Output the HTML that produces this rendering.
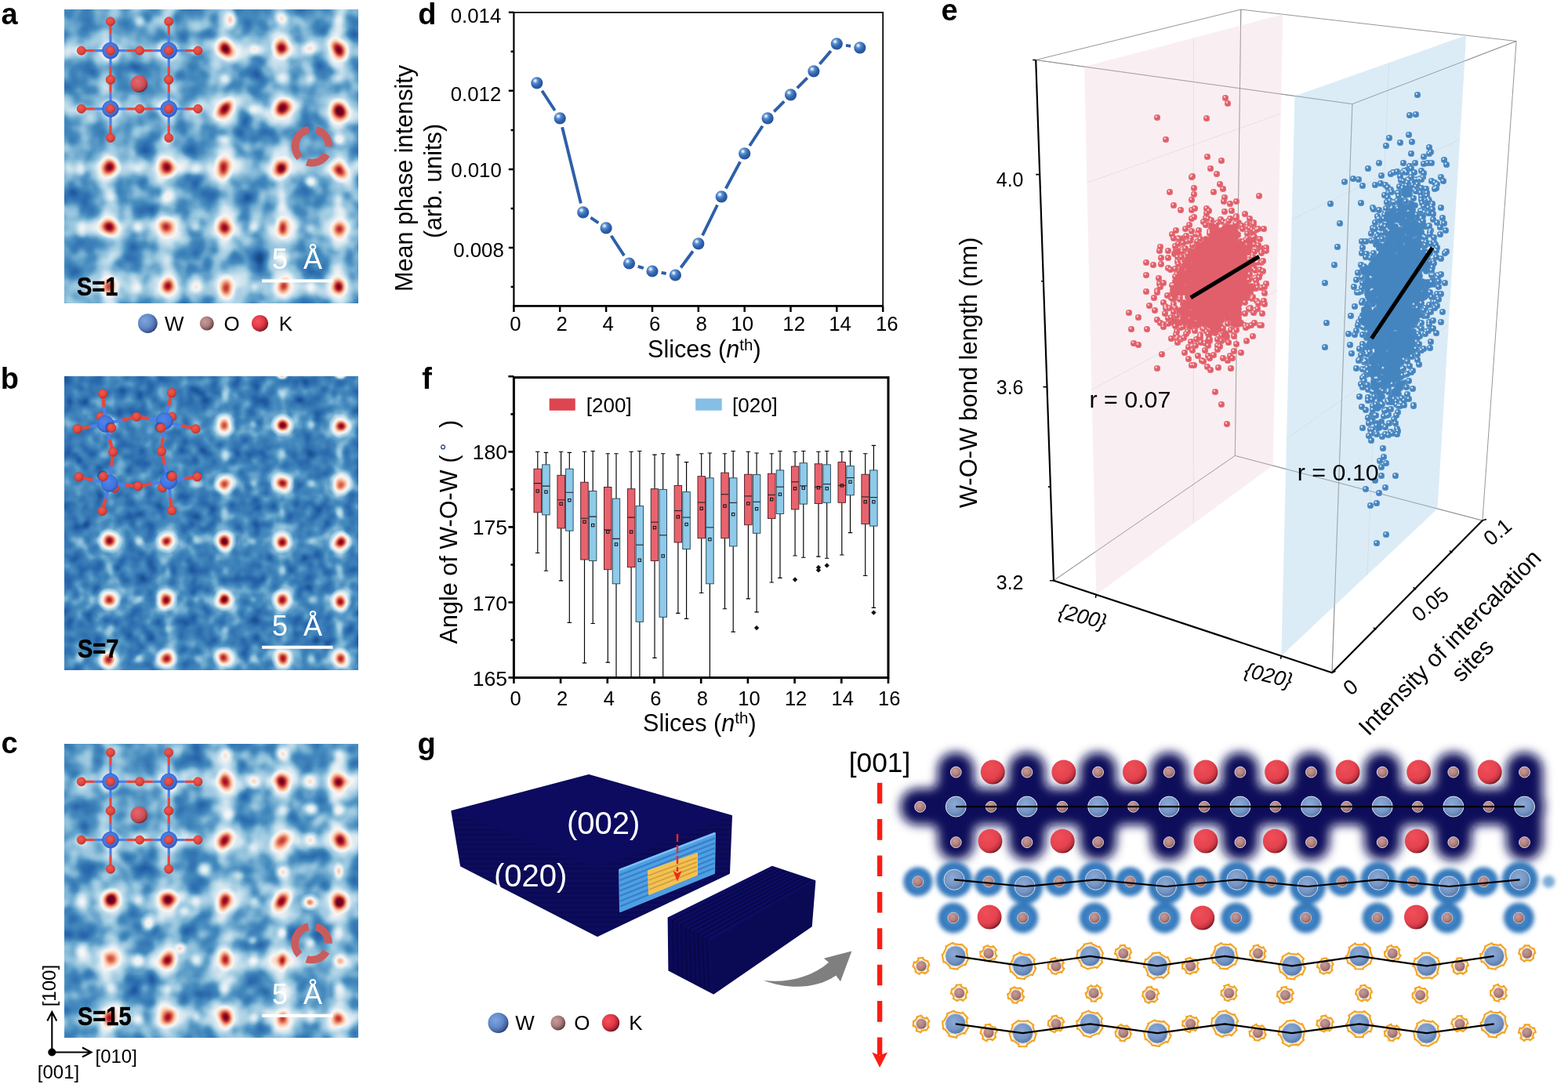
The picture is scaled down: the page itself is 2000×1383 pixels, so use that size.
<!DOCTYPE html>
<html lang="en"><head><meta charset="utf-8"><title>Figure</title>
<style>
html,body{margin:0;padding:0;background:#fff}
body{width:2000px;height:1383px;overflow:hidden}
svg{display:block;font-family:"Liberation Sans",sans-serif}
</style></head><body>
<svg width="2000" height="1383" viewBox="0 0 2000 1383">
<defs><radialGradient id="sS"><stop offset="0.00" stop-color="#fff" stop-opacity="1.000"/><stop offset="0.10" stop-color="#fff" stop-opacity="0.967"/><stop offset="0.20" stop-color="#fff" stop-opacity="0.874"/><stop offset="0.30" stop-color="#fff" stop-opacity="0.738"/><stop offset="0.40" stop-color="#fff" stop-opacity="0.582"/><stop offset="0.50" stop-color="#fff" stop-opacity="0.430"/><stop offset="0.60" stop-color="#fff" stop-opacity="0.296"/><stop offset="0.70" stop-color="#fff" stop-opacity="0.191"/><stop offset="0.80" stop-color="#fff" stop-opacity="0.115"/><stop offset="0.90" stop-color="#fff" stop-opacity="0.065"/><stop offset="1.00" stop-color="#fff" stop-opacity="0.000"/></radialGradient><radialGradient id="sM"><stop offset="0.00" stop-color="#fff" stop-opacity="0.860"/><stop offset="0.10" stop-color="#fff" stop-opacity="0.831"/><stop offset="0.20" stop-color="#fff" stop-opacity="0.751"/><stop offset="0.30" stop-color="#fff" stop-opacity="0.634"/><stop offset="0.40" stop-color="#fff" stop-opacity="0.501"/><stop offset="0.50" stop-color="#fff" stop-opacity="0.369"/><stop offset="0.60" stop-color="#fff" stop-opacity="0.255"/><stop offset="0.70" stop-color="#fff" stop-opacity="0.164"/><stop offset="0.80" stop-color="#fff" stop-opacity="0.099"/><stop offset="0.90" stop-color="#fff" stop-opacity="0.056"/><stop offset="1.00" stop-color="#fff" stop-opacity="0.000"/></radialGradient><radialGradient id="sW"><stop offset="0.00" stop-color="#fff" stop-opacity="0.700"/><stop offset="0.10" stop-color="#fff" stop-opacity="0.677"/><stop offset="0.20" stop-color="#fff" stop-opacity="0.611"/><stop offset="0.30" stop-color="#fff" stop-opacity="0.516"/><stop offset="0.40" stop-color="#fff" stop-opacity="0.408"/><stop offset="0.50" stop-color="#fff" stop-opacity="0.301"/><stop offset="0.60" stop-color="#fff" stop-opacity="0.207"/><stop offset="0.70" stop-color="#fff" stop-opacity="0.134"/><stop offset="0.80" stop-color="#fff" stop-opacity="0.080"/><stop offset="0.90" stop-color="#fff" stop-opacity="0.045"/><stop offset="1.00" stop-color="#fff" stop-opacity="0.000"/></radialGradient><radialGradient id="sH"><stop offset="0.00" stop-color="#fff" stop-opacity="0.400"/><stop offset="0.10" stop-color="#fff" stop-opacity="0.387"/><stop offset="0.20" stop-color="#fff" stop-opacity="0.349"/><stop offset="0.30" stop-color="#fff" stop-opacity="0.295"/><stop offset="0.40" stop-color="#fff" stop-opacity="0.233"/><stop offset="0.50" stop-color="#fff" stop-opacity="0.172"/><stop offset="0.60" stop-color="#fff" stop-opacity="0.118"/><stop offset="0.70" stop-color="#fff" stop-opacity="0.076"/><stop offset="0.80" stop-color="#fff" stop-opacity="0.046"/><stop offset="0.90" stop-color="#fff" stop-opacity="0.026"/><stop offset="1.00" stop-color="#fff" stop-opacity="0.000"/></radialGradient><radialGradient id="sL"><stop offset="0.00" stop-color="#fff" stop-opacity="0.220"/><stop offset="0.10" stop-color="#fff" stop-opacity="0.213"/><stop offset="0.20" stop-color="#fff" stop-opacity="0.192"/><stop offset="0.30" stop-color="#fff" stop-opacity="0.162"/><stop offset="0.40" stop-color="#fff" stop-opacity="0.128"/><stop offset="0.50" stop-color="#fff" stop-opacity="0.095"/><stop offset="0.60" stop-color="#fff" stop-opacity="0.065"/><stop offset="0.70" stop-color="#fff" stop-opacity="0.042"/><stop offset="0.80" stop-color="#fff" stop-opacity="0.025"/><stop offset="0.90" stop-color="#fff" stop-opacity="0.014"/><stop offset="1.00" stop-color="#fff" stop-opacity="0.000"/></radialGradient><radialGradient id="sl"><stop offset="0.00" stop-color="#fff" stop-opacity="0.150"/><stop offset="0.10" stop-color="#fff" stop-opacity="0.145"/><stop offset="0.20" stop-color="#fff" stop-opacity="0.131"/><stop offset="0.30" stop-color="#fff" stop-opacity="0.111"/><stop offset="0.40" stop-color="#fff" stop-opacity="0.087"/><stop offset="0.50" stop-color="#fff" stop-opacity="0.064"/><stop offset="0.60" stop-color="#fff" stop-opacity="0.044"/><stop offset="0.70" stop-color="#fff" stop-opacity="0.029"/><stop offset="0.80" stop-color="#fff" stop-opacity="0.017"/><stop offset="0.90" stop-color="#fff" stop-opacity="0.010"/><stop offset="1.00" stop-color="#fff" stop-opacity="0.000"/></radialGradient><radialGradient id="sh"><stop offset="0.00" stop-color="#fff" stop-opacity="0.330"/><stop offset="0.10" stop-color="#fff" stop-opacity="0.319"/><stop offset="0.20" stop-color="#fff" stop-opacity="0.288"/><stop offset="0.30" stop-color="#fff" stop-opacity="0.243"/><stop offset="0.40" stop-color="#fff" stop-opacity="0.192"/><stop offset="0.50" stop-color="#fff" stop-opacity="0.142"/><stop offset="0.60" stop-color="#fff" stop-opacity="0.098"/><stop offset="0.70" stop-color="#fff" stop-opacity="0.063"/><stop offset="0.80" stop-color="#fff" stop-opacity="0.038"/><stop offset="0.90" stop-color="#fff" stop-opacity="0.021"/><stop offset="1.00" stop-color="#fff" stop-opacity="0.000"/></radialGradient><radialGradient id="sD"><stop offset="0" stop-color="#000" stop-opacity=".13"/><stop offset=".5" stop-color="#000" stop-opacity=".08"/><stop offset="1" stop-color="#000" stop-opacity="0"/></radialGradient><clipPath id="cmac"><rect x="82.3" y="12.3" width="374.7" height="374.7"/></clipPath><filter id="cma" filterUnits="userSpaceOnUse" x="68.3" y="-1.7" width="402.7" height="402.7" color-interpolation-filters="sRGB"><feTurbulence type="fractalNoise" baseFrequency="0.05" numOctaves="2" seed="3" result="n"/><feColorMatrix in="n" type="matrix" values="1 0 0 0 0 1 0 0 0 0 1 0 0 0 0 0 0 0 0 1" result="g0"/><feGaussianBlur in="g0" stdDeviation="2.8" result="g"/><feComposite in="SourceGraphic" in2="g" operator="arithmetic" k1="0" k2="1" k3="0.42" k4="-0.21" result="s"/><feComponentTransfer in="s"><feFuncR type="table" tableValues="0.031 0.149 0.275 0.573 0.820 0.969 0.992 0.957 0.839 0.698 0.404"/><feFuncG type="table" tableValues="0.188 0.392 0.549 0.765 0.898 0.969 0.859 0.647 0.376 0.094 0.000"/><feFuncB type="table" tableValues="0.392 0.667 0.749 0.867 0.941 0.969 0.780 0.510 0.302 0.169 0.122"/><feFuncA type="linear" slope="0" intercept="1"/></feComponentTransfer></filter><clipPath id="cmbc"><rect x="82.3" y="480" width="374.7" height="374.5"/></clipPath><filter id="cmb" filterUnits="userSpaceOnUse" x="68.3" y="466" width="402.7" height="402.5" color-interpolation-filters="sRGB"><feTurbulence type="fractalNoise" baseFrequency="0.075" numOctaves="2" seed="8" result="n"/><feColorMatrix in="n" type="matrix" values="1 0 0 0 0 1 0 0 0 0 1 0 0 0 0 0 0 0 0 1" result="g0"/><feGaussianBlur in="g0" stdDeviation="2.0" result="g"/><feComposite in="SourceGraphic" in2="g" operator="arithmetic" k1="0" k2="1" k3="0.36" k4="-0.18" result="s"/><feComponentTransfer in="s"><feFuncR type="table" tableValues="0.031 0.149 0.275 0.573 0.820 0.969 0.992 0.957 0.839 0.698 0.404"/><feFuncG type="table" tableValues="0.188 0.392 0.549 0.765 0.898 0.969 0.859 0.647 0.376 0.094 0.000"/><feFuncB type="table" tableValues="0.392 0.667 0.749 0.867 0.941 0.969 0.780 0.510 0.302 0.169 0.122"/><feFuncA type="linear" slope="0" intercept="1"/></feComponentTransfer></filter><clipPath id="cmcc"><rect x="82.3" y="949" width="374.7" height="374.6"/></clipPath><filter id="cmc" filterUnits="userSpaceOnUse" x="68.3" y="935" width="402.7" height="402.6" color-interpolation-filters="sRGB"><feTurbulence type="fractalNoise" baseFrequency="0.05" numOctaves="2" seed="5" result="n"/><feColorMatrix in="n" type="matrix" values="1 0 0 0 0 1 0 0 0 0 1 0 0 0 0 0 0 0 0 1" result="g0"/><feGaussianBlur in="g0" stdDeviation="2.8" result="g"/><feComposite in="SourceGraphic" in2="g" operator="arithmetic" k1="0" k2="1" k3="0.42" k4="-0.21" result="s"/><feComponentTransfer in="s"><feFuncR type="table" tableValues="0.031 0.149 0.275 0.573 0.820 0.969 0.992 0.957 0.839 0.698 0.404"/><feFuncG type="table" tableValues="0.188 0.392 0.549 0.765 0.898 0.969 0.859 0.647 0.376 0.094 0.000"/><feFuncB type="table" tableValues="0.392 0.667 0.749 0.867 0.941 0.969 0.780 0.510 0.302 0.169 0.122"/><feFuncA type="linear" slope="0" intercept="1"/></feComponentTransfer></filter>
<radialGradient id="gK" cx="40%" cy="35%" r="65%">
<stop offset="0" stop-color="#e3686e"/><stop offset=".55" stop-color="#d3535b"/><stop offset=".85" stop-color="#b1424b"/><stop offset="1" stop-color="#70242e"/>
</radialGradient>
<radialGradient id="gO" cx="40%" cy="35%" r="65%">
<stop offset="0" stop-color="#ee5a50"/><stop offset=".7" stop-color="#e0443c"/><stop offset="1" stop-color="#b5302c"/>
</radialGradient>
<radialGradient id="gW" cx="42%" cy="38%" r="65%">
<stop offset="0" stop-color="#4f86ea"/><stop offset=".7" stop-color="#3f73de"/><stop offset="1" stop-color="#2c55b8"/>
</radialGradient>
<radialGradient id="lW" cx="36%" cy="36%" r="72%">
<stop offset="0" stop-color="#7fa4e0"/><stop offset=".5" stop-color="#6389c8"/><stop offset=".8" stop-color="#43639f"/><stop offset="1" stop-color="#1c2c52"/>
</radialGradient>
<radialGradient id="lO" cx="36%" cy="36%" r="72%">
<stop offset="0" stop-color="#c99a9a"/><stop offset=".5" stop-color="#ad7f7f"/><stop offset=".8" stop-color="#7f5757"/><stop offset="1" stop-color="#3a2424"/>
</radialGradient>
<radialGradient id="lK" cx="36%" cy="36%" r="72%">
<stop offset="0" stop-color="#f6525e"/><stop offset=".5" stop-color="#e23a48"/><stop offset=".8" stop-color="#a82030"/><stop offset="1" stop-color="#4c0a14"/>
</radialGradient>
<filter id="b5" x="-20%" y="-20%" width="140%" height="140%"><feGaussianBlur stdDeviation="6"/></filter>
<radialGradient id="dB" cx="36%" cy="32%" r="75%">
<stop offset="0" stop-color="#ffffff"/><stop offset=".1" stop-color="#cfe0f4"/><stop offset=".28" stop-color="#5b8fd0"/><stop offset=".6" stop-color="#2f63ae"/><stop offset="1" stop-color="#234f93"/>
</radialGradient>
<filter id="gb" x="-5%" y="-30%" width="110%" height="160%"><feGaussianBlur stdDeviation="6.3"/></filter>
<filter id="gb2" x="-5%" y="-30%" width="110%" height="160%"><feGaussianBlur stdDeviation="2.8"/></filter>
<radialGradient id="aW" cx="42%" cy="38%" r="66%"><stop offset="0" stop-color="#8caad6"/><stop offset=".6" stop-color="#7596c6"/><stop offset="1" stop-color="#56739f"/></radialGradient>
<radialGradient id="aO" cx="40%" cy="35%" r="68%"><stop offset="0" stop-color="#c99a98"/><stop offset=".6" stop-color="#ad807f"/><stop offset="1" stop-color="#7d5856"/></radialGradient>
<radialGradient id="aK" cx="36%" cy="32%" r="74%"><stop offset="0" stop-color="#f04e58"/><stop offset=".6" stop-color="#e4434f"/><stop offset=".82" stop-color="#c2333f"/><stop offset="1" stop-color="#5e0f19"/></radialGradient>
<radialGradient id="bg1"><stop offset="0" stop-color="#4f93d2"/><stop offset=".5" stop-color="#3d83c6"/><stop offset=".8" stop-color="#2b6fb3"/><stop offset="1" stop-color="#4a8fd0" stop-opacity="0"/></radialGradient>
<linearGradient id="sl1" x1="0" y1="0" x2="0" y2="1"><stop offset="0" stop-color="#0f0d66"/><stop offset="1" stop-color="#0b0a58"/></linearGradient>
<pattern id="hs" width="6" height="6.2" patternUnits="userSpaceOnUse"><rect width="6" height="6.2" fill="#0a0952"/><rect y="0" width="6" height="3" fill="#0d0c60"/></pattern>
<pattern id="vs" width="5.2" height="6" patternUnits="userSpaceOnUse"><rect width="5.2" height="6" fill="#0a0952"/><rect x="0" width="2.8" height="6" fill="#0e0d64"/></pattern>
</defs>
<rect width="2000" height="1383" fill="#fff"/>
<g clip-path="url(#cmac)"><g filter="url(#cma)"><rect x="62.3" y="-7.7" width="414.7" height="414.7" fill="rgb(55,55,55)"/><g filter="url(#b5)"><rect x="131" y="-7.7" width="20" height="414.7" fill="#fff" opacity="0.12"/><rect x="204" y="-7.7" width="20" height="414.7" fill="#fff" opacity="0.12"/><rect x="277" y="-7.7" width="20" height="414.7" fill="#fff" opacity="0.12"/><rect x="350" y="-7.7" width="20" height="414.7" fill="#fff" opacity="0.12"/><rect x="423" y="-7.7" width="20" height="414.7" fill="#fff" opacity="0.12"/><rect x="62.3" y="54" width="414.7" height="20" fill="#fff" opacity="0.12"/><rect x="62.3" y="129" width="414.7" height="20" fill="#fff" opacity="0.12"/><rect x="62.3" y="204" width="414.7" height="20" fill="#fff" opacity="0.12"/><rect x="62.3" y="280" width="414.7" height="20" fill="#fff" opacity="0.12"/><rect x="62.3" y="356" width="414.7" height="20" fill="#fff" opacity="0.12"/></g><ellipse cx="178" cy="100" rx="26" ry="22" fill="url(#sD)"/><ellipse cx="250" cy="100" rx="22" ry="22" fill="url(#sD)"/><ellipse cx="324" cy="100" rx="20" ry="20" fill="url(#sD)"/><ellipse cx="104" cy="100" rx="18" ry="22" fill="url(#sD)"/><ellipse cx="250" cy="178" rx="24" ry="20" fill="url(#sD)"/><ellipse cx="324" cy="180" rx="22" ry="18" fill="url(#sD)"/><ellipse cx="178" cy="180" rx="22" ry="16" fill="url(#sD)"/><ellipse cx="250" cy="252" rx="24" ry="22" fill="url(#sD)"/><ellipse cx="324" cy="252" rx="22" ry="24" fill="url(#sD)"/><ellipse cx="178" cy="252" rx="20" ry="22" fill="url(#sD)"/><ellipse cx="104" cy="252" rx="16" ry="20" fill="url(#sD)"/><ellipse cx="396" cy="255" rx="18" ry="22" fill="url(#sD)"/><ellipse cx="250" cy="328" rx="24" ry="22" fill="url(#sD)"/><ellipse cx="324" cy="328" rx="22" ry="22" fill="url(#sD)"/><ellipse cx="178" cy="328" rx="22" ry="22" fill="url(#sD)"/><ellipse cx="396" cy="328" rx="18" ry="22" fill="url(#sD)"/><ellipse cx="104" cy="328" rx="18" ry="22" fill="url(#sD)"/><ellipse cx="396" cy="140" rx="16" ry="16" fill="url(#sD)"/><ellipse cx="445" cy="200" rx="12" ry="30" fill="url(#sD)"/><ellipse cx="90" cy="180" rx="12" ry="30" fill="url(#sD)"/><ellipse cx="324" cy="64" rx="14" ry="11" fill="url(#sH)"/><ellipse cx="396" cy="62" rx="14" ry="12" fill="url(#sH)"/><ellipse cx="294" cy="26" rx="11" ry="15" fill="url(#sH)"/><ellipse cx="360" cy="24" rx="12" ry="14" fill="url(#sH)"/><ellipse cx="432" cy="26" rx="11" ry="14" fill="url(#sL)"/><ellipse cx="432" cy="178" rx="12" ry="12" fill="url(#sH)"/><ellipse cx="396" cy="232" rx="12" ry="12" fill="url(#sH)"/><ellipse cx="323" cy="140" rx="14" ry="10" fill="url(#sL)"/><ellipse cx="250" cy="215" rx="12" ry="12" fill="url(#sL)"/><ellipse cx="176" cy="215" rx="12" ry="11" fill="url(#sL)"/><ellipse cx="103" cy="215" rx="12" ry="18" fill="url(#sL)"/><ellipse cx="360" cy="255" rx="10" ry="24" fill="url(#sL)"/><ellipse cx="432" cy="255" rx="10" ry="20" fill="url(#sL)"/><ellipse cx="360" cy="328" rx="11" ry="15" fill="url(#sL)"/><ellipse cx="323" cy="290" rx="12" ry="11" fill="url(#sL)"/><ellipse cx="250" cy="290" rx="12" ry="11" fill="url(#sL)"/><ellipse cx="176" cy="290" rx="12" ry="11" fill="url(#sL)"/><ellipse cx="104" cy="290" rx="11" ry="15" fill="url(#sL)"/><ellipse cx="396" cy="292" rx="12" ry="11" fill="url(#sL)"/><ellipse cx="396" cy="366" rx="11" ry="12" fill="url(#sL)"/><ellipse cx="324" cy="366" rx="12" ry="11" fill="url(#sL)"/><ellipse cx="250" cy="366" rx="12" ry="11" fill="url(#sL)"/><ellipse cx="176" cy="366" rx="12" ry="11" fill="url(#sL)"/><ellipse cx="214" cy="250" rx="12" ry="15" fill="url(#sL)"/><ellipse cx="141" cy="250" rx="12" ry="15" fill="url(#sL)"/><ellipse cx="287" cy="178" rx="15" ry="12" fill="url(#sL)"/><ellipse cx="212" cy="178" rx="12" ry="12" fill="url(#sL)"/><ellipse cx="287" cy="100" rx="12" ry="12" fill="url(#sL)"/><ellipse cx="360" cy="100" rx="12" ry="12" fill="url(#sL)"/><ellipse cx="432" cy="100" rx="12" ry="12" fill="url(#sL)"/><ellipse cx="396" cy="100" rx="11" ry="11" fill="url(#sL)"/><ellipse cx="103" cy="64" rx="12" ry="11" fill="url(#sL)"/><ellipse cx="103" cy="139" rx="12" ry="11" fill="url(#sL)"/><ellipse cx="178" cy="139" rx="12" ry="10" fill="url(#sL)"/><ellipse cx="178" cy="28" rx="12" ry="12" fill="url(#sL)"/><ellipse cx="250" cy="64" rx="12" ry="10" fill="url(#sL)"/><ellipse cx="250" cy="139" rx="12" ry="10" fill="url(#sL)"/><circle cx="287.5" cy="62.5" r="31" fill="url(#sh)"/><circle cx="359.3" cy="62" r="31" fill="url(#sh)"/><circle cx="432" cy="63" r="31" fill="url(#sh)"/><circle cx="286.5" cy="138.5" r="31" fill="url(#sh)"/><circle cx="360" cy="138.5" r="31" fill="url(#sh)"/><circle cx="433.7" cy="141" r="31" fill="url(#sh)"/><circle cx="140.5" cy="213.5" r="31" fill="url(#sh)"/><circle cx="212.5" cy="213.5" r="31" fill="url(#sh)"/><circle cx="285" cy="214" r="31" fill="url(#sh)"/><circle cx="359.5" cy="215" r="31" fill="url(#sh)"/><circle cx="432.8" cy="217" r="31" fill="url(#sh)"/><circle cx="139.5" cy="289.5" r="31" fill="url(#sh)"/><circle cx="212.5" cy="290" r="31" fill="url(#sh)"/><circle cx="286" cy="290.5" r="31" fill="url(#sh)"/><circle cx="360.5" cy="291" r="31" fill="url(#sh)"/><circle cx="433.5" cy="292" r="31" fill="url(#sh)"/><circle cx="139" cy="366" r="31" fill="url(#sh)"/><circle cx="214" cy="365.5" r="31" fill="url(#sh)"/><circle cx="289" cy="366" r="31" fill="url(#sh)"/><circle cx="361.5" cy="365" r="31" fill="url(#sh)"/><circle cx="432.5" cy="366" r="31" fill="url(#sh)"/><ellipse cx="141" cy="64.5" rx="16.3" ry="16.3" fill="url(#sH)"/><ellipse cx="215" cy="64.5" rx="16.3" ry="16.3" fill="url(#sH)"/><ellipse cx="141" cy="139.5" rx="16.3" ry="16.3" fill="url(#sH)"/><ellipse cx="215" cy="139.5" rx="16.3" ry="16.3" fill="url(#sH)"/><ellipse cx="287.5" cy="62.5" rx="14.1" ry="17" fill="url(#sS)" transform="rotate(-25 287.5 62.5)"/><ellipse cx="359.3" cy="62" rx="14.8" ry="16.3" fill="url(#sS)" transform="rotate(-20 359.3 62)"/><ellipse cx="432" cy="63" rx="13.3" ry="17.8" fill="url(#sS)" transform="rotate(-30 432 63)"/><ellipse cx="286.5" cy="138.5" rx="12.6" ry="19.2" fill="url(#sM)" transform="rotate(40 286.5 138.5)"/><ellipse cx="360" cy="138.5" rx="14.8" ry="17" fill="url(#sS)" transform="rotate(60 360 138.5)"/><ellipse cx="433.7" cy="141" rx="14.1" ry="17.8" fill="url(#sS)" transform="rotate(-30 433.7 141)"/><ellipse cx="140.5" cy="213.5" rx="15.5" ry="15.5" fill="url(#sS)"/><ellipse cx="212.5" cy="213.5" rx="14.8" ry="16.3" fill="url(#sS)" transform="rotate(-20 212.5 213.5)"/><ellipse cx="285" cy="214" rx="13.3" ry="17.8" fill="url(#sS)" transform="rotate(-10 285 214)"/><ellipse cx="359.5" cy="215" rx="13.3" ry="17.8" fill="url(#sS)" transform="rotate(20 359.5 215)"/><ellipse cx="432.8" cy="217" rx="14.1" ry="17.8" fill="url(#sS)" transform="rotate(-20 432.8 217)"/><ellipse cx="139.5" cy="289.5" rx="15.5" ry="14.8" fill="url(#sM)"/><ellipse cx="212.5" cy="290" rx="14.8" ry="16.3" fill="url(#sM)" transform="rotate(-20 212.5 290)"/><ellipse cx="286" cy="290.5" rx="13.3" ry="17" fill="url(#sM)" transform="rotate(-25 286 290.5)"/><ellipse cx="360.5" cy="291" rx="11.1" ry="17" fill="url(#sM)"/><ellipse cx="433.5" cy="292" rx="14.8" ry="12.6" fill="url(#sW)"/><ellipse cx="139" cy="366" rx="14.8" ry="15.5" fill="url(#sM)"/><ellipse cx="214" cy="365.5" rx="13.3" ry="16.3" fill="url(#sM)" transform="rotate(15 214 365.5)"/><ellipse cx="289" cy="366" rx="12.6" ry="17.8" fill="url(#sM)"/><ellipse cx="361.5" cy="365" rx="12.6" ry="13.3" fill="url(#sW)"/><ellipse cx="432.5" cy="366" rx="12.6" ry="14.1" fill="url(#sM)"/></g></g><g><line x1="141" y1="64.6" x2="161.4" y2="64.6" stroke="#4a80e8" stroke-width="3.2"/><line x1="161.4" y1="64.6" x2="178.2" y2="64.6" stroke="#e8463c" stroke-width="3.2"/><line x1="141" y1="64.6" x2="120.6" y2="64.6" stroke="#4a80e8" stroke-width="3.2"/><line x1="120.6" y1="64.6" x2="103.8" y2="64.6" stroke="#e8463c" stroke-width="3.2"/><line x1="141" y1="64.6" x2="141" y2="85" stroke="#4a80e8" stroke-width="3.2"/><line x1="141" y1="85" x2="141" y2="101.8" stroke="#e8463c" stroke-width="3.2"/><line x1="141" y1="64.6" x2="141" y2="44.2" stroke="#4a80e8" stroke-width="3.2"/><line x1="141" y1="44.2" x2="141" y2="27.4" stroke="#e8463c" stroke-width="3.2"/><line x1="215.3" y1="64.6" x2="235.7" y2="64.6" stroke="#4a80e8" stroke-width="3.2"/><line x1="235.7" y1="64.6" x2="252.5" y2="64.6" stroke="#e8463c" stroke-width="3.2"/><line x1="215.3" y1="64.6" x2="194.9" y2="64.6" stroke="#4a80e8" stroke-width="3.2"/><line x1="194.9" y1="64.6" x2="178.2" y2="64.6" stroke="#e8463c" stroke-width="3.2"/><line x1="215.3" y1="64.6" x2="215.3" y2="85" stroke="#4a80e8" stroke-width="3.2"/><line x1="215.3" y1="85" x2="215.3" y2="101.8" stroke="#e8463c" stroke-width="3.2"/><line x1="215.3" y1="64.6" x2="215.3" y2="44.2" stroke="#4a80e8" stroke-width="3.2"/><line x1="215.3" y1="44.2" x2="215.3" y2="27.4" stroke="#e8463c" stroke-width="3.2"/><line x1="141" y1="138.9" x2="161.4" y2="138.9" stroke="#4a80e8" stroke-width="3.2"/><line x1="161.4" y1="138.9" x2="178.2" y2="138.9" stroke="#e8463c" stroke-width="3.2"/><line x1="141" y1="138.9" x2="120.6" y2="138.9" stroke="#4a80e8" stroke-width="3.2"/><line x1="120.6" y1="138.9" x2="103.8" y2="138.9" stroke="#e8463c" stroke-width="3.2"/><line x1="141" y1="138.9" x2="141" y2="159.3" stroke="#4a80e8" stroke-width="3.2"/><line x1="141" y1="159.3" x2="141" y2="176" stroke="#e8463c" stroke-width="3.2"/><line x1="141" y1="138.9" x2="141" y2="118.5" stroke="#4a80e8" stroke-width="3.2"/><line x1="141" y1="118.5" x2="141" y2="101.7" stroke="#e8463c" stroke-width="3.2"/><line x1="215.3" y1="138.9" x2="235.7" y2="138.9" stroke="#4a80e8" stroke-width="3.2"/><line x1="235.7" y1="138.9" x2="252.5" y2="138.9" stroke="#e8463c" stroke-width="3.2"/><line x1="215.3" y1="138.9" x2="194.9" y2="138.9" stroke="#4a80e8" stroke-width="3.2"/><line x1="194.9" y1="138.9" x2="178.2" y2="138.9" stroke="#e8463c" stroke-width="3.2"/><line x1="215.3" y1="138.9" x2="215.3" y2="159.3" stroke="#4a80e8" stroke-width="3.2"/><line x1="215.3" y1="159.3" x2="215.3" y2="176" stroke="#e8463c" stroke-width="3.2"/><line x1="215.3" y1="138.9" x2="215.3" y2="118.5" stroke="#4a80e8" stroke-width="3.2"/><line x1="215.3" y1="118.5" x2="215.3" y2="101.7" stroke="#e8463c" stroke-width="3.2"/><circle cx="103.8" cy="64.6" r="5.6" fill="url(#gO)" stroke="#c8382f" stroke-width=".6"/><circle cx="103.8" cy="138.9" r="5.6" fill="url(#gO)" stroke="#c8382f" stroke-width=".6"/><circle cx="141" cy="27.4" r="5.6" fill="url(#gO)" stroke="#c8382f" stroke-width=".6"/><circle cx="141" cy="101.7" r="5.6" fill="url(#gO)" stroke="#c8382f" stroke-width=".6"/><circle cx="141" cy="101.8" r="5.6" fill="url(#gO)" stroke="#c8382f" stroke-width=".6"/><circle cx="141" cy="176" r="5.6" fill="url(#gO)" stroke="#c8382f" stroke-width=".6"/><circle cx="178.2" cy="64.6" r="5.6" fill="url(#gO)" stroke="#c8382f" stroke-width=".6"/><circle cx="178.2" cy="138.9" r="5.6" fill="url(#gO)" stroke="#c8382f" stroke-width=".6"/><circle cx="215.3" cy="27.4" r="5.6" fill="url(#gO)" stroke="#c8382f" stroke-width=".6"/><circle cx="215.3" cy="101.7" r="5.6" fill="url(#gO)" stroke="#c8382f" stroke-width=".6"/><circle cx="215.3" cy="101.8" r="5.6" fill="url(#gO)" stroke="#c8382f" stroke-width=".6"/><circle cx="215.3" cy="176" r="5.6" fill="url(#gO)" stroke="#c8382f" stroke-width=".6"/><circle cx="252.5" cy="64.6" r="5.6" fill="url(#gO)" stroke="#c8382f" stroke-width=".6"/><circle cx="252.5" cy="138.9" r="5.6" fill="url(#gO)" stroke="#c8382f" stroke-width=".6"/><circle cx="141" cy="64.6" r="10.4" fill="url(#gW)" stroke="#2c55b8" stroke-width=".7"/><circle cx="141" cy="64.6" r="5.6" fill="url(#gO)" stroke="#c8382f" stroke-width=".6"/><circle cx="215.3" cy="64.6" r="10.4" fill="url(#gW)" stroke="#2c55b8" stroke-width=".7"/><circle cx="215.3" cy="64.6" r="5.6" fill="url(#gO)" stroke="#c8382f" stroke-width=".6"/><circle cx="141" cy="138.9" r="10.4" fill="url(#gW)" stroke="#2c55b8" stroke-width=".7"/><circle cx="141" cy="138.9" r="5.6" fill="url(#gO)" stroke="#c8382f" stroke-width=".6"/><circle cx="215.3" cy="138.9" r="10.4" fill="url(#gW)" stroke="#2c55b8" stroke-width=".7"/><circle cx="215.3" cy="138.9" r="5.6" fill="url(#gO)" stroke="#c8382f" stroke-width=".6"/><circle cx="177.3" cy="107" r="10.8" fill="url(#gK)"/></g><path d="M393.9 165.4A21.4 21.4 0 0 0 382.3 201" fill="none" stroke="#e2564f" stroke-width="9.6"/><path d="M393.5 165.5A21.4 21.4 0 0 0 382 200.7" fill="none" stroke="#c85c5f" stroke-width="8.2"/><path d="M419.4 186.8A21.4 21.4 0 0 0 403.2 165.6" fill="none" stroke="#e2564f" stroke-width="9.6"/><path d="M419.4 186.3A21.4 21.4 0 0 0 403.6 165.7" fill="none" stroke="#c85c5f" stroke-width="8.2"/><path d="M391.4 206.8A21.4 21.4 0 0 0 416.5 197.1" fill="none" stroke="#e2564f" stroke-width="9.6"/><path d="M391.8 206.9A21.4 21.4 0 0 0 416.3 197.5" fill="none" stroke="#c85c5f" stroke-width="8.2"/><rect x="334.2" y="356.4" width="90.3" height="4" fill="#fff"/><text x="347" y="343.2" font-size="36" fill="#fff">5</text><text x="387" y="343.2" font-size="36" fill="#fff">Å</text><text transform="translate(98 376.5) scale(1 1.14)" font-size="29" font-weight="bold" fill="#000" stroke="#000" stroke-width=".5" stroke-linejoin="round">S=1</text><g clip-path="url(#cmbc)"><g filter="url(#cmb)"><rect x="62.3" y="460" width="414.7" height="414.5" fill="rgb(42,42,42)"/><g filter="url(#b5)"><rect x="131" y="460" width="20" height="414.5" fill="#fff" opacity="0.04"/><rect x="204" y="460" width="20" height="414.5" fill="#fff" opacity="0.04"/><rect x="277" y="460" width="20" height="414.5" fill="#fff" opacity="0.04"/><rect x="350" y="460" width="20" height="414.5" fill="#fff" opacity="0.04"/><rect x="423" y="460" width="20" height="414.5" fill="#fff" opacity="0.04"/><rect x="62.3" y="532" width="414.7" height="20" fill="#fff" opacity="0.04"/><rect x="62.3" y="607" width="414.7" height="20" fill="#fff" opacity="0.04"/><rect x="62.3" y="681" width="414.7" height="20" fill="#fff" opacity="0.04"/><rect x="62.3" y="755" width="414.7" height="20" fill="#fff" opacity="0.04"/><rect x="62.3" y="830" width="414.7" height="20" fill="#fff" opacity="0.04"/></g><ellipse cx="104" cy="505" rx="22" ry="22" fill="url(#sD)"/><ellipse cx="104" cy="580" rx="22" ry="22" fill="url(#sD)"/><ellipse cx="104" cy="654" rx="22" ry="22" fill="url(#sD)"/><ellipse cx="104" cy="728" rx="22" ry="22" fill="url(#sD)"/><ellipse cx="104" cy="803" rx="22" ry="22" fill="url(#sD)"/><ellipse cx="178" cy="505" rx="22" ry="22" fill="url(#sD)"/><ellipse cx="178" cy="580" rx="22" ry="22" fill="url(#sD)"/><ellipse cx="178" cy="654" rx="22" ry="22" fill="url(#sD)"/><ellipse cx="178" cy="728" rx="22" ry="22" fill="url(#sD)"/><ellipse cx="178" cy="803" rx="22" ry="22" fill="url(#sD)"/><ellipse cx="250" cy="505" rx="22" ry="22" fill="url(#sD)"/><ellipse cx="250" cy="580" rx="22" ry="22" fill="url(#sD)"/><ellipse cx="250" cy="654" rx="22" ry="22" fill="url(#sD)"/><ellipse cx="250" cy="728" rx="22" ry="22" fill="url(#sD)"/><ellipse cx="250" cy="803" rx="22" ry="22" fill="url(#sD)"/><ellipse cx="324" cy="505" rx="22" ry="22" fill="url(#sD)"/><ellipse cx="324" cy="580" rx="22" ry="22" fill="url(#sD)"/><ellipse cx="324" cy="654" rx="22" ry="22" fill="url(#sD)"/><ellipse cx="324" cy="728" rx="22" ry="22" fill="url(#sD)"/><ellipse cx="324" cy="803" rx="22" ry="22" fill="url(#sD)"/><ellipse cx="397" cy="505" rx="22" ry="22" fill="url(#sD)"/><ellipse cx="397" cy="580" rx="22" ry="22" fill="url(#sD)"/><ellipse cx="397" cy="654" rx="22" ry="22" fill="url(#sD)"/><ellipse cx="397" cy="728" rx="22" ry="22" fill="url(#sD)"/><ellipse cx="397" cy="803" rx="22" ry="22" fill="url(#sD)"/><ellipse cx="141" cy="728" rx="9" ry="14" fill="url(#sl)"/><ellipse cx="141" cy="803" rx="9" ry="14" fill="url(#sl)"/><ellipse cx="214" cy="728" rx="9" ry="14" fill="url(#sl)"/><ellipse cx="214" cy="803" rx="9" ry="14" fill="url(#sl)"/><ellipse cx="287" cy="505" rx="9" ry="14" fill="url(#sl)"/><ellipse cx="287" cy="580" rx="9" ry="14" fill="url(#sl)"/><ellipse cx="287" cy="654" rx="9" ry="14" fill="url(#sl)"/><ellipse cx="287" cy="728" rx="9" ry="14" fill="url(#sl)"/><ellipse cx="287" cy="803" rx="9" ry="14" fill="url(#sl)"/><ellipse cx="360" cy="505" rx="9" ry="14" fill="url(#sl)"/><ellipse cx="360" cy="580" rx="9" ry="14" fill="url(#sl)"/><ellipse cx="360" cy="654" rx="9" ry="14" fill="url(#sl)"/><ellipse cx="360" cy="728" rx="9" ry="14" fill="url(#sl)"/><ellipse cx="360" cy="803" rx="9" ry="14" fill="url(#sl)"/><ellipse cx="433" cy="505" rx="9" ry="14" fill="url(#sl)"/><ellipse cx="433" cy="580" rx="9" ry="14" fill="url(#sl)"/><ellipse cx="433" cy="654" rx="9" ry="14" fill="url(#sl)"/><ellipse cx="433" cy="728" rx="9" ry="14" fill="url(#sl)"/><ellipse cx="433" cy="803" rx="9" ry="14" fill="url(#sl)"/><ellipse cx="103" cy="691" rx="10" ry="10" fill="url(#sl)"/><ellipse cx="103" cy="765" rx="10" ry="10" fill="url(#sl)"/><ellipse cx="103" cy="840" rx="10" ry="10" fill="url(#sl)"/><ellipse cx="177" cy="691" rx="10" ry="10" fill="url(#sl)"/><ellipse cx="177" cy="765" rx="10" ry="10" fill="url(#sl)"/><ellipse cx="177" cy="840" rx="10" ry="10" fill="url(#sl)"/><ellipse cx="250" cy="542" rx="10" ry="10" fill="url(#sl)"/><ellipse cx="250" cy="617" rx="10" ry="10" fill="url(#sl)"/><ellipse cx="250" cy="691" rx="10" ry="10" fill="url(#sl)"/><ellipse cx="250" cy="765" rx="10" ry="10" fill="url(#sl)"/><ellipse cx="250" cy="840" rx="10" ry="10" fill="url(#sl)"/><ellipse cx="323" cy="542" rx="10" ry="10" fill="url(#sl)"/><ellipse cx="323" cy="617" rx="10" ry="10" fill="url(#sl)"/><ellipse cx="323" cy="691" rx="10" ry="10" fill="url(#sl)"/><ellipse cx="323" cy="765" rx="10" ry="10" fill="url(#sl)"/><ellipse cx="323" cy="840" rx="10" ry="10" fill="url(#sl)"/><ellipse cx="397" cy="542" rx="10" ry="10" fill="url(#sl)"/><ellipse cx="397" cy="617" rx="10" ry="10" fill="url(#sl)"/><ellipse cx="397" cy="691" rx="10" ry="10" fill="url(#sl)"/><ellipse cx="397" cy="765" rx="10" ry="10" fill="url(#sl)"/><ellipse cx="397" cy="840" rx="10" ry="10" fill="url(#sl)"/><ellipse cx="360" cy="478" rx="10" ry="8" fill="url(#sM)"/><ellipse cx="434" cy="478" rx="10" ry="8" fill="url(#sW)"/><circle cx="286" cy="542" r="27" fill="url(#sL)"/><circle cx="360.3" cy="542.5" r="27" fill="url(#sL)"/><circle cx="434.5" cy="543.5" r="27" fill="url(#sL)"/><circle cx="287" cy="617" r="27" fill="url(#sL)"/><circle cx="360.3" cy="616.5" r="27" fill="url(#sL)"/><circle cx="435" cy="618" r="27" fill="url(#sL)"/><circle cx="139.5" cy="690.5" r="27" fill="url(#sL)"/><circle cx="213" cy="691" r="27" fill="url(#sL)"/><circle cx="286.3" cy="690.5" r="27" fill="url(#sL)"/><circle cx="360.3" cy="691" r="27" fill="url(#sL)"/><circle cx="434.3" cy="692" r="27" fill="url(#sL)"/><circle cx="139.5" cy="765" r="27" fill="url(#sL)"/><circle cx="212.5" cy="765.5" r="27" fill="url(#sL)"/><circle cx="286" cy="765.5" r="27" fill="url(#sL)"/><circle cx="360.3" cy="765.5" r="27" fill="url(#sL)"/><circle cx="434.5" cy="767" r="27" fill="url(#sL)"/><circle cx="138.5" cy="841" r="27" fill="url(#sL)"/><circle cx="212" cy="840.5" r="27" fill="url(#sL)"/><circle cx="285.5" cy="840" r="27" fill="url(#sL)"/><circle cx="360.5" cy="840.5" r="27" fill="url(#sL)"/><circle cx="434.5" cy="841" r="27" fill="url(#sL)"/><ellipse cx="137" cy="541" rx="15.6" ry="15.6" fill="url(#sH)"/><ellipse cx="211" cy="540" rx="13.9" ry="13.9" fill="url(#sL)"/><ellipse cx="140" cy="616" rx="13.9" ry="13.9" fill="url(#sL)"/><ellipse cx="214" cy="614" rx="13.9" ry="13.9" fill="url(#sL)"/><ellipse cx="286" cy="542" rx="15.6" ry="16.4" fill="url(#sW)" transform="rotate(-30 286 542)"/><ellipse cx="360.3" cy="542.5" rx="15.6" ry="15.6" fill="url(#sS)"/><ellipse cx="434.5" cy="543.5" rx="14.8" ry="16.4" fill="url(#sS)" transform="rotate(-20 434.5 543.5)"/><ellipse cx="287" cy="617" rx="15.6" ry="15.6" fill="url(#sW)"/><ellipse cx="360.3" cy="616.5" rx="16.4" ry="14.8" fill="url(#sM)" transform="rotate(20 360.3 616.5)"/><ellipse cx="435" cy="618" rx="16.4" ry="16.4" fill="url(#sW)"/><ellipse cx="139.5" cy="690.5" rx="16.4" ry="17.2" fill="url(#sM)" transform="rotate(-35 139.5 690.5)"/><ellipse cx="213" cy="691" rx="15.6" ry="15.6" fill="url(#sM)"/><ellipse cx="286.3" cy="690.5" rx="15.6" ry="15.6" fill="url(#sS)"/><ellipse cx="360.3" cy="691" rx="14.8" ry="15.6" fill="url(#sS)"/><ellipse cx="434.3" cy="692" rx="15.6" ry="15.6" fill="url(#sS)"/><ellipse cx="139.5" cy="765" rx="15.6" ry="15.6" fill="url(#sM)"/><ellipse cx="212.5" cy="765.5" rx="14.8" ry="15.6" fill="url(#sS)"/><ellipse cx="286" cy="765.5" rx="14.8" ry="14.8" fill="url(#sS)"/><ellipse cx="360.3" cy="765.5" rx="14.8" ry="15.6" fill="url(#sS)"/><ellipse cx="434.5" cy="767" rx="14.8" ry="15.6" fill="url(#sM)"/><ellipse cx="138.5" cy="841" rx="14.8" ry="15.6" fill="url(#sM)"/><ellipse cx="212" cy="840.5" rx="14.8" ry="14.8" fill="url(#sM)"/><ellipse cx="285.5" cy="840" rx="14.8" ry="15.6" fill="url(#sM)"/><ellipse cx="360.5" cy="840.5" rx="14.8" ry="15.6" fill="url(#sM)"/><ellipse cx="434.5" cy="841" rx="13.9" ry="15.6" fill="url(#sM)"/></g></g><g clip-path="url(#cmcc)"><g filter="url(#cmc)"><rect x="62.3" y="929" width="414.7" height="414.6" fill="rgb(55,55,55)"/><g filter="url(#b5)"><rect x="131" y="929" width="20" height="414.6" fill="#fff" opacity="0.12"/><rect x="204" y="929" width="20" height="414.6" fill="#fff" opacity="0.12"/><rect x="277" y="929" width="20" height="414.6" fill="#fff" opacity="0.12"/><rect x="350" y="929" width="20" height="414.6" fill="#fff" opacity="0.12"/><rect x="423" y="929" width="20" height="414.6" fill="#fff" opacity="0.12"/><rect x="62.3" y="987" width="414.7" height="20" fill="#fff" opacity="0.12"/><rect x="62.3" y="1063" width="414.7" height="20" fill="#fff" opacity="0.12"/><rect x="62.3" y="1139" width="414.7" height="20" fill="#fff" opacity="0.12"/><rect x="62.3" y="1215" width="414.7" height="20" fill="#fff" opacity="0.12"/><rect x="62.3" y="1288" width="414.7" height="20" fill="#fff" opacity="0.12"/></g><ellipse cx="178" cy="1037" rx="22" ry="22" fill="url(#sD)"/><ellipse cx="250" cy="1037" rx="22" ry="22" fill="url(#sD)"/><ellipse cx="324" cy="1037" rx="22" ry="22" fill="url(#sD)"/><ellipse cx="104" cy="1037" rx="22" ry="22" fill="url(#sD)"/><ellipse cx="250" cy="1115" rx="22" ry="22" fill="url(#sD)"/><ellipse cx="178" cy="1117" rx="22" ry="22" fill="url(#sD)"/><ellipse cx="250" cy="1189" rx="22" ry="22" fill="url(#sD)"/><ellipse cx="324" cy="1189" rx="22" ry="22" fill="url(#sD)"/><ellipse cx="178" cy="1189" rx="22" ry="22" fill="url(#sD)"/><ellipse cx="104" cy="1189" rx="22" ry="22" fill="url(#sD)"/><ellipse cx="250" cy="1265" rx="22" ry="22" fill="url(#sD)"/><ellipse cx="324" cy="1265" rx="22" ry="22" fill="url(#sD)"/><ellipse cx="178" cy="1265" rx="22" ry="22" fill="url(#sD)"/><ellipse cx="104" cy="1265" rx="22" ry="22" fill="url(#sD)"/><ellipse cx="324" cy="997" rx="14" ry="12" fill="url(#sH)"/><ellipse cx="396" cy="996" rx="14" ry="13" fill="url(#sH)"/><ellipse cx="287" cy="962" rx="12" ry="16" fill="url(#sH)"/><ellipse cx="360" cy="962" rx="13" ry="13" fill="url(#sH)"/><ellipse cx="432" cy="962" rx="10" ry="12" fill="url(#sL)"/><ellipse cx="396" cy="1032" rx="13" ry="12" fill="url(#sH)"/><ellipse cx="360" cy="1034" rx="12" ry="12" fill="url(#sL)"/><ellipse cx="432" cy="1034" rx="11" ry="12" fill="url(#sH)"/><ellipse cx="396" cy="1072" rx="12" ry="12" fill="url(#sH)"/><ellipse cx="324" cy="1080" rx="13" ry="13" fill="url(#sL)"/><ellipse cx="305" cy="1117" rx="17" ry="11" fill="url(#sL)"/><ellipse cx="360" cy="1112" rx="12" ry="13" fill="url(#sH)"/><ellipse cx="432" cy="1112" rx="8" ry="14" fill="url(#sH)"/><ellipse cx="395" cy="1151" rx="13" ry="12" fill="url(#sW)"/><ellipse cx="324" cy="1150" rx="12" ry="11" fill="url(#sL)"/><ellipse cx="250" cy="1150" rx="12" ry="11" fill="url(#sL)"/><ellipse cx="176" cy="1150" rx="12" ry="11" fill="url(#sL)"/><ellipse cx="104" cy="1150" rx="12" ry="15" fill="url(#sL)"/><ellipse cx="190" cy="1178" rx="12" ry="15" fill="url(#sH)"/><ellipse cx="235" cy="1162" rx="11" ry="11" fill="url(#sL)"/><ellipse cx="360" cy="1190" rx="10" ry="11" fill="url(#sH)"/><ellipse cx="396" cy="1203" rx="10" ry="10" fill="url(#sL)"/><ellipse cx="432" cy="1190" rx="11" ry="13" fill="url(#sL)"/><ellipse cx="323" cy="1200" rx="11" ry="11" fill="url(#sL)"/><ellipse cx="230" cy="1210" rx="10" ry="10" fill="url(#sH)"/><ellipse cx="250" cy="1226" rx="12" ry="11" fill="url(#sL)"/><ellipse cx="176" cy="1226" rx="12" ry="12" fill="url(#sL)"/><ellipse cx="104" cy="1215" rx="12" ry="18" fill="url(#sL)"/><ellipse cx="396" cy="1226" rx="12" ry="11" fill="url(#sL)"/><ellipse cx="323" cy="1226" rx="11" ry="10" fill="url(#sL)"/><ellipse cx="360" cy="1262" rx="12" ry="18" fill="url(#sL)"/><ellipse cx="432" cy="1262" rx="11" ry="15" fill="url(#sL)"/><ellipse cx="287" cy="1262" rx="11" ry="14" fill="url(#sL)"/><ellipse cx="214" cy="1262" rx="11" ry="14" fill="url(#sL)"/><ellipse cx="141" cy="1262" rx="11" ry="14" fill="url(#sL)"/><ellipse cx="396" cy="1298" rx="11" ry="15" fill="url(#sL)"/><ellipse cx="324" cy="1298" rx="12" ry="11" fill="url(#sL)"/><ellipse cx="250" cy="1298" rx="12" ry="11" fill="url(#sL)"/><ellipse cx="176" cy="1300" rx="12" ry="11" fill="url(#sL)"/><ellipse cx="290" cy="1040" rx="13" ry="12" fill="url(#sL)"/><ellipse cx="260" cy="1110" rx="12" ry="12" fill="url(#sL)"/><ellipse cx="103" cy="997" rx="12" ry="11" fill="url(#sL)"/><ellipse cx="103" cy="1072" rx="12" ry="11" fill="url(#sL)"/><ellipse cx="178" cy="1072" rx="12" ry="10" fill="url(#sL)"/><ellipse cx="250" cy="997" rx="12" ry="10" fill="url(#sL)"/><ellipse cx="250" cy="1072" rx="12" ry="10" fill="url(#sL)"/><circle cx="287.5" cy="996.5" r="31" fill="url(#sh)"/><circle cx="359.3" cy="997" r="31" fill="url(#sh)"/><circle cx="431.8" cy="998" r="31" fill="url(#sh)"/><circle cx="287" cy="1072.5" r="31" fill="url(#sh)"/><circle cx="359.5" cy="1072.5" r="31" fill="url(#sh)"/><circle cx="434.5" cy="1073" r="31" fill="url(#sh)"/><circle cx="141.5" cy="1148" r="31" fill="url(#sh)"/><circle cx="214.5" cy="1148.5" r="31" fill="url(#sh)"/><circle cx="286.5" cy="1149.5" r="31" fill="url(#sh)"/><circle cx="359.5" cy="1149.5" r="31" fill="url(#sh)"/><circle cx="433.5" cy="1151" r="31" fill="url(#sh)"/><circle cx="141.5" cy="1224" r="31" fill="url(#sh)"/><circle cx="214.5" cy="1224.5" r="31" fill="url(#sh)"/><circle cx="287.5" cy="1225" r="31" fill="url(#sh)"/><circle cx="360.3" cy="1226" r="31" fill="url(#sh)"/><circle cx="139.5" cy="1298" r="31" fill="url(#sh)"/><circle cx="214.5" cy="1298.5" r="31" fill="url(#sh)"/><circle cx="287.5" cy="1298" r="31" fill="url(#sh)"/><circle cx="360.5" cy="1298" r="31" fill="url(#sh)"/><circle cx="432" cy="1298.5" r="31" fill="url(#sh)"/><ellipse cx="141" cy="997.5" rx="16.3" ry="16.3" fill="url(#sH)"/><ellipse cx="215" cy="997.5" rx="16.3" ry="16.3" fill="url(#sH)"/><ellipse cx="141" cy="1072.5" rx="16.3" ry="16.3" fill="url(#sH)"/><ellipse cx="215" cy="1072.5" rx="16.3" ry="16.3" fill="url(#sH)"/><ellipse cx="287.5" cy="996.5" rx="13.3" ry="17.8" fill="url(#sM)" transform="rotate(-10 287.5 996.5)"/><ellipse cx="359.3" cy="997" rx="14.1" ry="16.3" fill="url(#sS)" transform="rotate(-10 359.3 997)"/><ellipse cx="431.8" cy="998" rx="14.8" ry="14.8" fill="url(#sS)"/><ellipse cx="287" cy="1072.5" rx="12.6" ry="19.2" fill="url(#sM)" transform="rotate(35 287 1072.5)"/><ellipse cx="359.5" cy="1072.5" rx="13.3" ry="19.2" fill="url(#sM)" transform="rotate(55 359.5 1072.5)"/><ellipse cx="434.5" cy="1073" rx="14.8" ry="16.3" fill="url(#sS)" transform="rotate(-20 434.5 1073)"/><ellipse cx="141.5" cy="1148" rx="14.8" ry="17" fill="url(#sS)" transform="rotate(10 141.5 1148)"/><ellipse cx="214.5" cy="1148.5" rx="15.5" ry="15.5" fill="url(#sS)"/><ellipse cx="286.5" cy="1149.5" rx="12.6" ry="18.5" fill="url(#sS)" transform="rotate(30 286.5 1149.5)"/><ellipse cx="359.5" cy="1149.5" rx="13.3" ry="18.5" fill="url(#sS)" transform="rotate(35 359.5 1149.5)"/><ellipse cx="433.5" cy="1151" rx="15.5" ry="15.5" fill="url(#sS)"/><ellipse cx="141.5" cy="1224" rx="15.5" ry="15.5" fill="url(#sW)"/><ellipse cx="214.5" cy="1224.5" rx="13.3" ry="16.3" fill="url(#sM)" transform="rotate(25 214.5 1224.5)"/><ellipse cx="287.5" cy="1225" rx="11.8" ry="16.3" fill="url(#sM)"/><ellipse cx="360.3" cy="1226" rx="8.9" ry="17" fill="url(#sW)"/><ellipse cx="433.5" cy="1226" rx="12.6" ry="11.1" fill="url(#sH)"/><ellipse cx="139.5" cy="1298" rx="13.3" ry="15.5" fill="url(#sM)"/><ellipse cx="214.5" cy="1298.5" rx="13.3" ry="16.3" fill="url(#sW)" transform="rotate(30 214.5 1298.5)"/><ellipse cx="287.5" cy="1298" rx="12.6" ry="17.8" fill="url(#sM)" transform="rotate(-10 287.5 1298)"/><ellipse cx="360.5" cy="1298" rx="11.8" ry="14.1" fill="url(#sW)"/><ellipse cx="432" cy="1298.5" rx="11.8" ry="14.1" fill="url(#sW)"/></g></g><g><line x1="141" y1="997.3" x2="161.4" y2="997.3" stroke="#4a80e8" stroke-width="3.2"/><line x1="161.4" y1="997.3" x2="178.2" y2="997.3" stroke="#e8463c" stroke-width="3.2"/><line x1="141" y1="997.3" x2="120.6" y2="997.3" stroke="#4a80e8" stroke-width="3.2"/><line x1="120.6" y1="997.3" x2="103.8" y2="997.3" stroke="#e8463c" stroke-width="3.2"/><line x1="141" y1="997.3" x2="141" y2="1017.7" stroke="#4a80e8" stroke-width="3.2"/><line x1="141" y1="1017.7" x2="141" y2="1034.5" stroke="#e8463c" stroke-width="3.2"/><line x1="141" y1="997.3" x2="141" y2="976.9" stroke="#4a80e8" stroke-width="3.2"/><line x1="141" y1="976.9" x2="141" y2="960.1" stroke="#e8463c" stroke-width="3.2"/><line x1="215.3" y1="997.3" x2="235.7" y2="997.3" stroke="#4a80e8" stroke-width="3.2"/><line x1="235.7" y1="997.3" x2="252.5" y2="997.3" stroke="#e8463c" stroke-width="3.2"/><line x1="215.3" y1="997.3" x2="194.9" y2="997.3" stroke="#4a80e8" stroke-width="3.2"/><line x1="194.9" y1="997.3" x2="178.2" y2="997.3" stroke="#e8463c" stroke-width="3.2"/><line x1="215.3" y1="997.3" x2="215.3" y2="1017.7" stroke="#4a80e8" stroke-width="3.2"/><line x1="215.3" y1="1017.7" x2="215.3" y2="1034.5" stroke="#e8463c" stroke-width="3.2"/><line x1="215.3" y1="997.3" x2="215.3" y2="976.9" stroke="#4a80e8" stroke-width="3.2"/><line x1="215.3" y1="976.9" x2="215.3" y2="960.1" stroke="#e8463c" stroke-width="3.2"/><line x1="141" y1="1071.6" x2="161.4" y2="1071.6" stroke="#4a80e8" stroke-width="3.2"/><line x1="161.4" y1="1071.6" x2="178.2" y2="1071.6" stroke="#e8463c" stroke-width="3.2"/><line x1="141" y1="1071.6" x2="120.6" y2="1071.6" stroke="#4a80e8" stroke-width="3.2"/><line x1="120.6" y1="1071.6" x2="103.8" y2="1071.6" stroke="#e8463c" stroke-width="3.2"/><line x1="141" y1="1071.6" x2="141" y2="1092" stroke="#4a80e8" stroke-width="3.2"/><line x1="141" y1="1092" x2="141" y2="1108.8" stroke="#e8463c" stroke-width="3.2"/><line x1="141" y1="1071.6" x2="141" y2="1051.2" stroke="#4a80e8" stroke-width="3.2"/><line x1="141" y1="1051.2" x2="141" y2="1034.4" stroke="#e8463c" stroke-width="3.2"/><line x1="215.3" y1="1071.6" x2="235.7" y2="1071.6" stroke="#4a80e8" stroke-width="3.2"/><line x1="235.7" y1="1071.6" x2="252.5" y2="1071.6" stroke="#e8463c" stroke-width="3.2"/><line x1="215.3" y1="1071.6" x2="194.9" y2="1071.6" stroke="#4a80e8" stroke-width="3.2"/><line x1="194.9" y1="1071.6" x2="178.2" y2="1071.6" stroke="#e8463c" stroke-width="3.2"/><line x1="215.3" y1="1071.6" x2="215.3" y2="1092" stroke="#4a80e8" stroke-width="3.2"/><line x1="215.3" y1="1092" x2="215.3" y2="1108.8" stroke="#e8463c" stroke-width="3.2"/><line x1="215.3" y1="1071.6" x2="215.3" y2="1051.2" stroke="#4a80e8" stroke-width="3.2"/><line x1="215.3" y1="1051.2" x2="215.3" y2="1034.4" stroke="#e8463c" stroke-width="3.2"/><circle cx="103.8" cy="997.3" r="5.6" fill="url(#gO)" stroke="#c8382f" stroke-width=".6"/><circle cx="103.8" cy="1071.6" r="5.6" fill="url(#gO)" stroke="#c8382f" stroke-width=".6"/><circle cx="141" cy="960.1" r="5.6" fill="url(#gO)" stroke="#c8382f" stroke-width=".6"/><circle cx="141" cy="1034.4" r="5.6" fill="url(#gO)" stroke="#c8382f" stroke-width=".6"/><circle cx="141" cy="1034.5" r="5.6" fill="url(#gO)" stroke="#c8382f" stroke-width=".6"/><circle cx="141" cy="1108.8" r="5.6" fill="url(#gO)" stroke="#c8382f" stroke-width=".6"/><circle cx="178.2" cy="997.3" r="5.6" fill="url(#gO)" stroke="#c8382f" stroke-width=".6"/><circle cx="178.2" cy="1071.6" r="5.6" fill="url(#gO)" stroke="#c8382f" stroke-width=".6"/><circle cx="215.3" cy="960.1" r="5.6" fill="url(#gO)" stroke="#c8382f" stroke-width=".6"/><circle cx="215.3" cy="1034.4" r="5.6" fill="url(#gO)" stroke="#c8382f" stroke-width=".6"/><circle cx="215.3" cy="1034.5" r="5.6" fill="url(#gO)" stroke="#c8382f" stroke-width=".6"/><circle cx="215.3" cy="1108.8" r="5.6" fill="url(#gO)" stroke="#c8382f" stroke-width=".6"/><circle cx="252.5" cy="997.3" r="5.6" fill="url(#gO)" stroke="#c8382f" stroke-width=".6"/><circle cx="252.5" cy="1071.6" r="5.6" fill="url(#gO)" stroke="#c8382f" stroke-width=".6"/><circle cx="141" cy="997.3" r="10.4" fill="url(#gW)" stroke="#2c55b8" stroke-width=".7"/><circle cx="141" cy="997.3" r="5.6" fill="url(#gO)" stroke="#c8382f" stroke-width=".6"/><circle cx="215.3" cy="997.3" r="10.4" fill="url(#gW)" stroke="#2c55b8" stroke-width=".7"/><circle cx="215.3" cy="997.3" r="5.6" fill="url(#gO)" stroke="#c8382f" stroke-width=".6"/><circle cx="141" cy="1071.6" r="10.4" fill="url(#gW)" stroke="#2c55b8" stroke-width=".7"/><circle cx="141" cy="1071.6" r="5.6" fill="url(#gO)" stroke="#c8382f" stroke-width=".6"/><circle cx="215.3" cy="1071.6" r="10.4" fill="url(#gW)" stroke="#2c55b8" stroke-width=".7"/><circle cx="215.3" cy="1071.6" r="5.6" fill="url(#gO)" stroke="#c8382f" stroke-width=".6"/><circle cx="177.3" cy="1039.7" r="10.8" fill="url(#gK)"/></g><path d="M393.5 1182.3A21.4 21.4 0 0 0 381.9 1217.9" fill="none" stroke="#e2564f" stroke-width="9.6"/><path d="M393.1 1182.4A21.4 21.4 0 0 0 381.6 1217.6" fill="none" stroke="#c85c5f" stroke-width="8.2"/><path d="M419 1203.7A21.4 21.4 0 0 0 402.8 1182.5" fill="none" stroke="#e2564f" stroke-width="9.6"/><path d="M419 1203.2A21.4 21.4 0 0 0 403.2 1182.6" fill="none" stroke="#c85c5f" stroke-width="8.2"/><path d="M391 1223.7A21.4 21.4 0 0 0 416.1 1214" fill="none" stroke="#e2564f" stroke-width="9.6"/><path d="M391.4 1223.8A21.4 21.4 0 0 0 415.9 1214.4" fill="none" stroke="#c85c5f" stroke-width="8.2"/><rect x="334.2" y="1293.8" width="90.3" height="4" fill="#fff"/><text x="347" y="1280.7" font-size="36" fill="#fff">5</text><text x="387" y="1280.7" font-size="36" fill="#fff">Å</text><text transform="translate(99 1307.8) scale(1 1.14)" font-size="29" font-weight="bold" fill="#000" stroke="#000" stroke-width=".5" stroke-linejoin="round">S=15</text>
<g><circle cx="128.6" cy="531.7" r="5.8" fill="url(#gO)" stroke="#c8382f" stroke-width=".6"/><circle cx="219.1" cy="531.7" r="5.8" fill="url(#gO)" stroke="#c8382f" stroke-width=".6"/><circle cx="146.2" cy="622.8" r="5.8" fill="url(#gO)" stroke="#c8382f" stroke-width=".6"/><circle cx="207.3" cy="622.1" r="5.8" fill="url(#gO)" stroke="#c8382f" stroke-width=".6"/><line x1="134.5" y1="540.8" x2="132.7" y2="519.7" stroke="#4a80e8" stroke-width="4.1"/><line x1="132.7" y1="519.7" x2="131.2" y2="502.4" stroke="#e8463c" stroke-width="4.1"/><line x1="210" y1="537.5" x2="215" y2="517.5" stroke="#4a80e8" stroke-width="4.1"/><line x1="215" y1="517.5" x2="219.1" y2="501.1" stroke="#e8463c" stroke-width="4.1"/><line x1="134.5" y1="540.8" x2="114.8" y2="544.4" stroke="#4a80e8" stroke-width="4.1"/><line x1="114.8" y1="544.4" x2="98.7" y2="547.3" stroke="#e8463c" stroke-width="4.1"/><line x1="134.5" y1="540.8" x2="156.3" y2="535.8" stroke="#4a80e8" stroke-width="4.1"/><line x1="156.3" y1="535.8" x2="174.2" y2="531.7" stroke="#e8463c" stroke-width="4.1"/><line x1="210" y1="537.5" x2="190.3" y2="534.3" stroke="#4a80e8" stroke-width="4.1"/><line x1="190.3" y1="534.3" x2="174.2" y2="531.7" stroke="#e8463c" stroke-width="4.1"/><line x1="210" y1="537.5" x2="231.8" y2="542.9" stroke="#4a80e8" stroke-width="4.1"/><line x1="231.8" y1="542.9" x2="249.6" y2="547.3" stroke="#e8463c" stroke-width="4.1"/><line x1="134.5" y1="540.8" x2="139.8" y2="560.5" stroke="#4a80e8" stroke-width="4.1"/><line x1="139.8" y1="560.5" x2="144.2" y2="576.6" stroke="#e8463c" stroke-width="4.1"/><line x1="139.7" y1="616.9" x2="142.2" y2="594.7" stroke="#4a80e8" stroke-width="4.1"/><line x1="142.2" y1="594.7" x2="144.2" y2="576.6" stroke="#e8463c" stroke-width="4.1"/><line x1="210" y1="537.5" x2="207.8" y2="558.6" stroke="#4a80e8" stroke-width="4.1"/><line x1="207.8" y1="558.6" x2="206" y2="575.9" stroke="#e8463c" stroke-width="4.1"/><line x1="215.2" y1="613.6" x2="210.1" y2="592.9" stroke="#4a80e8" stroke-width="4.1"/><line x1="210.1" y1="592.9" x2="206" y2="575.9" stroke="#e8463c" stroke-width="4.1"/><line x1="139.7" y1="616.9" x2="118.2" y2="612.2" stroke="#4a80e8" stroke-width="4.1"/><line x1="118.2" y1="612.2" x2="100.6" y2="608.4" stroke="#e8463c" stroke-width="4.1"/><line x1="215.2" y1="613.6" x2="235.2" y2="610.7" stroke="#4a80e8" stroke-width="4.1"/><line x1="235.2" y1="610.7" x2="251.6" y2="608.4" stroke="#e8463c" stroke-width="4.1"/><line x1="139.7" y1="616.9" x2="159.7" y2="618.7" stroke="#4a80e8" stroke-width="4.1"/><line x1="159.7" y1="618.7" x2="176.1" y2="620.2" stroke="#e8463c" stroke-width="4.1"/><line x1="215.2" y1="613.6" x2="193.7" y2="617.2" stroke="#4a80e8" stroke-width="4.1"/><line x1="193.7" y1="617.2" x2="176.1" y2="620.2" stroke="#e8463c" stroke-width="4.1"/><line x1="139.7" y1="616.9" x2="134.7" y2="636.2" stroke="#4a80e8" stroke-width="4.1"/><line x1="134.7" y1="636.2" x2="130.6" y2="652" stroke="#e8463c" stroke-width="4.1"/><line x1="215.2" y1="613.6" x2="217.3" y2="634.4" stroke="#4a80e8" stroke-width="4.1"/><line x1="217.3" y1="634.4" x2="219.1" y2="651.4" stroke="#e8463c" stroke-width="4.1"/><circle cx="131.2" cy="502.4" r="5.7" fill="url(#gO)" stroke="#c8382f" stroke-width=".6"/><circle cx="219.1" cy="501.1" r="5.7" fill="url(#gO)" stroke="#c8382f" stroke-width=".6"/><circle cx="98.7" cy="547.3" r="5.7" fill="url(#gO)" stroke="#c8382f" stroke-width=".6"/><circle cx="174.2" cy="531.7" r="5.7" fill="url(#gO)" stroke="#c8382f" stroke-width=".6"/><circle cx="249.6" cy="547.3" r="5.7" fill="url(#gO)" stroke="#c8382f" stroke-width=".6"/><circle cx="144.2" cy="576.6" r="5.7" fill="url(#gO)" stroke="#c8382f" stroke-width=".6"/><circle cx="206" cy="575.9" r="5.7" fill="url(#gO)" stroke="#c8382f" stroke-width=".6"/><circle cx="100.6" cy="608.4" r="5.7" fill="url(#gO)" stroke="#c8382f" stroke-width=".6"/><circle cx="251.6" cy="608.4" r="5.7" fill="url(#gO)" stroke="#c8382f" stroke-width=".6"/><circle cx="176.1" cy="620.2" r="5.7" fill="url(#gO)" stroke="#c8382f" stroke-width=".6"/><circle cx="130.6" cy="652" r="5.7" fill="url(#gO)" stroke="#c8382f" stroke-width=".6"/><circle cx="219.1" cy="651.4" r="5.7" fill="url(#gO)" stroke="#c8382f" stroke-width=".6"/><circle cx="134.5" cy="540.8" r="10.6" fill="url(#gW)" stroke="#2c55b8" stroke-width=".5"/><circle cx="210" cy="537.5" r="10.6" fill="url(#gW)" stroke="#2c55b8" stroke-width=".5"/><circle cx="139.7" cy="616.9" r="10.6" fill="url(#gW)" stroke="#2c55b8" stroke-width=".5"/><circle cx="215.2" cy="613.6" r="10.6" fill="url(#gW)" stroke="#2c55b8" stroke-width=".5"/><circle cx="140.8" cy="545" r="6.6" fill="#1f3f93" opacity=".55"/><circle cx="142.3" cy="546" r="5.8" fill="url(#gO)" stroke="#c8382f" stroke-width=".6"/><circle cx="203.9" cy="545" r="6.6" fill="#1f3f93" opacity=".55"/><circle cx="205.4" cy="546" r="5.8" fill="url(#gO)" stroke="#c8382f" stroke-width=".6"/><circle cx="130.4" cy="606.8" r="6.6" fill="#1f3f93" opacity=".55"/><circle cx="131.9" cy="607.8" r="5.8" fill="url(#gO)" stroke="#c8382f" stroke-width=".6"/><circle cx="218.2" cy="606.8" r="6.6" fill="#1f3f93" opacity=".55"/><circle cx="219.7" cy="607.8" r="5.8" fill="url(#gO)" stroke="#c8382f" stroke-width=".6"/></g>
<text x="1.5" y="31" font-size="38" font-weight="bold" fill="#000">a</text><text x="0.8" y="496.3" font-size="38" font-weight="bold" fill="#000">b</text><text x="1.5" y="961" font-size="38" font-weight="bold" fill="#000">c</text><text x="533.3" y="30.8" font-size="38" font-weight="bold" fill="#000">d</text><text x="1200.5" y="26" font-size="38" font-weight="bold" fill="#000">e</text><text x="538.3" y="495.8" font-size="38" font-weight="bold" fill="#000">f</text><text x="532.5" y="962" font-size="38" font-weight="bold" fill="#000">g</text><rect x="334.2" y="823.8" width="90.3" height="4" fill="#fff"/><text x="347" y="811" font-size="36" fill="#fff">5</text><text x="387" y="811" font-size="36" fill="#fff">Å</text><text transform="translate(99 839) scale(1 1.14)" font-size="29" font-weight="bold" fill="#000" stroke="#000" stroke-width=".5" stroke-linejoin="round">S=7</text><circle cx="188.4" cy="412.6" r="12.4" fill="url(#lW)"/><text x="210" y="421.8" font-size="26" fill="#000">W</text><circle cx="263.8" cy="412.6" r="9" fill="url(#lO)"/><text x="285.5" y="421.8" font-size="26" fill="#000">O</text><circle cx="331.6" cy="412.6" r="10.6" fill="url(#lK)"/><text x="355.8" y="421.8" font-size="26" fill="#000">K</text><g stroke="#000" stroke-width="2.1" fill="none"><path d="M66.3 1342.5V1291.5M60.3 1302.5L66.3 1291L72.3 1302.5"/><path d="M66.3 1342.5H116M105 1336.5L116.5 1342.5L105 1348.5"/></g><circle cx="66.3" cy="1342.5" r="5" fill="#000"/><text transform="translate(71.3 1284.3) rotate(-90)" font-size="24" fill="#000">[100]</text><text x="121.5" y="1355.5" font-size="24" fill="#000">[010]</text><text x="47.8" y="1375.8" font-size="24" fill="#000">[001]</text>
<g fill="none" stroke="#000"><path d="M655.4 15.8H1126.2V390.4" stroke-width="1.7"/><path d="M655.4 15V391.7" stroke-width="2.2"/><path d="M654.3 390.4H1127" stroke-width="2.8"/><path d="M655.4 390.4v7.6M714.2 390.4v7.6M773.1 390.4v7.6M832 390.4v7.6M890.8 390.4v7.6M949.7 390.4v7.6M1008.5 390.4v7.6M1067.3 390.4v7.6M1126.2 390.4v7.6M655.4 15.8h-6.6M655.4 115.8h-6.6M655.4 215.9h-6.6M655.4 315.9h-6.6M655.4 65.8h-3.8M655.4 165.9h-3.8M655.4 265.9h-3.8M655.4 366h-3.8" stroke-width="2.5"/></g><g font-size="25.8" fill="#000"><text x="657.5" y="421.8" text-anchor="middle">0</text><text x="716.8" y="421.8" text-anchor="middle">2</text><text x="775.6" y="421.8" text-anchor="middle">4</text><text x="835.2" y="421.8" text-anchor="middle">6</text><text x="894.6" y="421.8" text-anchor="middle">8</text><text x="946.7" y="421.8" text-anchor="middle">10</text><text x="1012.7" y="421.8" text-anchor="middle">12</text><text x="1071.5" y="421.8" text-anchor="middle">14</text><text x="1131.3" y="421.8" text-anchor="middle">16</text><text x="639.3" y="29.1" text-anchor="end">0.014</text><text x="639.3" y="128.8" text-anchor="end">0.012</text><text x="639.8" y="225.9" text-anchor="end">0.010</text><text x="642.8" y="328.1" text-anchor="end">0.008</text></g><text transform="translate(526.3 227.5) rotate(-90)" font-size="30.6" text-anchor="middle" fill="#000">Mean phase intensity</text><text transform="translate(563.4 231) rotate(-90)" font-size="30.6" text-anchor="middle" fill="#000">(arb. units)</text><text x="826" y="456.2" font-size="30.6" fill="#000">Slices (<tspan font-style="italic">n</tspan><tspan font-size="20.5" dy="-9.5">th</tspan><tspan dy="9.5">)</tspan></text><path d="M691.3 115.7L707.8 141M717.1 162.3L740.9 259.5M753.4 277.6L763.3 284.3M779.6 300.8L796.1 326.1M813.7 339.8L820.8 342.2M843.6 347.9L849.7 349M868.4 341.5L883.8 320.5M896 300.4L915 261.5M925.8 240.5L944.1 206.3M956.1 186L972.6 160.7M987.3 142.4L1000.2 129.3M1016.8 112.4L1029.7 99.3M1045.5 81.8L1059.8 64.9M1079 57.8L1085.1 58.8" stroke="#2e5fa8" stroke-width="3.9" fill="none"/><circle cx="684.8" cy="105.8" r="7.6" fill="url(#dB)"/><circle cx="714.2" cy="150.9" r="7.6" fill="url(#dB)"/><circle cx="743.7" cy="270.9" r="7.6" fill="url(#dB)"/><circle cx="773.1" cy="290.9" r="7.6" fill="url(#dB)"/><circle cx="802.5" cy="336" r="7.6" fill="url(#dB)"/><circle cx="832" cy="346" r="7.6" fill="url(#dB)"/><circle cx="861.4" cy="351" r="7.6" fill="url(#dB)"/><circle cx="890.8" cy="310.9" r="7.6" fill="url(#dB)"/><circle cx="920.2" cy="250.9" r="7.6" fill="url(#dB)"/><circle cx="949.7" cy="195.9" r="7.6" fill="url(#dB)"/><circle cx="979.1" cy="150.9" r="7.6" fill="url(#dB)"/><circle cx="1008.5" cy="120.9" r="7.6" fill="url(#dB)"/><circle cx="1037.9" cy="90.8" r="7.6" fill="url(#dB)"/><circle cx="1067.3" cy="55.8" r="7.6" fill="url(#dB)"/><circle cx="1096.8" cy="60.8" r="7.6" fill="url(#dB)"/>
<clipPath id="fcl"><rect x="655.4" y="481.6" width="477.6" height="383"/></clipPath><g clip-path="url(#fcl)"><path d="M685.8 576.2V598.2M685.8 653.8V705.5M683 576.2h5.4M683 705.5h5.4" stroke="#000" stroke-width="1.15" fill="none"/><rect x="681" y="598.2" width="9.5" height="55.6" fill="#e9636e" stroke="#4a1c20" stroke-width=".9"/><path d="M681 616.6h9.5" stroke="#222" stroke-width="1.1" fill="none"/><rect x="684" y="624.8" width="3.4" height="3.4" fill="none" stroke="#111" stroke-width="1"/><path d="M696.5 577.3V592.8M696.5 657V728.2M693.8 577.3h5.4M693.8 728.2h5.4" stroke="#000" stroke-width="1.15" fill="none"/><rect x="691.7" y="592.8" width="9.5" height="64.1" fill="#8ecaea" stroke="#24404f" stroke-width=".9"/><path d="M691.7 620.1h9.5" stroke="#222" stroke-width="1.1" fill="none"/><rect x="694.8" y="625.9" width="3.4" height="3.4" fill="none" stroke="#111" stroke-width="1"/><path d="M715.6 576.2V606.3M715.6 674V740.9M712.9 576.2h5.4M712.9 740.9h5.4" stroke="#000" stroke-width="1.15" fill="none"/><rect x="710.9" y="606.3" width="9.5" height="67.7" fill="#e9636e" stroke="#4a1c20" stroke-width=".9"/><path d="M710.9 637.8h9.5" stroke="#222" stroke-width="1.1" fill="none"/><rect x="713.9" y="641.1" width="3.4" height="3.4" fill="none" stroke="#111" stroke-width="1"/><path d="M726.3 577.3V598.2M726.3 677.1V794.4M723.6 577.3h5.4M723.6 794.4h5.4" stroke="#000" stroke-width="1.15" fill="none"/><rect x="721.6" y="598.2" width="9.5" height="79" fill="#8ecaea" stroke="#24404f" stroke-width=".9"/><path d="M721.6 628.3h9.5" stroke="#222" stroke-width="1.1" fill="none"/><rect x="724.6" y="636.5" width="3.4" height="3.4" fill="none" stroke="#111" stroke-width="1"/><path d="M745.5 576.2V615.2M745.5 714V845.8M742.8 576.2h5.4M742.8 845.8h5.4" stroke="#000" stroke-width="1.15" fill="none"/><rect x="740.7" y="615.2" width="9.5" height="98.8" fill="#e9636e" stroke="#4a1c20" stroke-width=".9"/><path d="M740.7 661.2h9.5" stroke="#222" stroke-width="1.1" fill="none"/><rect x="743.8" y="664.1" width="3.4" height="3.4" fill="none" stroke="#111" stroke-width="1"/><path d="M756.2 575.5V626.5M756.2 715.4V795.5M753.5 575.5h5.4M753.5 795.5h5.4" stroke="#000" stroke-width="1.15" fill="none"/><rect x="751.4" y="626.5" width="9.5" height="88.9" fill="#8ecaea" stroke="#24404f" stroke-width=".9"/><path d="M751.4 659.1h9.5" stroke="#222" stroke-width="1.1" fill="none"/><rect x="754.5" y="668.4" width="3.4" height="3.4" fill="none" stroke="#111" stroke-width="1"/><path d="M775.3 578.7V621.5M775.3 726.7V845.1M772.6 578.7h5.4M772.6 845.1h5.4" stroke="#000" stroke-width="1.15" fill="none"/><rect x="770.5" y="621.5" width="9.5" height="105.2" fill="#e9636e" stroke="#4a1c20" stroke-width=".9"/><path d="M770.5 676.1h9.5" stroke="#222" stroke-width="1.1" fill="none"/><rect x="773.6" y="676.9" width="3.4" height="3.4" fill="none" stroke="#111" stroke-width="1"/><path d="M786 578.7V636.1M786 744.8V864.6M783.3 578.7h5.4M783.3 869.6h5.4" stroke="#000" stroke-width="1.15" fill="none"/><rect x="781.2" y="636.1" width="9.5" height="108.7" fill="#8ecaea" stroke="#24404f" stroke-width=".9"/><path d="M781.2 687.4h9.5" stroke="#222" stroke-width="1.1" fill="none"/><rect x="784.3" y="692.8" width="3.4" height="3.4" fill="none" stroke="#111" stroke-width="1"/><path d="M805.1 576.2V623.7M805.1 723.5V864.6M802.4 576.2h5.4M802.4 869.6h5.4" stroke="#000" stroke-width="1.15" fill="none"/><rect x="800.4" y="623.7" width="9.5" height="99.9" fill="#e9636e" stroke="#4a1c20" stroke-width=".9"/><path d="M800.4 660.1h9.5" stroke="#222" stroke-width="1.1" fill="none"/><rect x="803.4" y="676.9" width="3.4" height="3.4" fill="none" stroke="#111" stroke-width="1"/><path d="M815.9 575.5V645.6M815.9 793.3V864.6M813.1 575.5h5.4M813.1 869.6h5.4" stroke="#000" stroke-width="1.15" fill="none"/><rect x="811.1" y="645.6" width="9.5" height="147.7" fill="#8ecaea" stroke="#24404f" stroke-width=".9"/><path d="M811.1 695.2h9.5" stroke="#222" stroke-width="1.1" fill="none"/><rect x="814.1" y="713" width="3.4" height="3.4" fill="none" stroke="#111" stroke-width="1"/><path d="M835 580.1V623.7M835 715.4V839.4M832.3 580.1h5.4M832.3 839.4h5.4" stroke="#000" stroke-width="1.15" fill="none"/><rect x="830.2" y="623.7" width="9.5" height="91.7" fill="#e9636e" stroke="#4a1c20" stroke-width=".9"/><path d="M830.2 666.2h9.5" stroke="#222" stroke-width="1.1" fill="none"/><rect x="833.3" y="671.5" width="3.4" height="3.4" fill="none" stroke="#111" stroke-width="1"/><path d="M845.7 578.7V624.4M845.7 787.3V864.6M843 578.7h5.4M843 869.6h5.4" stroke="#000" stroke-width="1.15" fill="none"/><rect x="841" y="624.4" width="9.5" height="162.9" fill="#8ecaea" stroke="#24404f" stroke-width=".9"/><path d="M841 682.8h9.5" stroke="#222" stroke-width="1.1" fill="none"/><rect x="844" y="707.7" width="3.4" height="3.4" fill="none" stroke="#111" stroke-width="1"/><path d="M864.9 580.1V619.4M864.9 692V782.4M862.1 580.1h5.4M862.1 782.4h5.4" stroke="#000" stroke-width="1.15" fill="none"/><rect x="860.1" y="619.4" width="9.5" height="72.6" fill="#e9636e" stroke="#4a1c20" stroke-width=".9"/><path d="M860.1 651.6h9.5" stroke="#222" stroke-width="1.1" fill="none"/><rect x="863.1" y="657.7" width="3.4" height="3.4" fill="none" stroke="#111" stroke-width="1"/><path d="M875.6 589.6V627.6M875.6 700.5V789.4M872.9 589.6h5.4M872.9 789.4h5.4" stroke="#000" stroke-width="1.15" fill="none"/><rect x="870.8" y="627.6" width="9.5" height="73" fill="#8ecaea" stroke="#24404f" stroke-width=".9"/><path d="M870.8 660.1h9.5" stroke="#222" stroke-width="1.1" fill="none"/><rect x="873.9" y="667.3" width="3.4" height="3.4" fill="none" stroke="#111" stroke-width="1"/><path d="M894.7 578.7V607.7M894.7 686.7V756.5M892 578.7h5.4M892 756.5h5.4" stroke="#000" stroke-width="1.15" fill="none"/><rect x="890" y="607.7" width="9.5" height="79" fill="#e9636e" stroke="#4a1c20" stroke-width=".9"/><path d="M890 641h9.5" stroke="#222" stroke-width="1.1" fill="none"/><rect x="893" y="647.1" width="3.4" height="3.4" fill="none" stroke="#111" stroke-width="1"/><path d="M905.4 578V609.8M905.4 744.8V864.6M902.7 578h5.4M902.7 869.6h5.4" stroke="#000" stroke-width="1.15" fill="none"/><rect x="900.7" y="609.8" width="9.5" height="135" fill="#8ecaea" stroke="#24404f" stroke-width=".9"/><path d="M900.7 672.9h9.5" stroke="#222" stroke-width="1.1" fill="none"/><rect x="903.7" y="686.4" width="3.4" height="3.4" fill="none" stroke="#111" stroke-width="1"/><path d="M924.5 578.7V603.1M924.5 686.7V776.7M921.8 578.7h5.4M921.8 776.7h5.4" stroke="#000" stroke-width="1.15" fill="none"/><rect x="919.8" y="603.1" width="9.5" height="83.6" fill="#e9636e" stroke="#4a1c20" stroke-width=".9"/><path d="M919.8 630.7h9.5" stroke="#222" stroke-width="1.1" fill="none"/><rect x="922.8" y="643.9" width="3.4" height="3.4" fill="none" stroke="#111" stroke-width="1"/><path d="M935.2 575.5V609.8M935.2 697V806.1M932.5 575.5h5.4M932.5 806.1h5.4" stroke="#000" stroke-width="1.15" fill="none"/><rect x="930.5" y="609.8" width="9.5" height="87.1" fill="#8ecaea" stroke="#24404f" stroke-width=".9"/><path d="M930.5 641.4h9.5" stroke="#222" stroke-width="1.1" fill="none"/><rect x="933.5" y="654.5" width="3.4" height="3.4" fill="none" stroke="#111" stroke-width="1"/><path d="M954.4 576.2V605.2M954.4 669.7V763.9M951.7 576.2h5.4M951.7 763.9h5.4" stroke="#000" stroke-width="1.15" fill="none"/><rect x="949.6" y="605.2" width="9.5" height="64.5" fill="#e9636e" stroke="#4a1c20" stroke-width=".9"/><path d="M949.6 632.9h9.5" stroke="#222" stroke-width="1.1" fill="none"/><rect x="952.7" y="640.7" width="3.4" height="3.4" fill="none" stroke="#111" stroke-width="1"/><path d="M965.1 578V605.6M965.1 680.3V780.9M962.4 578h5.4M962.4 780.9h5.4" stroke="#000" stroke-width="1.15" fill="none"/><rect x="960.4" y="605.6" width="9.5" height="74.7" fill="#8ecaea" stroke="#24404f" stroke-width=".9"/><path d="M960.4 640.3h9.5" stroke="#222" stroke-width="1.1" fill="none"/><rect x="963.4" y="647.5" width="3.4" height="3.4" fill="none" stroke="#111" stroke-width="1"/><path d="M984.2 578.7V604.2M984.2 661.6V743M981.5 578.7h5.4M981.5 743h5.4" stroke="#000" stroke-width="1.15" fill="none"/><rect x="979.5" y="604.2" width="9.5" height="57.4" fill="#e9636e" stroke="#4a1c20" stroke-width=".9"/><path d="M979.5 631.4h9.5" stroke="#222" stroke-width="1.1" fill="none"/><rect x="982.5" y="635.4" width="3.4" height="3.4" fill="none" stroke="#111" stroke-width="1"/><path d="M995 575.5V599.9M995 655.5V737.4M992.2 575.5h5.4M992.2 737.4h5.4" stroke="#000" stroke-width="1.15" fill="none"/><rect x="990.2" y="599.9" width="9.5" height="55.6" fill="#8ecaea" stroke="#24404f" stroke-width=".9"/><path d="M990.2 621.2h9.5" stroke="#222" stroke-width="1.1" fill="none"/><rect x="993.2" y="629" width="3.4" height="3.4" fill="none" stroke="#111" stroke-width="1"/><path d="M1014.1 576.2V595M1014.1 649.9V709M1011.4 576.2h5.4M1011.4 709h5.4" stroke="#000" stroke-width="1.15" fill="none"/><rect x="1009.4" y="595" width="9.5" height="54.9" fill="#e9636e" stroke="#4a1c20" stroke-width=".9"/><path d="M1009.4 614.8h9.5" stroke="#222" stroke-width="1.1" fill="none"/><rect x="1012.4" y="621.6" width="3.4" height="3.4" fill="none" stroke="#111" stroke-width="1"/><path d="M1024.8 575.5V590.7M1024.8 643.1V711.2M1022.1 575.5h5.4M1022.1 711.2h5.4" stroke="#000" stroke-width="1.15" fill="none"/><rect x="1020" y="590.7" width="9.5" height="52.4" fill="#8ecaea" stroke="#24404f" stroke-width=".9"/><path d="M1020 619.8h9.5" stroke="#222" stroke-width="1.1" fill="none"/><rect x="1023.1" y="620.9" width="3.4" height="3.4" fill="none" stroke="#111" stroke-width="1"/><path d="M1044 576.2V591.8M1044 642.4V710.1M1041.2 576.2h5.4M1041.2 710.1h5.4" stroke="#000" stroke-width="1.15" fill="none"/><rect x="1039.2" y="591.8" width="9.5" height="50.7" fill="#e9636e" stroke="#4a1c20" stroke-width=".9"/><path d="M1039.2 621.2h9.5" stroke="#222" stroke-width="1.1" fill="none"/><rect x="1042.2" y="620.5" width="3.4" height="3.4" fill="none" stroke="#111" stroke-width="1"/><path d="M1054.7 575.5V592.8M1054.7 641.4V712.2M1052 575.5h5.4M1052 712.2h5.4" stroke="#000" stroke-width="1.15" fill="none"/><rect x="1049.9" y="592.8" width="9.5" height="48.5" fill="#8ecaea" stroke="#24404f" stroke-width=".9"/><path d="M1049.9 617.6h9.5" stroke="#222" stroke-width="1.1" fill="none"/><rect x="1053" y="621.6" width="3.4" height="3.4" fill="none" stroke="#111" stroke-width="1"/><path d="M1073.8 576.2V589.6M1073.8 641.4V708M1071.1 576.2h5.4M1071.1 708h5.4" stroke="#000" stroke-width="1.15" fill="none"/><rect x="1069" y="589.6" width="9.5" height="51.7" fill="#e9636e" stroke="#4a1c20" stroke-width=".9"/><path d="M1069 619.4h9.5" stroke="#222" stroke-width="1.1" fill="none"/><rect x="1072.1" y="617.7" width="3.4" height="3.4" fill="none" stroke="#111" stroke-width="1"/><path d="M1084.5 575.5V594.6M1084.5 631.8V679.6M1081.8 575.5h5.4M1081.8 679.6h5.4" stroke="#000" stroke-width="1.15" fill="none"/><rect x="1079.8" y="594.6" width="9.5" height="37.2" fill="#8ecaea" stroke="#24404f" stroke-width=".9"/><path d="M1079.8 609.5h9.5" stroke="#222" stroke-width="1.1" fill="none"/><rect x="1082.8" y="613.1" width="3.4" height="3.4" fill="none" stroke="#111" stroke-width="1"/><path d="M1103.7 578.7V605.2M1103.7 668.6V734.5M1101 578.7h5.4M1101 734.5h5.4" stroke="#000" stroke-width="1.15" fill="none"/><rect x="1098.9" y="605.2" width="9.5" height="63.4" fill="#e9636e" stroke="#4a1c20" stroke-width=".9"/><path d="M1098.9 633.9h9.5" stroke="#222" stroke-width="1.1" fill="none"/><rect x="1102" y="638.6" width="3.4" height="3.4" fill="none" stroke="#111" stroke-width="1"/><path d="M1114.4 568.4V599.9M1114.4 671.1V775.3M1111.7 568.4h5.4M1111.7 775.3h5.4" stroke="#000" stroke-width="1.15" fill="none"/><rect x="1109.6" y="599.9" width="9.5" height="71.2" fill="#8ecaea" stroke="#24404f" stroke-width=".9"/><path d="M1109.6 634.6h9.5" stroke="#222" stroke-width="1.1" fill="none"/><rect x="1112.7" y="638.6" width="3.4" height="3.4" fill="none" stroke="#111" stroke-width="1"/><path d="M965.1 797.9l3.2 3.2l-3.2 3.2l-3.2 -3.2z" fill="#111"/><path d="M1014.1 736.3l3.2 3.2l-3.2 3.2l-3.2 -3.2z" fill="#111"/><path d="M1044 720.7l3.2 3.2l-3.2 3.2l-3.2 -3.2z" fill="#111"/><path d="M1044 724.2l3.2 3.2l-3.2 3.2l-3.2 -3.2z" fill="#111"/><path d="M1054.7 718.2l3.2 3.2l-3.2 3.2l-3.2 -3.2z" fill="#111"/><path d="M1114.4 778.4l3.2 3.2l-3.2 3.2l-3.2 -3.2z" fill="#111"/></g><g fill="none" stroke="#000" stroke-width="3"><rect x="655.4" y="481.6" width="477.6" height="383"/><path d="M655.4 864.6v7.5M715.1 864.6v7.5M774.8 864.6v7.5M834.5 864.6v7.5M894.2 864.6v7.5M953.9 864.6v7.5M1013.6 864.6v7.5M1073.3 864.6v7.5M1133 864.6v7.5M655.4 480.3h-7M655.4 576.4h-7M655.4 672.4h-7M655.4 768.5h-7M655.4 864.5h-7M655.4 528.4h-3.9M655.4 624.4h-3.9M655.4 720.5h-3.9M655.4 816.5h-3.9" stroke-width="2.6"/></g><g font-size="25.5" fill="#000"><text x="657.6" y="899.8" text-anchor="middle">0</text><text x="717.2" y="899.8" text-anchor="middle">2</text><text x="776.8" y="899.8" text-anchor="middle">4</text><text x="836.3" y="899.8" text-anchor="middle">6</text><text x="895.9" y="899.8" text-anchor="middle">8</text><text x="955.5" y="899.8" text-anchor="middle">10</text><text x="1015.1" y="899.8" text-anchor="middle">12</text><text x="1074.7" y="899.8" text-anchor="middle">14</text><text x="1134.2" y="899.8" text-anchor="middle">16</text><text x="647" y="586.4" text-anchor="end" font-size="26.6">180</text><text x="647" y="682.4" text-anchor="end" font-size="26.6">175</text><text x="647" y="778.5" text-anchor="end" font-size="26.6">170</text><text x="647" y="874.5" text-anchor="end" font-size="26.6">165</text></g><text transform="translate(583 821.5) rotate(-90)" font-size="30.6" fill="#000">Angle of W-O-W (</text><text transform="translate(583 546) rotate(-90)" font-size="30.6" fill="#000">)</text><text transform="translate(576.8 574.5) rotate(-90)" font-size="21" fill="#1f3a78" stroke="#1f3a78" stroke-width=".2">°</text><text x="820" y="932.5" font-size="30.6" fill="#000">Slices (<tspan font-style="italic">n</tspan><tspan font-size="20.5" dy="-9.5">th</tspan><tspan dy="9.5">)</tspan></text><rect x="701" y="508.8" width="32.4" height="14.6" fill="#dc4650" stroke="#e0404c" stroke-width=".6"/><rect x="887.4" y="508.8" width="33" height="14.6" fill="#86bfe3" stroke="#8cc4e6" stroke-width=".6"/><text x="747.8" y="525.6" font-size="26" fill="#000">[200]</text><text x="934" y="525.6" font-size="26" fill="#000">[020]</text>
<path d="M1321.2 76.5L1582.8 12.1M1582.8 12.1L1934.1 52.5M1934.1 52.5L1724.9 132.7M1724.9 132.7L1321.2 76.5M1582.8 12.1L1575.3 581.4M1575.3 581.4L1890.9 664.1M1575.3 581.4L1344 740.7M1934.1 52.5L1890.9 664.1M1724.9 132.7L1699 858.2" stroke="#8a8a8a" stroke-width=".9" fill="none"/><path d="M1398.3 758.7L1383 85.1L1636.5 18.3L1623.6 594.1Z" fill="#f6e6eb" opacity="0.66"/><path d="M1634.4 836.8L1651.4 122.5L1870.2 45.1L1833.5 649Z" fill="#cfe6f4" opacity="0.74"/><path d="M1386.3 233.3L1633.7 145M1392.4 497.3L1628.6 370.7M1522.2 668.1L1522.4 48.3M1647.7 279.6L1862.1 178M1641 559.6L1847.7 414.7M1743.9 733.5L1771.7 79.9" stroke="#d2d2d2" stroke-width=".7" fill="none" opacity=".75"/><path d="M1724.9 132.7L1321.2 76.5M1724.9 132.7L1699 858.2M1934.1 52.5L1724.9 132.7M1582.8 12.1L1575.3 581.4M1575.3 581.4L1890.9 664.1M1575.3 581.4L1344 740.7" stroke="#8a8a8a" stroke-width=".8" fill="none" opacity=".8"/><path d="M1529 294h0M1549 320h0M1612 384h0M1549 422h0M1496 370h0M1576 332h0M1554 343h0M1555 407h0M1480 315h0M1583 356h0M1531 369h0M1555 367h0M1556 333h0M1503 304h0M1569 314h0M1557 353h0M1499 322h0M1537 391h0M1560 359h0M1543 343h0M1591 298h0M1521 391h0M1557 359h0M1523 331h0M1600 342h0M1554 352h0M1517 346h0M1523 248h0M1501 350h0M1520 255h0M1548 336h0M1595 393h0M1573 356h0M1538 377h0M1523 360h0M1556 338h0M1472 380h0M1587 349h0M1538 278h0M1543 382h0M1560 429h0M1547 366h0M1534 389h0M1530 385h0M1537 447h0M1591 380h0M1568 297h0M1567 384h0M1538 364h0M1586 383h0M1581 320h0M1530 341h0M1566 359h0M1544 343h0M1576 363h0M1563 303h0M1525 299h0M1523 322h0M1571 337h0M1583 331h0M1553 316h0M1544 350h0M1574 366h0M1569 345h0M1528 299h0M1539 355h0M1569 299h0M1527 360h0M1538 358h0M1546 362h0M1557 403h0M1580 341h0M1549 344h0M1559 357h0M1559 385h0M1542 387h0M1560 363h0M1581 388h0M1612 292h0M1555 335h0M1548 336h0M1536 331h0M1537 344h0M1570 345h0M1566 318h0M1582 349h0M1555 373h0M1569 326h0M1524 331h0M1515 347h0M1580 284h0M1548 387h0M1557 372h0M1478 355h0M1515 324h0M1543 358h0M1594 321h0M1548 404h0M1547 358h0M1549 377h0M1580 382h0M1542 330h0M1549 313h0M1549 387h0M1497 388h0M1550 365h0M1577 336h0M1531 359h0M1537 349h0M1540 340h0M1531 341h0M1521 321h0M1583 366h0M1500 397h0M1600 295h0M1562 387h0M1575 396h0M1548 453h0M1555 413h0M1500 427h0M1531 350h0M1528 369h0M1545 359h0M1502 437h0M1561 257h0M1547 320h0M1594 334h0M1527 415h0M1540 394h0M1550 358h0M1524 422h0M1534 318h0M1555 367h0M1536 395h0M1521 354h0M1549 339h0M1530 369h0M1490 406h0M1552 306h0M1605 334h0M1529 386h0M1569 260h0M1529 327h0M1555 401h0M1512 397h0M1571 348h0M1534 346h0M1525 441h0M1521 413h0M1567 361h0M1552 329h0M1525 371h0M1564 302h0M1558 403h0M1446 438h0M1549 337h0M1501 321h0M1482 452h0M1556 351h0M1526 396h0M1567 350h0M1593 394h0M1557 347h0M1542 397h0M1529 364h0M1536 354h0M1573 351h0M1529 317h0M1546 344h0M1550 368h0M1575 396h0M1552 339h0M1598 325h0M1549 360h0M1598 328h0M1561 324h0M1570 317h0M1557 337h0M1558 396h0M1577 325h0M1515 336h0M1602 368h0M1533 377h0M1529 300h0M1561 350h0M1543 364h0M1613 366h0M1588 382h0M1525 394h0M1560 320h0M1554 310h0M1568 350h0M1590 346h0M1529 362h0M1586 331h0M1573 315h0M1530 394h0M1582 383h0M1561 364h0M1563 320h0M1592 343h0M1562 322h0M1557 347h0M1548 404h0M1537 340h0M1561 384h0M1544 383h0M1523 351h0M1547 314h0M1537 352h0M1609 415h0M1549 309h0M1490 342h0M1526 351h0M1530 345h0M1552 394h0M1538 305h0M1592 416h0M1524 376h0M1553 300h0M1532 352h0M1484 417h0M1544 380h0M1575 343h0M1572 302h0M1548 392h0M1519 400h0M1596 365h0M1516 385h0M1562 298h0M1559 371h0M1523 378h0M1587 326h0M1501 432h0M1560 347h0M1549 385h0M1509 402h0M1496 412h0M1584 330h0M1563 402h0M1549 352h0M1522 341h0M1537 382h0M1599 343h0M1473 396h0M1560 241h0M1532 338h0M1577 278h0M1552 397h0M1583 374h0M1542 332h0M1597 381h0M1557 333h0M1603 384h0M1510 431h0M1564 391h0M1532 394h0M1576 321h0M1508 340h0M1502 379h0M1519 436h0M1539 390h0M1528 315h0M1534 331h0M1563 375h0M1540 307h0M1561 316h0M1567 346h0M1569 310h0M1534 337h0M1521 348h0M1520 402h0M1462 372h0M1524 346h0M1557 357h0M1583 371h0M1560 374h0M1528 390h0M1584 348h0M1551 362h0M1553 441h0M1509 360h0M1539 318h0M1573 333h0M1592 344h0M1576 416h0M1539 374h0M1554 394h0M1569 367h0M1552 355h0M1527 337h0M1572 354h0M1585 364h0M1524 359h0M1571 295h0M1590 358h0M1563 340h0M1549 416h0M1537 438h0M1515 349h0M1583 353h0M1525 396h0M1567 340h0M1539 372h0M1540 369h0M1466 390h0M1590 355h0M1579 338h0M1551 370h0M1533 405h0M1519 351h0M1515 372h0M1508 352h0M1517 391h0M1526 399h0M1558 516h0M1538 360h0M1600 312h0M1578 372h0M1570 385h0M1550 500h0M1581 375h0M1571 406h0M1541 388h0M1542 339h0M1552 374h0M1543 297h0M1524 339h0M1558 297h0M1555 337h0M1607 415h0M1541 389h0M1510 351h0M1580 369h0M1538 387h0M1569 403h0M1545 409h0M1550 338h0M1577 337h0M1604 367h0M1558 359h0M1534 332h0M1556 384h0M1566 351h0M1572 362h0M1476 470h0M1538 393h0M1570 368h0M1562 291h0M1540 353h0M1531 427h0M1534 332h0M1529 346h0M1596 288h0M1545 342h0M1546 350h0M1525 348h0M1550 318h0M1543 435h0M1516 374h0M1530 408h0M1580 352h0M1574 429h0M1551 286h0M1553 412h0M1519 352h0M1559 358h0M1533 339h0M1566 132h0M1544 332h0M1594 279h0M1558 408h0M1566 354h0M1543 330h0M1565 430h0M1563 383h0M1542 389h0M1543 337h0M1560 362h0M1452 440h0M1497 364h0M1555 385h0M1588 344h0M1551 356h0M1564 335h0M1522 368h0M1546 336h0M1601 396h0M1551 380h0M1541 365h0M1486 400h0M1615 320h0M1577 276h0M1607 344h0M1574 448h0M1499 393h0M1506 415h0M1562 364h0M1530 364h0M1571 365h0M1560 378h0M1556 307h0M1573 397h0M1551 369h0M1539 385h0M1513 352h0M1588 273h0M1535 326h0M1515 379h0M1556 295h0M1561 355h0M1542 333h0M1576 412h0M1533 356h0M1526 372h0M1533 386h0M1563 125h0M1554 411h0M1570 348h0M1595 395h0M1543 352h0M1556 368h0M1538 364h0M1562 367h0M1508 366h0M1556 329h0M1523 361h0M1561 392h0M1512 405h0M1580 399h0M1558 435h0M1564 365h0M1500 318h0M1534 358h0M1521 447h0M1537 324h0M1526 380h0M1586 333h0M1592 343h0M1577 330h0M1558 307h0M1546 364h0M1532 437h0M1544 315h0M1515 393h0M1567 437h0M1505 357h0M1516 411h0M1536 420h0M1583 308h0M1520 353h0M1562 357h0M1566 352h0M1576 297h0M1580 349h0M1572 393h0M1527 350h0M1572 352h0M1490 329h0M1553 368h0M1602 354h0M1565 342h0M1572 367h0M1527 328h0M1555 338h0M1547 379h0M1510 373h0M1564 355h0M1556 374h0M1567 369h0M1574 424h0M1550 386h0M1578 289h0M1535 331h0M1569 374h0M1563 310h0M1531 406h0M1571 325h0M1569 372h0M1571 402h0M1576 336h0M1598 429h0M1541 321h0M1546 357h0M1596 343h0M1559 399h0M1564 295h0M1559 358h0M1553 395h0M1539 151h0M1539 370h0M1528 390h0M1537 373h0M1562 352h0M1489 377h0M1546 400h0M1576 325h0M1547 367h0M1561 368h0M1540 350h0M1536 359h0M1480 366h0M1557 280h0M1599 284h0M1501 403h0M1537 415h0M1546 344h0M1572 321h0M1568 359h0M1566 368h0M1563 396h0M1537 408h0M1596 415h0M1570 368h0M1581 339h0M1581 335h0M1573 319h0M1578 338h0M1561 306h0M1513 368h0M1494 432h0M1530 400h0M1555 365h0M1582 373h0M1543 326h0M1609 323h0M1555 339h0M1554 359h0M1593 370h0M1572 343h0M1581 400h0M1553 360h0M1517 372h0M1563 347h0M1589 373h0M1519 376h0M1533 374h0M1555 408h0M1565 318h0M1497 304h0M1568 402h0M1499 359h0M1568 368h0M1547 374h0M1606 387h0M1540 322h0M1481 337h0M1518 417h0M1576 324h0M1536 330h0M1538 287h0M1570 365h0M1531 430h0M1585 360h0M1564 366h0M1568 338h0M1542 342h0M1552 332h0M1580 406h0M1563 329h0M1559 342h0M1499 375h0M1552 379h0M1561 325h0M1571 370h0M1583 315h0M1503 349h0M1526 366h0M1564 383h0M1548 360h0M1543 295h0M1532 361h0M1553 420h0M1505 362h0M1495 299h0M1555 321h0M1525 368h0M1556 361h0M1526 385h0M1490 413h0M1558 404h0M1550 292h0M1516 458h0M1566 386h0M1542 317h0M1575 371h0M1583 337h0M1591 304h0M1571 382h0M1560 346h0M1553 348h0M1575 336h0M1495 381h0M1552 374h0M1570 336h0M1525 417h0M1526 433h0M1549 371h0M1578 350h0M1561 374h0M1565 319h0M1544 393h0M1544 349h0M1530 353h0M1582 354h0M1554 306h0M1564 343h0M1545 339h0M1599 399h0M1577 358h0M1524 374h0M1508 321h0M1592 322h0M1576 352h0M1568 383h0M1585 366h0M1541 379h0M1571 372h0M1499 416h0M1569 378h0M1551 370h0M1545 326h0M1526 318h0M1553 356h0M1566 413h0M1523 413h0M1596 365h0M1539 400h0M1552 342h0M1563 333h0M1615 362h0M1556 358h0M1611 346h0M1593 317h0M1553 433h0M1529 330h0M1551 370h0M1557 321h0M1593 331h0M1499 343h0M1502 334h0M1570 374h0M1551 387h0M1600 321h0M1476 150h0M1556 340h0M1528 454h0M1547 393h0M1569 359h0M1556 341h0M1556 392h0M1531 305h0M1548 361h0M1556 377h0M1566 289h0M1505 379h0M1520 343h0M1531 390h0M1565 345h0M1476 371h0M1547 356h0M1566 348h0M1566 342h0M1553 412h0M1522 373h0M1593 357h0M1520 384h0M1539 272h0M1571 366h0M1557 416h0M1555 359h0M1528 432h0M1534 328h0M1548 344h0M1594 316h0M1588 370h0M1531 351h0M1484 414h0M1586 323h0M1542 391h0M1557 294h0M1600 368h0M1607 305h0M1543 350h0M1538 357h0M1543 377h0M1551 396h0M1582 411h0M1476 373h0M1543 391h0M1531 388h0M1601 345h0M1559 352h0M1569 360h0M1547 347h0M1504 366h0M1524 337h0M1549 366h0M1546 322h0M1609 335h0M1557 340h0M1536 370h0M1552 396h0M1516 399h0M1530 348h0M1484 361h0M1505 352h0M1553 384h0M1552 376h0M1541 362h0M1561 293h0M1515 330h0M1557 349h0M1571 322h0M1520 410h0M1574 323h0M1550 310h0M1566 372h0M1548 363h0M1564 284h0M1554 395h0M1516 330h0M1540 336h0M1566 460h0M1546 318h0M1594 350h0M1528 384h0M1589 369h0M1561 372h0M1561 370h0M1556 332h0M1562 433h0M1558 379h0M1572 364h0M1575 347h0M1552 366h0M1527 324h0M1547 320h0M1519 304h0M1559 307h0M1536 346h0M1553 446h0M1551 293h0M1568 342h0M1568 331h0M1512 351h0M1509 388h0M1550 369h0M1494 376h0M1538 326h0M1572 349h0M1462 351h0M1572 341h0M1558 340h0M1554 328h0M1520 353h0M1552 381h0M1513 400h0M1509 306h0M1562 328h0M1538 351h0M1542 327h0M1530 391h0M1532 326h0M1529 411h0M1542 375h0M1576 410h0M1597 337h0M1571 337h0M1528 378h0M1547 330h0M1550 343h0M1564 380h0M1544 363h0M1503 358h0M1569 365h0M1536 375h0M1549 407h0M1562 341h0M1568 302h0M1569 305h0M1579 356h0M1551 355h0M1471 338h0M1556 360h0M1579 380h0M1549 296h0M1558 368h0M1571 319h0M1548 362h0M1479 320h0M1515 410h0M1504 398h0M1559 332h0M1544 400h0M1571 333h0M1509 310h0M1558 409h0M1497 382h0M1588 415h0M1534 402h0M1540 200h0M1590 377h0M1535 383h0M1551 362h0M1546 336h0M1543 390h0M1536 371h0M1576 413h0M1572 357h0M1559 334h0M1577 401h0M1492 245h0M1560 339h0M1536 406h0M1523 312h0M1574 423h0M1524 345h0M1563 361h0M1564 361h0M1529 353h0M1550 376h0M1554 416h0M1520 403h0M1565 407h0M1545 370h0M1538 384h0M1521 349h0M1551 358h0M1567 352h0M1560 395h0M1590 366h0M1553 357h0M1531 432h0M1503 321h0M1582 413h0M1521 353h0M1560 428h0M1542 348h0M1527 308h0M1531 382h0M1540 347h0M1550 365h0M1529 402h0M1588 357h0M1520 329h0M1543 346h0M1550 324h0M1520 268h0M1553 351h0M1567 345h0M1561 347h0M1610 400h0M1551 290h0M1523 355h0M1549 369h0M1554 355h0M1567 342h0M1569 279h0M1546 398h0M1520 367h0M1562 327h0M1587 342h0M1560 357h0M1562 379h0M1560 318h0M1564 370h0M1576 397h0M1515 376h0M1576 326h0M1508 348h0M1573 347h0M1549 321h0M1594 339h0M1507 328h0M1560 344h0M1571 323h0M1569 381h0M1548 332h0M1531 371h0M1571 290h0M1615 316h0M1542 327h0M1544 390h0M1569 376h0M1534 328h0M1534 345h0M1512 335h0M1538 388h0M1545 348h0M1556 336h0M1509 373h0M1530 338h0M1523 362h0M1499 353h0M1573 390h0M1547 314h0M1565 388h0M1510 389h0M1570 329h0M1570 351h0M1502 412h0M1558 327h0M1506 433h0M1545 370h0M1595 310h0M1463 420h0M1566 346h0M1517 287h0M1525 313h0M1556 409h0M1535 352h0M1517 399h0M1552 306h0M1563 381h0M1564 391h0M1561 332h0M1571 269h0M1554 354h0M1540 391h0M1576 304h0M1570 378h0M1599 286h0M1527 325h0M1589 322h0M1544 400h0M1548 392h0M1512 292h0M1527 345h0M1542 403h0M1612 317h0M1487 178h0M1574 342h0M1522 366h0M1541 337h0M1552 331h0M1550 366h0M1583 450h0M1537 324h0M1544 416h0M1534 340h0M1579 353h0M1576 397h0M1554 420h0M1566 340h0M1545 349h0M1513 408h0M1523 371h0M1544 372h0M1532 377h0M1525 354h0M1573 367h0M1546 399h0M1552 329h0M1571 361h0M1509 304h0M1590 346h0M1583 380h0M1510 390h0M1523 240h0M1569 300h0M1550 354h0M1548 326h0M1531 407h0M1572 373h0M1534 352h0M1583 334h0M1516 367h0M1548 384h0M1599 309h0M1541 315h0M1550 406h0M1525 330h0M1565 391h0M1540 412h0M1571 351h0M1574 333h0M1553 354h0M1568 390h0M1548 402h0M1570 298h0M1531 329h0M1553 312h0M1494 380h0M1563 354h0M1499 372h0M1583 351h0M1573 316h0M1587 323h0M1545 355h0M1552 372h0M1548 364h0M1556 365h0M1538 369h0M1558 345h0M1555 357h0M1578 371h0M1575 350h0M1520 466h0M1512 350h0M1580 327h0M1530 363h0M1502 430h0M1516 345h0M1570 376h0M1563 360h0M1524 367h0M1542 306h0M1583 343h0M1540 334h0M1582 360h0M1532 323h0M1546 423h0M1527 399h0M1521 382h0M1564 357h0M1545 346h0M1551 360h0M1480 412h0M1506 325h0M1540 405h0M1508 414h0M1523 392h0M1598 303h0M1581 317h0M1557 384h0M1556 340h0M1526 344h0M1531 391h0M1562 335h0M1484 386h0M1589 338h0M1572 385h0M1533 394h0M1517 392h0M1537 329h0M1561 331h0M1553 372h0M1571 339h0M1578 311h0M1534 341h0M1537 340h0M1580 343h0M1549 408h0M1578 388h0M1565 329h0M1572 413h0M1552 360h0M1503 321h0M1520 350h0M1565 336h0M1576 278h0M1565 338h0M1526 332h0M1551 360h0M1552 325h0M1524 326h0M1582 353h0M1519 361h0M1559 307h0M1573 343h0M1564 382h0M1587 315h0M1557 341h0M1594 291h0M1540 389h0M1517 416h0M1567 318h0M1599 366h0M1565 317h0M1599 305h0M1570 358h0M1548 366h0M1589 306h0M1541 279h0M1575 349h0M1565 348h0M1550 347h0M1577 380h0M1591 351h0M1606 250h0M1571 344h0M1571 336h0M1546 341h0M1542 348h0M1487 391h0M1576 309h0M1515 423h0M1521 385h0M1560 457h0M1506 418h0M1542 335h0M1575 300h0M1529 327h0M1536 360h0M1560 312h0M1537 392h0M1535 330h0M1544 331h0M1594 338h0M1555 334h0M1569 330h0M1523 367h0M1565 429h0M1556 442h0M1540 306h0M1541 441h0M1520 279h0M1557 401h0M1549 359h0M1580 319h0M1511 354h0M1583 337h0M1526 379h0M1578 359h0M1586 347h0M1570 421h0M1544 348h0M1562 341h0M1577 421h0M1544 349h0M1523 389h0M1555 369h0M1576 327h0M1575 380h0M1507 396h0M1541 411h0M1573 340h0M1551 388h0M1561 370h0M1573 376h0M1550 324h0M1537 367h0M1576 390h0M1520 370h0M1549 319h0M1526 366h0M1585 379h0M1570 470h0M1512 367h0M1589 331h0M1560 347h0M1440 399h0M1563 329h0M1590 435h0M1537 380h0M1562 325h0M1564 373h0M1555 304h0M1553 284h0M1572 384h0M1536 398h0M1574 322h0M1604 394h0M1562 361h0M1540 370h0M1571 350h0M1561 337h0M1533 387h0M1562 347h0M1553 339h0M1523 364h0M1541 454h0M1554 304h0M1552 373h0M1552 331h0M1533 349h0M1551 313h0M1501 423h0M1556 364h0M1573 338h0M1509 417h0M1551 378h0M1577 374h0M1548 380h0M1546 355h0M1529 319h0M1543 298h0M1538 334h0M1570 336h0M1539 346h0M1554 387h0M1611 333h0M1528 372h0M1515 353h0M1577 363h0M1587 318h0M1526 397h0M1584 333h0M1556 307h0M1576 388h0M1564 325h0M1498 324h0M1546 306h0M1564 399h0M1527 367h0M1550 345h0M1557 420h0M1565 379h0M1556 360h0M1556 235h0M1520 363h0M1516 443h0M1538 358h0M1529 331h0M1572 308h0M1564 319h0M1562 270h0M1541 340h0M1522 324h0M1546 339h0M1572 391h0M1511 404h0M1542 335h0M1557 358h0M1580 325h0M1526 360h0M1584 328h0M1556 382h0M1528 329h0M1587 316h0M1548 355h0M1508 396h0M1552 377h0M1609 321h0M1576 302h0M1565 541h0M1542 369h0M1576 316h0M1586 354h0M1513 426h0M1548 349h0M1530 344h0M1577 329h0M1570 404h0M1547 422h0M1545 290h0M1570 329h0M1584 371h0M1562 376h0M1550 363h0M1546 372h0M1550 364h0M1557 372h0M1563 304h0M1514 339h0M1550 327h0M1522 392h0M1585 370h0M1568 359h0M1573 313h0M1557 357h0M1584 330h0M1542 351h0M1545 360h0M1575 304h0M1552 351h0M1576 296h0M1576 390h0M1576 301h0M1535 319h0M1529 368h0M1556 333h0M1542 368h0M1552 354h0M1493 379h0M1535 413h0M1545 397h0M1546 369h0M1552 336h0M1532 349h0M1544 364h0M1567 379h0M1574 354h0M1551 361h0M1595 371h0M1533 460h0M1531 429h0M1564 374h0M1543 457h0M1525 400h0M1562 338h0M1545 338h0M1559 308h0M1589 418h0M1541 426h0M1593 365h0M1577 331h0M1526 347h0M1517 337h0M1535 461h0M1549 346h0M1535 283h0M1575 305h0M1555 365h0M1574 292h0M1548 364h0M1543 369h0M1569 350h0M1539 423h0M1547 392h0M1607 350h0M1547 388h0M1578 372h0M1541 346h0M1544 386h0M1576 285h0M1570 358h0M1577 396h0M1556 396h0M1524 266h0M1527 360h0M1508 349h0M1541 328h0M1573 355h0M1545 347h0M1462 335h0M1543 415h0M1575 354h0M1562 348h0M1550 300h0M1551 388h0M1524 340h0M1566 356h0M1586 308h0M1551 386h0M1524 363h0M1573 362h0M1539 266h0M1522 366h0M1507 353h0M1579 300h0M1573 341h0M1555 350h0M1516 386h0M1569 454h0M1556 408h0M1543 395h0M1539 375h0M1555 344h0M1565 314h0M1521 323h0M1488 394h0M1541 374h0M1548 381h0M1574 406h0M1537 397h0M1566 325h0M1548 374h0M1597 297h0M1507 344h0M1550 343h0M1564 340h0M1498 369h0M1550 354h0M1545 415h0M1541 367h0M1536 339h0M1589 336h0M1563 370h0M1517 364h0M1523 396h0M1530 392h0M1565 363h0M1541 361h0M1582 332h0M1564 394h0M1600 355h0M1518 339h0M1513 356h0M1543 331h0M1443 420h0M1578 338h0M1540 414h0M1540 311h0M1529 400h0M1520 295h0M1554 327h0M1578 399h0M1561 368h0M1568 332h0M1533 363h0M1609 367h0M1527 357h0M1535 356h0M1523 466h0M1575 351h0M1557 359h0M1540 367h0M1542 313h0M1551 325h0M1575 372h0M1559 352h0M1552 364h0M1542 334h0M1558 351h0M1552 222h0M1509 406h0M1563 341h0M1563 285h0M1531 391h0M1566 350h0M1565 356h0M1560 393h0M1553 369h0M1529 348h0M1495 364h0M1554 350h0M1575 382h0M1597 293h0M1544 311h0M1572 331h0M1542 374h0M1525 391h0M1532 344h0M1544 284h0M1558 300h0M1545 303h0M1568 377h0M1526 385h0M1527 341h0M1586 357h0M1527 391h0M1547 404h0M1550 401h0M1567 342h0M1520 442h0M1588 362h0M1526 352h0M1511 450h0M1564 426h0M1562 387h0M1589 332h0M1584 339h0M1492 393h0M1570 373h0M1498 376h0M1513 301h0M1556 348h0M1481 329h0M1550 364h0M1531 407h0M1539 359h0M1550 357h0M1499 314h0M1555 407h0M1550 389h0M1573 325h0M1534 336h0M1602 358h0M1508 345h0M1505 396h0M1575 354h0M1573 305h0M1558 355h0M1565 303h0M1522 366h0M1568 395h0M1598 379h0M1572 378h0M1579 299h0M1573 363h0M1554 359h0M1554 315h0M1476 408h0M1553 381h0M1573 337h0M1564 343h0M1548 333h0M1569 360h0M1548 341h0M1544 472h0M1573 357h0M1540 330h0M1539 372h0M1577 381h0M1548 344h0M1554 353h0M1537 333h0M1546 385h0M1536 327h0M1529 359h0M1558 311h0M1545 387h0M1531 398h0M1549 357h0M1497 398h0M1535 315h0M1577 285h0M1560 387h0M1560 283h0M1588 337h0M1591 289h0M1572 457h0M1606 354h0M1516 356h0M1547 402h0M1567 320h0M1565 348h0M1557 379h0M1528 404h0M1581 330h0M1577 413h0M1546 363h0M1604 335h0M1538 411h0M1521 225h0M1571 332h0M1551 327h0M1553 333h0M1577 257h0M1547 379h0M1519 376h0M1578 373h0M1543 348h0M1539 376h0M1577 330h0M1543 330h0M1605 292h0M1539 381h0M1504 305h0M1552 310h0M1605 387h0M1534 387h0M1506 370h0M1529 357h0M1566 393h0M1535 311h0M1510 386h0M1518 380h0M1602 354h0M1570 340h0M1536 340h0M1517 401h0M1592 317h0M1578 352h0M1559 334h0M1564 356h0M1532 389h0M1534 330h0M1577 439h0M1557 405h0M1553 384h0M1548 346h0M1527 387h0M1504 371h0M1546 393h0M1551 366h0M1568 292h0M1572 343h0M1505 382h0M1544 401h0M1540 407h0M1500 294h0M1541 352h0M1563 368h0M1576 375h0M1560 419h0M1530 334h0M1567 282h0M1556 321h0M1543 385h0M1568 326h0M1555 325h0M1555 322h0M1553 365h0M1501 376h0M1542 427h0M1542 373h0M1576 299h0M1580 394h0M1558 373h0M1541 307h0M1578 332h0M1545 326h0M1586 326h0M1559 317h0M1564 348h0M1538 408h0M1547 329h0M1584 313h0M1560 306h0M1603 363h0M1549 370h0M1600 412h0M1571 375h0M1573 369h0M1535 369h0M1555 341h0M1572 336h0M1592 343h0M1520 331h0M1537 368h0M1535 366h0M1505 362h0M1570 317h0M1535 381h0M1554 314h0M1606 318h0M1591 286h0M1575 384h0M1562 363h0M1589 341h0M1547 334h0M1550 425h0M1550 381h0M1558 205h0M1529 404h0M1577 359h0M1558 403h0M1548 348h0M1497 391h0M1592 372h0M1515 360h0M1599 336h0M1540 390h0M1555 295h0M1569 348h0M1529 349h0M1533 351h0M1563 355h0M1530 414h0M1585 292h0M1523 414h0M1584 356h0M1559 380h0M1561 351h0M1537 351h0M1555 342h0M1544 354h0M1530 313h0M1516 380h0M1562 347h0M1591 318h0M1522 365h0M1545 372h0M1550 390h0M1557 353h0M1563 307h0M1565 345h0M1560 359h0M1549 360h0M1535 380h0M1524 335h0M1570 353h0M1582 328h0M1521 441h0M1515 378h0M1510 407h0M1548 339h0M1524 365h0M1514 308h0M1492 408h0M1518 320h0M1545 363h0M1613 374h0M1575 312h0M1570 358h0M1545 374h0M1493 344h0M1542 396h0M1568 337h0M1554 403h0M1554 378h0M1583 336h0M1548 245h0M1551 423h0M1535 319h0M1563 338h0M1543 388h0M1525 405h0M1563 320h0M1574 369h0M1531 380h0M1549 366h0M1532 370h0M1537 335h0M1527 332h0M1560 308h0M1563 336h0M1528 353h0M1541 353h0M1534 419h0M1540 436h0M1515 379h0M1577 349h0M1566 336h0M1531 342h0M1543 342h0M1538 330h0M1542 431h0M1536 362h0M1564 344h0M1572 393h0M1588 386h0M1519 366h0M1565 300h0M1532 330h0M1513 393h0M1576 373h0M1528 399h0M1531 391h0M1514 388h0M1527 395h0M1515 358h0M1564 352h0M1558 338h0M1551 304h0M1570 412h0M1524 384h0M1583 326h0M1532 372h0M1515 386h0M1571 310h0M1548 349h0M1596 312h0M1613 388h0M1524 364h0M1538 366h0M1537 337h0M1523 405h0M1533 365h0M1499 364h0M1528 328h0M1554 307h0M1515 358h0M1580 313h0M1512 371h0M1570 338h0M1526 334h0M1559 297h0M1561 296h0M1522 375h0M1546 363h0M1538 372h0M1555 357h0M1536 385h0M1575 334h0M1549 285h0M1599 305h0M1536 380h0M1521 401h0M1577 288h0M1567 325h0M1545 358h0M1550 330h0M1590 364h0M1582 372h0M1520 380h0M1504 411h0M1543 433h0M1559 340h0M1536 370h0M1571 360h0M1582 316h0M1521 378h0M1564 389h0M1539 354h0M1538 369h0M1520 369h0M1580 365h0M1551 359h0M1562 317h0M1553 341h0M1551 379h0M1546 404h0M1568 372h0M1576 360h0M1555 298h0M1547 306h0M1572 302h0M1595 377h0M1533 385h0M1611 317h0M1548 406h0M1546 383h0M1505 373h0M1561 352h0M1487 393h0M1530 357h0M1501 410h0M1521 406h0M1509 340h0M1593 308h0M1530 375h0M1540 468h0M1499 372h0M1546 357h0M1509 402h0M1542 367h0M1550 300h0M1555 354h0M1577 324h0M1569 358h0M1536 365h0M1563 346h0M1592 367h0M1523 277h0M1555 406h0M1529 372h0M1551 372h0M1578 363h0M1560 324h0M1543 321h0M1510 413h0M1541 329h0M1524 354h0M1603 335h0M1563 398h0M1600 302h0M1521 313h0M1580 337h0M1553 348h0M1547 359h0M1552 404h0M1530 346h0M1536 361h0M1554 365h0M1575 290h0M1452 405h0M1543 327h0M1564 362h0M1554 409h0M1515 340h0M1544 215h0M1511 353h0M1511 332h0M1603 293h0M1558 428h0M1502 328h0M1514 370h0M1507 413h0M1564 351h0M1579 376h0M1518 307h0M1531 374h0M1490 320h0M1582 373h0M1506 433h0M1532 390h0M1536 383h0M1552 367h0M1542 269h0M1549 341h0M1574 306h0M1571 365h0M1494 405h0M1549 404h0M1551 384h0M1497 262h0M1531 403h0M1544 410h0M1588 400h0M1564 370h0M1583 412h0M1551 363h0M1554 376h0M1540 359h0M1532 316h0M1526 323h0M1561 380h0M1530 351h0M1570 379h0M1533 403h0M1595 374h0M1557 393h0M1491 409h0M1516 363h0M1548 345h0M1539 382h0M1603 384h0M1543 426h0M1552 379h0M1562 327h0M1554 469h0M1506 268h0M1533 332h0M1542 366h0M1562 359h0M1521 384h0M1556 368h0M1560 387h0M1558 333h0M1507 395h0M1512 317h0M1508 318h0M1503 337h0M1550 384h0M1537 398h0M1549 413h0M1525 349h0M1515 388h0M1551 342h0M1562 252h0M1513 336h0M1594 313h0M1557 316h0M1497 409h0M1555 330h0M1573 304h0M1585 365h0M1520 226h0M1570 350h0M1584 288h0M1559 385h0M1559 361h0M1577 360h0M1545 281h0M1564 378h0M1532 348h0M1503 311h0M1546 382h0M1579 414h0M1541 437h0M1584 360h0M1547 372h0M1538 371h0M1525 334h0M1529 317h0M1545 411h0M1524 371h0M1536 341h0M1605 313h0M1584 312h0M1532 330h0M1572 371h0M1537 365h0M1509 354h0M1552 349h0M1479 362h0M1548 395h0M1551 398h0M1524 363h0M1552 347h0M1498 412h0M1553 324h0M1539 326h0M1532 361h0M1563 425h0M1543 411h0" stroke="#ec8790" stroke-width="8.2" stroke-linecap="round" fill="none"/><path d="M1529 294h0M1549 320h0M1612 384h0M1549 422h0M1496 370h0M1576 332h0M1554 343h0M1555 407h0M1480 315h0M1583 356h0M1531 369h0M1555 367h0M1556 333h0M1503 304h0M1569 314h0M1557 353h0M1499 322h0M1537 391h0M1560 359h0M1543 343h0M1591 298h0M1521 391h0M1557 359h0M1523 331h0M1600 342h0M1554 352h0M1517 346h0M1523 248h0M1501 350h0M1520 255h0M1548 336h0M1595 393h0M1573 356h0M1538 377h0M1523 360h0M1556 338h0M1472 380h0M1587 349h0M1538 278h0M1543 382h0M1560 429h0M1547 366h0M1534 389h0M1530 385h0M1537 447h0M1591 380h0M1568 297h0M1567 384h0M1538 364h0M1586 383h0M1581 320h0M1530 341h0M1566 359h0M1544 343h0M1576 363h0M1563 303h0M1525 299h0M1523 322h0M1571 337h0M1583 331h0M1553 316h0M1544 350h0M1574 366h0M1569 345h0M1528 299h0M1539 355h0M1569 299h0M1527 360h0M1538 358h0M1546 362h0M1557 403h0M1580 341h0M1549 344h0M1559 357h0M1559 385h0M1542 387h0M1560 363h0M1581 388h0M1612 292h0M1555 335h0M1548 336h0M1536 331h0M1537 344h0M1570 345h0M1566 318h0M1582 349h0M1555 373h0M1569 326h0M1524 331h0M1515 347h0M1580 284h0M1548 387h0M1557 372h0M1478 355h0M1515 324h0M1543 358h0M1594 321h0M1548 404h0M1547 358h0M1549 377h0M1580 382h0M1542 330h0M1549 313h0M1549 387h0M1497 388h0M1550 365h0M1577 336h0M1531 359h0M1537 349h0M1540 340h0M1531 341h0M1521 321h0M1583 366h0M1500 397h0M1600 295h0M1562 387h0M1575 396h0M1548 453h0M1555 413h0M1500 427h0M1531 350h0M1528 369h0M1545 359h0M1502 437h0M1561 257h0M1547 320h0M1594 334h0M1527 415h0M1540 394h0M1550 358h0M1524 422h0M1534 318h0M1555 367h0M1536 395h0M1521 354h0M1549 339h0M1530 369h0M1490 406h0M1552 306h0M1605 334h0M1529 386h0M1569 260h0M1529 327h0M1555 401h0M1512 397h0M1571 348h0M1534 346h0M1525 441h0M1521 413h0M1567 361h0M1552 329h0M1525 371h0M1564 302h0M1558 403h0M1446 438h0M1549 337h0M1501 321h0M1482 452h0M1556 351h0M1526 396h0M1567 350h0M1593 394h0M1557 347h0M1542 397h0M1529 364h0M1536 354h0M1573 351h0M1529 317h0M1546 344h0M1550 368h0M1575 396h0M1552 339h0M1598 325h0M1549 360h0M1598 328h0M1561 324h0M1570 317h0M1557 337h0M1558 396h0M1577 325h0M1515 336h0M1602 368h0M1533 377h0M1529 300h0M1561 350h0M1543 364h0M1613 366h0M1588 382h0M1525 394h0M1560 320h0M1554 310h0M1568 350h0M1590 346h0M1529 362h0M1586 331h0M1573 315h0M1530 394h0M1582 383h0M1561 364h0M1563 320h0M1592 343h0M1562 322h0M1557 347h0M1548 404h0M1537 340h0M1561 384h0M1544 383h0M1523 351h0M1547 314h0M1537 352h0M1609 415h0M1549 309h0M1490 342h0M1526 351h0M1530 345h0M1552 394h0M1538 305h0M1592 416h0M1524 376h0M1553 300h0M1532 352h0M1484 417h0M1544 380h0M1575 343h0M1572 302h0M1548 392h0M1519 400h0M1596 365h0M1516 385h0M1562 298h0M1559 371h0M1523 378h0M1587 326h0M1501 432h0M1560 347h0M1549 385h0M1509 402h0M1496 412h0M1584 330h0M1563 402h0M1549 352h0M1522 341h0M1537 382h0M1599 343h0M1473 396h0M1560 241h0M1532 338h0M1577 278h0M1552 397h0M1583 374h0M1542 332h0M1597 381h0M1557 333h0M1603 384h0M1510 431h0M1564 391h0M1532 394h0M1576 321h0M1508 340h0M1502 379h0M1519 436h0M1539 390h0M1528 315h0M1534 331h0M1563 375h0M1540 307h0M1561 316h0M1567 346h0M1569 310h0M1534 337h0M1521 348h0M1520 402h0M1462 372h0M1524 346h0M1557 357h0M1583 371h0M1560 374h0M1528 390h0M1584 348h0M1551 362h0M1553 441h0M1509 360h0M1539 318h0M1573 333h0M1592 344h0M1576 416h0M1539 374h0M1554 394h0M1569 367h0M1552 355h0M1527 337h0M1572 354h0M1585 364h0M1524 359h0M1571 295h0M1590 358h0M1563 340h0M1549 416h0M1537 438h0M1515 349h0M1583 353h0M1525 396h0M1567 340h0M1539 372h0M1540 369h0M1466 390h0M1590 355h0M1579 338h0M1551 370h0M1533 405h0M1519 351h0M1515 372h0M1508 352h0M1517 391h0M1526 399h0M1558 516h0M1538 360h0M1600 312h0M1578 372h0M1570 385h0M1550 500h0M1581 375h0M1571 406h0M1541 388h0M1542 339h0M1552 374h0M1543 297h0M1524 339h0M1558 297h0M1555 337h0M1607 415h0M1541 389h0M1510 351h0M1580 369h0M1538 387h0M1569 403h0M1545 409h0M1550 338h0M1577 337h0M1604 367h0M1558 359h0M1534 332h0M1556 384h0M1566 351h0M1572 362h0M1476 470h0M1538 393h0M1570 368h0M1562 291h0M1540 353h0M1531 427h0M1534 332h0M1529 346h0M1596 288h0M1545 342h0M1546 350h0M1525 348h0M1550 318h0M1543 435h0M1516 374h0M1530 408h0M1580 352h0M1574 429h0M1551 286h0M1553 412h0M1519 352h0M1559 358h0M1533 339h0M1566 132h0M1544 332h0M1594 279h0M1558 408h0M1566 354h0M1543 330h0M1565 430h0M1563 383h0M1542 389h0M1543 337h0M1560 362h0M1452 440h0M1497 364h0M1555 385h0M1588 344h0M1551 356h0M1564 335h0M1522 368h0M1546 336h0M1601 396h0M1551 380h0M1541 365h0M1486 400h0M1615 320h0M1577 276h0M1607 344h0M1574 448h0M1499 393h0M1506 415h0M1562 364h0M1530 364h0M1571 365h0M1560 378h0M1556 307h0M1573 397h0M1551 369h0M1539 385h0M1513 352h0M1588 273h0M1535 326h0M1515 379h0M1556 295h0M1561 355h0M1542 333h0M1576 412h0M1533 356h0M1526 372h0M1533 386h0M1563 125h0M1554 411h0M1570 348h0M1595 395h0M1543 352h0M1556 368h0M1538 364h0M1562 367h0M1508 366h0M1556 329h0M1523 361h0M1561 392h0M1512 405h0M1580 399h0M1558 435h0M1564 365h0M1500 318h0M1534 358h0M1521 447h0M1537 324h0M1526 380h0M1586 333h0M1592 343h0M1577 330h0M1558 307h0M1546 364h0M1532 437h0M1544 315h0M1515 393h0M1567 437h0M1505 357h0M1516 411h0M1536 420h0M1583 308h0M1520 353h0M1562 357h0M1566 352h0M1576 297h0M1580 349h0M1572 393h0M1527 350h0M1572 352h0M1490 329h0M1553 368h0M1602 354h0M1565 342h0M1572 367h0M1527 328h0M1555 338h0M1547 379h0M1510 373h0M1564 355h0M1556 374h0M1567 369h0M1574 424h0M1550 386h0M1578 289h0M1535 331h0M1569 374h0M1563 310h0M1531 406h0M1571 325h0M1569 372h0M1571 402h0M1576 336h0M1598 429h0M1541 321h0M1546 357h0M1596 343h0M1559 399h0M1564 295h0M1559 358h0M1553 395h0M1539 151h0M1539 370h0M1528 390h0M1537 373h0M1562 352h0M1489 377h0M1546 400h0M1576 325h0M1547 367h0M1561 368h0M1540 350h0M1536 359h0M1480 366h0M1557 280h0M1599 284h0M1501 403h0M1537 415h0M1546 344h0M1572 321h0M1568 359h0M1566 368h0M1563 396h0M1537 408h0M1596 415h0M1570 368h0M1581 339h0M1581 335h0M1573 319h0M1578 338h0M1561 306h0M1513 368h0M1494 432h0M1530 400h0M1555 365h0M1582 373h0M1543 326h0M1609 323h0M1555 339h0M1554 359h0M1593 370h0M1572 343h0M1581 400h0M1553 360h0M1517 372h0M1563 347h0M1589 373h0M1519 376h0M1533 374h0M1555 408h0M1565 318h0M1497 304h0M1568 402h0M1499 359h0M1568 368h0M1547 374h0M1606 387h0M1540 322h0M1481 337h0M1518 417h0M1576 324h0M1536 330h0M1538 287h0M1570 365h0M1531 430h0M1585 360h0M1564 366h0M1568 338h0M1542 342h0M1552 332h0M1580 406h0M1563 329h0M1559 342h0M1499 375h0M1552 379h0M1561 325h0M1571 370h0M1583 315h0M1503 349h0M1526 366h0M1564 383h0M1548 360h0M1543 295h0M1532 361h0M1553 420h0M1505 362h0M1495 299h0M1555 321h0M1525 368h0M1556 361h0M1526 385h0M1490 413h0M1558 404h0M1550 292h0M1516 458h0M1566 386h0M1542 317h0M1575 371h0M1583 337h0M1591 304h0M1571 382h0M1560 346h0M1553 348h0M1575 336h0M1495 381h0M1552 374h0M1570 336h0M1525 417h0M1526 433h0M1549 371h0M1578 350h0M1561 374h0M1565 319h0M1544 393h0M1544 349h0M1530 353h0M1582 354h0M1554 306h0M1564 343h0M1545 339h0M1599 399h0M1577 358h0M1524 374h0M1508 321h0M1592 322h0M1576 352h0M1568 383h0M1585 366h0M1541 379h0M1571 372h0M1499 416h0M1569 378h0M1551 370h0M1545 326h0M1526 318h0M1553 356h0M1566 413h0M1523 413h0M1596 365h0M1539 400h0M1552 342h0M1563 333h0M1615 362h0M1556 358h0M1611 346h0M1593 317h0M1553 433h0M1529 330h0M1551 370h0M1557 321h0M1593 331h0M1499 343h0M1502 334h0M1570 374h0M1551 387h0M1600 321h0M1476 150h0M1556 340h0M1528 454h0M1547 393h0M1569 359h0M1556 341h0M1556 392h0M1531 305h0M1548 361h0M1556 377h0M1566 289h0M1505 379h0M1520 343h0M1531 390h0M1565 345h0M1476 371h0M1547 356h0M1566 348h0M1566 342h0M1553 412h0M1522 373h0M1593 357h0M1520 384h0M1539 272h0M1571 366h0M1557 416h0M1555 359h0M1528 432h0M1534 328h0M1548 344h0M1594 316h0M1588 370h0M1531 351h0M1484 414h0M1586 323h0M1542 391h0M1557 294h0M1600 368h0M1607 305h0M1543 350h0M1538 357h0M1543 377h0M1551 396h0M1582 411h0M1476 373h0M1543 391h0M1531 388h0M1601 345h0M1559 352h0M1569 360h0M1547 347h0M1504 366h0M1524 337h0M1549 366h0M1546 322h0M1609 335h0M1557 340h0M1536 370h0M1552 396h0M1516 399h0M1530 348h0M1484 361h0M1505 352h0M1553 384h0M1552 376h0M1541 362h0M1561 293h0M1515 330h0M1557 349h0M1571 322h0M1520 410h0M1574 323h0M1550 310h0M1566 372h0M1548 363h0M1564 284h0M1554 395h0M1516 330h0M1540 336h0M1566 460h0M1546 318h0M1594 350h0M1528 384h0M1589 369h0M1561 372h0M1561 370h0M1556 332h0M1562 433h0M1558 379h0M1572 364h0M1575 347h0M1552 366h0M1527 324h0M1547 320h0M1519 304h0M1559 307h0M1536 346h0M1553 446h0M1551 293h0M1568 342h0M1568 331h0M1512 351h0M1509 388h0M1550 369h0M1494 376h0M1538 326h0M1572 349h0M1462 351h0M1572 341h0M1558 340h0M1554 328h0M1520 353h0M1552 381h0M1513 400h0M1509 306h0M1562 328h0M1538 351h0M1542 327h0M1530 391h0M1532 326h0M1529 411h0M1542 375h0M1576 410h0M1597 337h0M1571 337h0M1528 378h0M1547 330h0M1550 343h0M1564 380h0M1544 363h0M1503 358h0M1569 365h0M1536 375h0M1549 407h0M1562 341h0M1568 302h0M1569 305h0M1579 356h0M1551 355h0M1471 338h0M1556 360h0M1579 380h0M1549 296h0M1558 368h0M1571 319h0M1548 362h0M1479 320h0M1515 410h0M1504 398h0M1559 332h0M1544 400h0M1571 333h0M1509 310h0M1558 409h0M1497 382h0M1588 415h0M1534 402h0M1540 200h0M1590 377h0M1535 383h0M1551 362h0M1546 336h0M1543 390h0M1536 371h0M1576 413h0M1572 357h0M1559 334h0M1577 401h0M1492 245h0M1560 339h0M1536 406h0M1523 312h0M1574 423h0M1524 345h0M1563 361h0M1564 361h0M1529 353h0M1550 376h0M1554 416h0M1520 403h0M1565 407h0M1545 370h0M1538 384h0M1521 349h0M1551 358h0M1567 352h0M1560 395h0M1590 366h0M1553 357h0M1531 432h0M1503 321h0M1582 413h0M1521 353h0M1560 428h0M1542 348h0M1527 308h0M1531 382h0M1540 347h0M1550 365h0M1529 402h0M1588 357h0M1520 329h0M1543 346h0M1550 324h0M1520 268h0M1553 351h0M1567 345h0M1561 347h0M1610 400h0M1551 290h0M1523 355h0M1549 369h0M1554 355h0M1567 342h0M1569 279h0M1546 398h0M1520 367h0M1562 327h0M1587 342h0M1560 357h0M1562 379h0M1560 318h0M1564 370h0M1576 397h0M1515 376h0M1576 326h0M1508 348h0M1573 347h0M1549 321h0M1594 339h0M1507 328h0M1560 344h0M1571 323h0M1569 381h0M1548 332h0M1531 371h0M1571 290h0M1615 316h0M1542 327h0M1544 390h0M1569 376h0M1534 328h0M1534 345h0M1512 335h0M1538 388h0M1545 348h0M1556 336h0M1509 373h0M1530 338h0M1523 362h0M1499 353h0M1573 390h0M1547 314h0M1565 388h0M1510 389h0M1570 329h0M1570 351h0M1502 412h0M1558 327h0M1506 433h0M1545 370h0M1595 310h0M1463 420h0M1566 346h0M1517 287h0M1525 313h0M1556 409h0M1535 352h0M1517 399h0M1552 306h0M1563 381h0M1564 391h0M1561 332h0M1571 269h0M1554 354h0M1540 391h0M1576 304h0M1570 378h0M1599 286h0M1527 325h0M1589 322h0M1544 400h0M1548 392h0M1512 292h0M1527 345h0M1542 403h0M1612 317h0M1487 178h0M1574 342h0M1522 366h0M1541 337h0M1552 331h0M1550 366h0M1583 450h0M1537 324h0M1544 416h0M1534 340h0M1579 353h0M1576 397h0M1554 420h0M1566 340h0M1545 349h0M1513 408h0M1523 371h0M1544 372h0M1532 377h0M1525 354h0M1573 367h0M1546 399h0M1552 329h0M1571 361h0M1509 304h0M1590 346h0M1583 380h0M1510 390h0M1523 240h0M1569 300h0M1550 354h0M1548 326h0M1531 407h0M1572 373h0M1534 352h0M1583 334h0M1516 367h0M1548 384h0M1599 309h0M1541 315h0M1550 406h0M1525 330h0M1565 391h0M1540 412h0M1571 351h0M1574 333h0M1553 354h0M1568 390h0M1548 402h0M1570 298h0M1531 329h0M1553 312h0M1494 380h0M1563 354h0M1499 372h0M1583 351h0M1573 316h0M1587 323h0M1545 355h0M1552 372h0M1548 364h0M1556 365h0M1538 369h0M1558 345h0M1555 357h0M1578 371h0M1575 350h0M1520 466h0M1512 350h0M1580 327h0M1530 363h0M1502 430h0M1516 345h0M1570 376h0M1563 360h0M1524 367h0M1542 306h0M1583 343h0M1540 334h0M1582 360h0M1532 323h0M1546 423h0M1527 399h0M1521 382h0M1564 357h0M1545 346h0M1551 360h0M1480 412h0M1506 325h0M1540 405h0M1508 414h0M1523 392h0M1598 303h0M1581 317h0M1557 384h0M1556 340h0M1526 344h0M1531 391h0M1562 335h0M1484 386h0M1589 338h0M1572 385h0M1533 394h0M1517 392h0M1537 329h0M1561 331h0M1553 372h0M1571 339h0M1578 311h0M1534 341h0M1537 340h0M1580 343h0M1549 408h0M1578 388h0M1565 329h0M1572 413h0M1552 360h0M1503 321h0M1520 350h0M1565 336h0M1576 278h0M1565 338h0M1526 332h0M1551 360h0M1552 325h0M1524 326h0M1582 353h0M1519 361h0M1559 307h0M1573 343h0M1564 382h0M1587 315h0M1557 341h0M1594 291h0M1540 389h0M1517 416h0M1567 318h0M1599 366h0M1565 317h0M1599 305h0M1570 358h0M1548 366h0M1589 306h0M1541 279h0M1575 349h0M1565 348h0M1550 347h0M1577 380h0M1591 351h0M1606 250h0M1571 344h0M1571 336h0M1546 341h0M1542 348h0M1487 391h0M1576 309h0M1515 423h0M1521 385h0M1560 457h0M1506 418h0M1542 335h0M1575 300h0M1529 327h0M1536 360h0M1560 312h0M1537 392h0M1535 330h0M1544 331h0M1594 338h0M1555 334h0M1569 330h0M1523 367h0M1565 429h0M1556 442h0M1540 306h0M1541 441h0M1520 279h0M1557 401h0M1549 359h0M1580 319h0M1511 354h0M1583 337h0M1526 379h0M1578 359h0M1586 347h0M1570 421h0M1544 348h0M1562 341h0M1577 421h0M1544 349h0M1523 389h0M1555 369h0M1576 327h0M1575 380h0M1507 396h0M1541 411h0M1573 340h0M1551 388h0M1561 370h0M1573 376h0M1550 324h0M1537 367h0M1576 390h0M1520 370h0M1549 319h0M1526 366h0M1585 379h0M1570 470h0M1512 367h0M1589 331h0M1560 347h0M1440 399h0M1563 329h0M1590 435h0M1537 380h0M1562 325h0M1564 373h0M1555 304h0M1553 284h0M1572 384h0M1536 398h0M1574 322h0M1604 394h0M1562 361h0M1540 370h0M1571 350h0M1561 337h0M1533 387h0M1562 347h0M1553 339h0M1523 364h0M1541 454h0M1554 304h0M1552 373h0M1552 331h0M1533 349h0M1551 313h0M1501 423h0M1556 364h0M1573 338h0M1509 417h0M1551 378h0M1577 374h0M1548 380h0M1546 355h0M1529 319h0M1543 298h0M1538 334h0M1570 336h0M1539 346h0M1554 387h0M1611 333h0M1528 372h0M1515 353h0M1577 363h0M1587 318h0M1526 397h0M1584 333h0M1556 307h0M1576 388h0M1564 325h0M1498 324h0M1546 306h0M1564 399h0M1527 367h0M1550 345h0M1557 420h0M1565 379h0M1556 360h0M1556 235h0M1520 363h0M1516 443h0M1538 358h0M1529 331h0M1572 308h0M1564 319h0M1562 270h0M1541 340h0M1522 324h0M1546 339h0M1572 391h0M1511 404h0M1542 335h0M1557 358h0M1580 325h0M1526 360h0M1584 328h0M1556 382h0M1528 329h0M1587 316h0M1548 355h0M1508 396h0M1552 377h0M1609 321h0M1576 302h0M1565 541h0M1542 369h0M1576 316h0M1586 354h0M1513 426h0M1548 349h0M1530 344h0M1577 329h0M1570 404h0M1547 422h0M1545 290h0M1570 329h0M1584 371h0M1562 376h0M1550 363h0M1546 372h0M1550 364h0M1557 372h0M1563 304h0M1514 339h0M1550 327h0M1522 392h0M1585 370h0M1568 359h0M1573 313h0M1557 357h0M1584 330h0M1542 351h0M1545 360h0M1575 304h0M1552 351h0M1576 296h0M1576 390h0M1576 301h0M1535 319h0M1529 368h0M1556 333h0M1542 368h0M1552 354h0M1493 379h0M1535 413h0M1545 397h0M1546 369h0M1552 336h0M1532 349h0M1544 364h0M1567 379h0M1574 354h0M1551 361h0M1595 371h0M1533 460h0M1531 429h0M1564 374h0M1543 457h0M1525 400h0M1562 338h0M1545 338h0M1559 308h0M1589 418h0M1541 426h0M1593 365h0M1577 331h0M1526 347h0M1517 337h0M1535 461h0M1549 346h0M1535 283h0M1575 305h0M1555 365h0M1574 292h0M1548 364h0M1543 369h0M1569 350h0M1539 423h0M1547 392h0M1607 350h0M1547 388h0M1578 372h0M1541 346h0M1544 386h0M1576 285h0M1570 358h0M1577 396h0M1556 396h0M1524 266h0M1527 360h0M1508 349h0M1541 328h0M1573 355h0M1545 347h0M1462 335h0M1543 415h0M1575 354h0M1562 348h0M1550 300h0M1551 388h0M1524 340h0M1566 356h0M1586 308h0M1551 386h0M1524 363h0M1573 362h0M1539 266h0M1522 366h0M1507 353h0M1579 300h0M1573 341h0M1555 350h0M1516 386h0M1569 454h0M1556 408h0M1543 395h0M1539 375h0M1555 344h0M1565 314h0M1521 323h0M1488 394h0M1541 374h0M1548 381h0M1574 406h0M1537 397h0M1566 325h0M1548 374h0M1597 297h0M1507 344h0M1550 343h0M1564 340h0M1498 369h0M1550 354h0M1545 415h0M1541 367h0M1536 339h0M1589 336h0M1563 370h0M1517 364h0M1523 396h0M1530 392h0M1565 363h0M1541 361h0M1582 332h0M1564 394h0M1600 355h0M1518 339h0M1513 356h0M1543 331h0M1443 420h0M1578 338h0M1540 414h0M1540 311h0M1529 400h0M1520 295h0M1554 327h0M1578 399h0M1561 368h0M1568 332h0M1533 363h0M1609 367h0M1527 357h0M1535 356h0M1523 466h0M1575 351h0M1557 359h0M1540 367h0M1542 313h0M1551 325h0M1575 372h0M1559 352h0M1552 364h0M1542 334h0M1558 351h0M1552 222h0M1509 406h0M1563 341h0M1563 285h0M1531 391h0M1566 350h0M1565 356h0M1560 393h0M1553 369h0M1529 348h0M1495 364h0M1554 350h0M1575 382h0M1597 293h0M1544 311h0M1572 331h0M1542 374h0M1525 391h0M1532 344h0M1544 284h0M1558 300h0M1545 303h0M1568 377h0M1526 385h0M1527 341h0M1586 357h0M1527 391h0M1547 404h0M1550 401h0M1567 342h0M1520 442h0M1588 362h0M1526 352h0M1511 450h0M1564 426h0M1562 387h0M1589 332h0M1584 339h0M1492 393h0M1570 373h0M1498 376h0M1513 301h0M1556 348h0M1481 329h0M1550 364h0M1531 407h0M1539 359h0M1550 357h0M1499 314h0M1555 407h0M1550 389h0M1573 325h0M1534 336h0M1602 358h0M1508 345h0M1505 396h0M1575 354h0M1573 305h0M1558 355h0M1565 303h0M1522 366h0M1568 395h0M1598 379h0M1572 378h0M1579 299h0M1573 363h0M1554 359h0M1554 315h0M1476 408h0M1553 381h0M1573 337h0M1564 343h0M1548 333h0M1569 360h0M1548 341h0M1544 472h0M1573 357h0M1540 330h0M1539 372h0M1577 381h0M1548 344h0M1554 353h0M1537 333h0M1546 385h0M1536 327h0M1529 359h0M1558 311h0M1545 387h0M1531 398h0M1549 357h0M1497 398h0M1535 315h0M1577 285h0M1560 387h0M1560 283h0M1588 337h0M1591 289h0M1572 457h0M1606 354h0M1516 356h0M1547 402h0M1567 320h0M1565 348h0M1557 379h0M1528 404h0M1581 330h0M1577 413h0M1546 363h0M1604 335h0M1538 411h0M1521 225h0M1571 332h0M1551 327h0M1553 333h0M1577 257h0M1547 379h0M1519 376h0M1578 373h0M1543 348h0M1539 376h0M1577 330h0M1543 330h0M1605 292h0M1539 381h0M1504 305h0M1552 310h0M1605 387h0M1534 387h0M1506 370h0M1529 357h0M1566 393h0M1535 311h0M1510 386h0M1518 380h0M1602 354h0M1570 340h0M1536 340h0M1517 401h0M1592 317h0M1578 352h0M1559 334h0M1564 356h0M1532 389h0M1534 330h0M1577 439h0M1557 405h0M1553 384h0M1548 346h0M1527 387h0M1504 371h0M1546 393h0M1551 366h0M1568 292h0M1572 343h0M1505 382h0M1544 401h0M1540 407h0M1500 294h0M1541 352h0M1563 368h0M1576 375h0M1560 419h0M1530 334h0M1567 282h0M1556 321h0M1543 385h0M1568 326h0M1555 325h0M1555 322h0M1553 365h0M1501 376h0M1542 427h0M1542 373h0M1576 299h0M1580 394h0M1558 373h0M1541 307h0M1578 332h0M1545 326h0M1586 326h0M1559 317h0M1564 348h0M1538 408h0M1547 329h0M1584 313h0M1560 306h0M1603 363h0M1549 370h0M1600 412h0M1571 375h0M1573 369h0M1535 369h0M1555 341h0M1572 336h0M1592 343h0M1520 331h0M1537 368h0M1535 366h0M1505 362h0M1570 317h0M1535 381h0M1554 314h0M1606 318h0M1591 286h0M1575 384h0M1562 363h0M1589 341h0M1547 334h0M1550 425h0M1550 381h0M1558 205h0M1529 404h0M1577 359h0M1558 403h0M1548 348h0M1497 391h0M1592 372h0M1515 360h0M1599 336h0M1540 390h0M1555 295h0M1569 348h0M1529 349h0M1533 351h0M1563 355h0M1530 414h0M1585 292h0M1523 414h0M1584 356h0M1559 380h0M1561 351h0M1537 351h0M1555 342h0M1544 354h0M1530 313h0M1516 380h0M1562 347h0M1591 318h0M1522 365h0M1545 372h0M1550 390h0M1557 353h0M1563 307h0M1565 345h0M1560 359h0M1549 360h0M1535 380h0M1524 335h0M1570 353h0M1582 328h0M1521 441h0M1515 378h0M1510 407h0M1548 339h0M1524 365h0M1514 308h0M1492 408h0M1518 320h0M1545 363h0M1613 374h0M1575 312h0M1570 358h0M1545 374h0M1493 344h0M1542 396h0M1568 337h0M1554 403h0M1554 378h0M1583 336h0M1548 245h0M1551 423h0M1535 319h0M1563 338h0M1543 388h0M1525 405h0M1563 320h0M1574 369h0M1531 380h0M1549 366h0M1532 370h0M1537 335h0M1527 332h0M1560 308h0M1563 336h0M1528 353h0M1541 353h0M1534 419h0M1540 436h0M1515 379h0M1577 349h0M1566 336h0M1531 342h0M1543 342h0M1538 330h0M1542 431h0M1536 362h0M1564 344h0M1572 393h0M1588 386h0M1519 366h0M1565 300h0M1532 330h0M1513 393h0M1576 373h0M1528 399h0M1531 391h0M1514 388h0M1527 395h0M1515 358h0M1564 352h0M1558 338h0M1551 304h0M1570 412h0M1524 384h0M1583 326h0M1532 372h0M1515 386h0M1571 310h0M1548 349h0M1596 312h0M1613 388h0M1524 364h0M1538 366h0M1537 337h0M1523 405h0M1533 365h0M1499 364h0M1528 328h0M1554 307h0M1515 358h0M1580 313h0M1512 371h0M1570 338h0M1526 334h0M1559 297h0M1561 296h0M1522 375h0M1546 363h0M1538 372h0M1555 357h0M1536 385h0M1575 334h0M1549 285h0M1599 305h0M1536 380h0M1521 401h0M1577 288h0M1567 325h0M1545 358h0M1550 330h0M1590 364h0M1582 372h0M1520 380h0M1504 411h0M1543 433h0M1559 340h0M1536 370h0M1571 360h0M1582 316h0M1521 378h0M1564 389h0M1539 354h0M1538 369h0M1520 369h0M1580 365h0M1551 359h0M1562 317h0M1553 341h0M1551 379h0M1546 404h0M1568 372h0M1576 360h0M1555 298h0M1547 306h0M1572 302h0M1595 377h0M1533 385h0M1611 317h0M1548 406h0M1546 383h0M1505 373h0M1561 352h0M1487 393h0M1530 357h0M1501 410h0M1521 406h0M1509 340h0M1593 308h0M1530 375h0M1540 468h0M1499 372h0M1546 357h0M1509 402h0M1542 367h0M1550 300h0M1555 354h0M1577 324h0M1569 358h0M1536 365h0M1563 346h0M1592 367h0M1523 277h0M1555 406h0M1529 372h0M1551 372h0M1578 363h0M1560 324h0M1543 321h0M1510 413h0M1541 329h0M1524 354h0M1603 335h0M1563 398h0M1600 302h0M1521 313h0M1580 337h0M1553 348h0M1547 359h0M1552 404h0M1530 346h0M1536 361h0M1554 365h0M1575 290h0M1452 405h0M1543 327h0M1564 362h0M1554 409h0M1515 340h0M1544 215h0M1511 353h0M1511 332h0M1603 293h0M1558 428h0M1502 328h0M1514 370h0M1507 413h0M1564 351h0M1579 376h0M1518 307h0M1531 374h0M1490 320h0M1582 373h0M1506 433h0M1532 390h0M1536 383h0M1552 367h0M1542 269h0M1549 341h0M1574 306h0M1571 365h0M1494 405h0M1549 404h0M1551 384h0M1497 262h0M1531 403h0M1544 410h0M1588 400h0M1564 370h0M1583 412h0M1551 363h0M1554 376h0M1540 359h0M1532 316h0M1526 323h0M1561 380h0M1530 351h0M1570 379h0M1533 403h0M1595 374h0M1557 393h0M1491 409h0M1516 363h0M1548 345h0M1539 382h0M1603 384h0M1543 426h0M1552 379h0M1562 327h0M1554 469h0M1506 268h0M1533 332h0M1542 366h0M1562 359h0M1521 384h0M1556 368h0M1560 387h0M1558 333h0M1507 395h0M1512 317h0M1508 318h0M1503 337h0M1550 384h0M1537 398h0M1549 413h0M1525 349h0M1515 388h0M1551 342h0M1562 252h0M1513 336h0M1594 313h0M1557 316h0M1497 409h0M1555 330h0M1573 304h0M1585 365h0M1520 226h0M1570 350h0M1584 288h0M1559 385h0M1559 361h0M1577 360h0M1545 281h0M1564 378h0M1532 348h0M1503 311h0M1546 382h0M1579 414h0M1541 437h0M1584 360h0M1547 372h0M1538 371h0M1525 334h0M1529 317h0M1545 411h0M1524 371h0M1536 341h0M1605 313h0M1584 312h0M1532 330h0M1572 371h0M1537 365h0M1509 354h0M1552 349h0M1479 362h0M1548 395h0M1551 398h0M1524 363h0M1552 347h0M1498 412h0M1553 324h0M1539 326h0M1532 361h0M1563 425h0M1543 411h0" stroke="#e15f6a" stroke-width="7" stroke-linecap="round" fill="none"/><path d="M1529 294h0M1612 384h0M1480 315h0M1591 298h0M1523 248h0M1520 255h0M1595 393h0M1472 380h0M1538 278h0M1537 447h0M1612 292h0M1478 355h0M1497 388h0M1548 453h0M1500 427h0M1502 437h0M1561 257h0M1524 422h0M1490 406h0M1569 260h0M1525 441h0M1446 438h0M1482 452h0M1593 394h0M1598 328h0M1613 366h0M1609 415h0M1490 342h0M1592 416h0M1484 417h0M1473 396h0M1560 241h0M1577 278h0M1510 431h0M1519 436h0M1462 372h0M1553 441h0M1466 390h0M1558 516h0M1550 500h0M1607 415h0M1476 470h0M1574 429h0M1566 132h0M1594 279h0M1452 440h0M1486 400h0M1577 276h0M1607 344h0M1574 448h0M1588 273h0M1563 125h0M1558 435h0M1521 447h0M1532 437h0M1567 437h0M1536 420h0M1490 329h0M1598 429h0M1539 151h0M1489 377h0M1480 366h0M1557 280h0M1599 284h0M1501 403h0M1596 415h0M1494 432h0M1497 304h0M1481 337h0M1538 287h0M1495 299h0M1516 458h0M1599 399h0M1566 413h0M1615 362h0M1611 346h0M1553 433h0M1499 343h0M1502 334h0M1600 321h0M1476 150h0M1528 454h0M1531 305h0M1476 371h0M1539 272h0M1484 414h0M1607 305h0M1476 373h0M1484 361h0M1566 460h0M1519 304h0M1553 446h0M1462 351h0M1471 338h0M1479 320h0M1540 200h0M1492 245h0M1520 268h0M1610 400h0M1569 279h0M1507 328h0M1615 316h0M1463 420h0M1517 287h0M1571 269h0M1599 286h0M1512 292h0M1487 178h0M1583 450h0M1523 240h0M1520 466h0M1480 412h0M1484 386h0M1576 278h0M1541 279h0M1606 250h0M1515 423h0M1560 457h0M1556 442h0M1520 279h0M1570 421h0M1577 421h0M1570 470h0M1440 399h0M1590 435h0M1604 394h0M1541 454h0M1501 423h0M1611 333h0M1556 235h0M1516 443h0M1562 270h0M1565 541h0M1513 426h0M1533 460h0M1543 457h0M1589 418h0M1535 461h0M1535 283h0M1524 266h0M1462 335h0M1539 266h0M1569 454h0M1443 420h0M1520 295h0M1609 367h0M1523 466h0M1552 222h0M1511 450h0M1513 301h0M1481 329h0M1499 314h0M1598 379h0M1476 408h0M1544 472h0M1497 398h0M1560 283h0M1572 457h0M1521 225h0M1577 257h0M1605 292h0M1605 387h0M1577 439h0M1505 382h0M1500 294h0M1567 282h0M1600 412h0M1591 286h0M1558 205h0M1585 292h0M1613 374h0M1493 344h0M1548 245h0M1613 388h0M1487 393h0M1540 468h0M1523 277h0M1521 313h0M1452 405h0M1544 215h0M1603 293h0M1518 307h0M1490 320h0M1542 269h0M1497 262h0M1588 400h0M1554 469h0M1506 268h0M1512 317h0M1503 337h0M1562 252h0M1520 226h0M1584 288h0M1545 281h0M1503 311h0M1605 313h0M1479 362h0" stroke="#ec8790" stroke-width="8.2" stroke-linecap="round" fill="none"/><path d="M1529 294h0M1612 384h0M1480 315h0M1591 298h0M1523 248h0M1520 255h0M1595 393h0M1472 380h0M1538 278h0M1537 447h0M1612 292h0M1478 355h0M1497 388h0M1548 453h0M1500 427h0M1502 437h0M1561 257h0M1524 422h0M1490 406h0M1569 260h0M1525 441h0M1446 438h0M1482 452h0M1593 394h0M1598 328h0M1613 366h0M1609 415h0M1490 342h0M1592 416h0M1484 417h0M1473 396h0M1560 241h0M1577 278h0M1510 431h0M1519 436h0M1462 372h0M1553 441h0M1466 390h0M1558 516h0M1550 500h0M1607 415h0M1476 470h0M1574 429h0M1566 132h0M1594 279h0M1452 440h0M1486 400h0M1577 276h0M1607 344h0M1574 448h0M1588 273h0M1563 125h0M1558 435h0M1521 447h0M1532 437h0M1567 437h0M1536 420h0M1490 329h0M1598 429h0M1539 151h0M1489 377h0M1480 366h0M1557 280h0M1599 284h0M1501 403h0M1596 415h0M1494 432h0M1497 304h0M1481 337h0M1538 287h0M1495 299h0M1516 458h0M1599 399h0M1566 413h0M1615 362h0M1611 346h0M1553 433h0M1499 343h0M1502 334h0M1600 321h0M1476 150h0M1528 454h0M1531 305h0M1476 371h0M1539 272h0M1484 414h0M1607 305h0M1476 373h0M1484 361h0M1566 460h0M1519 304h0M1553 446h0M1462 351h0M1471 338h0M1479 320h0M1540 200h0M1492 245h0M1520 268h0M1610 400h0M1569 279h0M1507 328h0M1615 316h0M1463 420h0M1517 287h0M1571 269h0M1599 286h0M1512 292h0M1487 178h0M1583 450h0M1523 240h0M1520 466h0M1480 412h0M1484 386h0M1576 278h0M1541 279h0M1606 250h0M1515 423h0M1560 457h0M1556 442h0M1520 279h0M1570 421h0M1577 421h0M1570 470h0M1440 399h0M1590 435h0M1604 394h0M1541 454h0M1501 423h0M1611 333h0M1556 235h0M1516 443h0M1562 270h0M1565 541h0M1513 426h0M1533 460h0M1543 457h0M1589 418h0M1535 461h0M1535 283h0M1524 266h0M1462 335h0M1539 266h0M1569 454h0M1443 420h0M1520 295h0M1609 367h0M1523 466h0M1552 222h0M1511 450h0M1513 301h0M1481 329h0M1499 314h0M1598 379h0M1476 408h0M1544 472h0M1497 398h0M1560 283h0M1572 457h0M1521 225h0M1577 257h0M1605 292h0M1605 387h0M1577 439h0M1505 382h0M1500 294h0M1567 282h0M1600 412h0M1591 286h0M1558 205h0M1585 292h0M1613 374h0M1493 344h0M1548 245h0M1613 388h0M1487 393h0M1540 468h0M1523 277h0M1521 313h0M1452 405h0M1544 215h0M1603 293h0M1518 307h0M1490 320h0M1542 269h0M1497 262h0M1588 400h0M1554 469h0M1506 268h0M1512 317h0M1503 337h0M1562 252h0M1520 226h0M1584 288h0M1545 281h0M1503 311h0M1605 313h0M1479 362h0" stroke="#e15f6a" stroke-width="7" stroke-linecap="round" fill="none"/><path d="M1527.9 292.8h0M1610.9 382.8h0M1478.9 313.8h0M1501.9 302.8h0M1589.9 296.8h0M1521.9 246.8h0M1499.9 348.8h0M1518.9 253.8h0M1593.9 391.8h0M1470.9 378.8h0M1536.9 276.8h0M1535.9 445.8h0M1523.9 297.8h0M1526.9 297.8h0M1610.9 290.8h0M1476.9 353.8h0M1513.9 322.8h0M1495.9 386.8h0M1598.9 293.8h0M1546.9 451.8h0M1498.9 425.8h0M1500.9 435.8h0M1559.9 255.8h0M1522.9 420.8h0M1488.9 404.8h0M1603.9 332.8h0M1567.9 258.8h0M1523.9 439.8h0M1444.9 436.8h0M1480.9 450.8h0M1591.9 392.8h0M1596.9 323.8h0M1596.9 326.8h0M1527.9 298.8h0M1611.9 364.8h0M1607.9 413.8h0M1488.9 340.8h0M1590.9 414.8h0M1482.9 415.8h0M1499.9 430.8h0M1597.9 341.8h0M1471.9 394.8h0M1558.9 239.8h0M1575.9 276.8h0M1595.9 379.8h0M1601.9 382.8h0M1508.9 429.8h0M1517.9 434.8h0M1460.9 370.8h0M1551.9 439.8h0M1535.9 436.8h0M1464.9 388.8h0M1556.9 514.8h0M1598.9 310.8h0M1548.9 498.8h0M1541.9 295.8h0M1605.9 413.8h0M1602.9 365.8h0M1474.9 468.8h0M1529.9 425.8h0M1572.9 427.8h0M1549.9 284.8h0M1564.9 130.8h0M1592.9 277.8h0M1450.9 438.8h0M1495.9 362.8h0M1599.9 394.8h0M1484.9 398.8h0M1613.9 318.8h0M1575.9 274.8h0M1605.9 342.8h0M1572.9 446.8h0M1497.9 391.8h0M1586.9 271.8h0M1561.9 123.8h0M1593.9 393.8h0M1556.9 433.8h0M1519.9 445.8h0M1530.9 435.8h0M1565.9 435.8h0M1534.9 418.8h0M1488.9 327.8h0M1600.9 352.8h0M1572.9 422.8h0M1596.9 427.8h0M1537.9 149.8h0M1487.9 375.8h0M1478.9 364.8h0M1555.9 278.8h0M1597.9 282.8h0M1499.9 401.8h0M1594.9 413.8h0M1492.9 430.8h0M1607.9 321.8h0M1495.9 302.8h0M1604.9 385.8h0M1479.9 335.8h0M1536.9 285.8h0M1529.9 428.8h0M1541.9 293.8h0M1493.9 297.8h0M1488.9 411.8h0M1514.9 456.8h0M1589.9 302.8h0M1493.9 379.8h0M1524.9 431.8h0M1597.9 397.8h0M1506.9 319.8h0M1497.9 414.8h0M1564.9 411.8h0M1613.9 360.8h0M1609.9 344.8h0M1551.9 431.8h0M1591.9 329.8h0M1497.9 341.8h0M1500.9 332.8h0M1598.9 319.8h0M1474.9 148.8h0M1526.9 452.8h0M1529.9 303.8h0M1503.9 377.8h0M1474.9 369.8h0M1591.9 355.8h0M1537.9 270.8h0M1482.9 412.8h0M1605.9 303.8h0M1474.9 371.8h0M1599.9 343.8h0M1607.9 333.8h0M1482.9 359.8h0M1562.9 282.8h0M1564.9 458.8h0M1592.9 348.8h0M1517.9 302.8h0M1551.9 444.8h0M1460.9 349.8h0M1469.9 336.8h0M1477.9 318.8h0M1507.9 308.8h0M1586.9 413.8h0M1538.9 198.8h0M1490.9 243.8h0M1521.9 310.8h0M1572.9 421.8h0M1525.9 306.8h0M1518.9 266.8h0M1608.9 398.8h0M1567.9 277.8h0M1505.9 326.8h0M1613.9 314.8h0M1497.9 351.8h0M1504.9 431.8h0M1461.9 418.8h0M1515.9 285.8h0M1569.9 267.8h0M1597.9 284.8h0M1510.9 290.8h0M1485.9 176.8h0M1581.9 448.8h0M1521.9 238.8h0M1518.9 464.8h0M1500.9 428.8h0M1478.9 410.8h0M1596.9 301.8h0M1482.9 384.8h0M1574.9 276.8h0M1592.9 289.8h0M1587.9 304.8h0M1539.9 277.8h0M1604.9 248.8h0M1485.9 389.8h0M1513.9 421.8h0M1558.9 455.8h0M1504.9 416.8h0M1554.9 440.8h0M1539.9 439.8h0M1518.9 277.8h0M1568.9 419.8h0M1575.9 419.8h0M1568.9 468.8h0M1438.9 397.8h0M1588.9 433.8h0M1551.9 282.8h0M1602.9 392.8h0M1539.9 452.8h0M1499.9 421.8h0M1507.9 415.8h0M1541.9 296.8h0M1609.9 331.8h0M1554.9 233.8h0M1514.9 441.8h0M1560.9 268.8h0M1607.9 319.8h0M1563.9 539.8h0M1511.9 424.8h0M1531.9 458.8h0M1529.9 427.8h0M1541.9 455.8h0M1587.9 416.8h0M1539.9 424.8h0M1533.9 459.8h0M1533.9 281.8h0M1537.9 421.8h0M1605.9 348.8h0M1574.9 283.8h0M1522.9 264.8h0M1460.9 333.8h0M1584.9 306.8h0M1537.9 264.8h0M1567.9 452.8h0M1486.9 392.8h0M1598.9 353.8h0M1441.9 418.8h0M1518.9 293.8h0M1607.9 365.8h0M1521.9 464.8h0M1550.9 220.8h0M1561.9 283.8h0M1493.9 362.8h0M1595.9 291.8h0M1542.9 282.8h0M1518.9 440.8h0M1509.9 448.8h0M1490.9 391.8h0M1511.9 299.8h0M1479.9 327.8h0M1497.9 312.8h0M1600.9 356.8h0M1596.9 377.8h0M1474.9 406.8h0M1542.9 470.8h0M1495.9 396.8h0M1575.9 283.8h0M1558.9 281.8h0M1589.9 287.8h0M1570.9 455.8h0M1604.9 352.8h0M1602.9 333.8h0M1519.9 223.8h0M1575.9 255.8h0M1603.9 290.8h0M1502.9 303.8h0M1603.9 385.8h0M1600.9 352.8h0M1575.9 437.8h0M1503.9 380.8h0M1498.9 292.8h0M1558.9 417.8h0M1565.9 280.8h0M1601.9 361.8h0M1598.9 410.8h0M1589.9 284.8h0M1556.9 203.8h0M1495.9 389.8h0M1583.9 290.8h0M1519.9 439.8h0M1512.9 306.8h0M1611.9 372.8h0M1491.9 342.8h0M1546.9 243.8h0M1532.9 417.8h0M1586.9 384.8h0M1611.9 386.8h0M1541.9 431.8h0M1485.9 391.8h0M1538.9 466.8h0M1521.9 275.8h0M1601.9 333.8h0M1598.9 300.8h0M1519.9 311.8h0M1450.9 403.8h0M1542.9 213.8h0M1601.9 291.8h0M1556.9 426.8h0M1500.9 326.8h0M1516.9 305.8h0M1488.9 318.8h0M1504.9 431.8h0M1540.9 267.8h0M1492.9 403.8h0M1495.9 260.8h0M1586.9 398.8h0M1601.9 382.8h0M1552.9 467.8h0M1504.9 266.8h0M1510.9 315.8h0M1506.9 316.8h0M1501.9 335.8h0M1560.9 250.8h0M1518.9 224.8h0M1582.9 286.8h0M1543.9 279.8h0M1501.9 309.8h0M1603.9 311.8h0M1477.9 360.8h0" stroke="#fbd5d8" stroke-width="2.5" stroke-linecap="round" fill="none" opacity=".9"/><path d="M1518.8 379.7L1606 327.3" stroke="#000" stroke-width="5.2" fill="none"/><path d="M1768 361h0M1840 278h0M1797 386h0M1763 460h0M1761 506h0M1779 295h0M1802 359h0M1774 471h0M1818 378h0M1784 409h0M1791 347h0M1818 303h0M1783 376h0M1833 375h0M1789 371h0M1745 417h0M1802 496h0M1749 361h0M1776 465h0M1745 408h0M1784 434h0M1761 353h0M1786 366h0M1786 376h0M1782 303h0M1810 358h0M1775 501h0M1756 642h0M1784 417h0M1822 272h0M1769 422h0M1799 398h0M1776 332h0M1832 328h0M1763 345h0M1802 362h0M1799 427h0M1801 414h0M1782 386h0M1756 339h0M1759 629h0M1807 306h0M1743 408h0M1763 341h0M1811 288h0M1786 295h0M1751 548h0M1806 146h0M1744 371h0M1738 471h0M1801 374h0M1787 373h0M1818 340h0M1758 435h0M1702 338h0M1798 378h0M1742 624h0M1784 356h0M1782 349h0M1770 239h0M1770 402h0M1773 382h0M1778 321h0M1759 362h0M1766 416h0M1786 357h0M1789 374h0M1733 460h0M1819 345h0M1804 337h0M1831 385h0M1788 281h0M1769 443h0M1749 431h0M1771 333h0M1769 367h0M1776 469h0M1802 318h0M1790 321h0M1768 373h0M1833 316h0M1759 268h0M1744 469h0M1763 404h0M1764 464h0M1753 472h0M1769 370h0M1806 405h0M1787 282h0M1813 325h0M1766 395h0M1800 382h0M1759 317h0M1795 361h0M1808 427h0M1780 390h0M1787 313h0M1796 356h0M1756 309h0M1790 273h0M1764 449h0M1798 335h0M1761 330h0M1770 386h0M1785 442h0M1798 349h0M1804 381h0M1785 445h0M1765 495h0M1797 334h0M1782 219h0M1767 306h0M1752 481h0M1749 407h0M1829 303h0M1765 391h0M1759 335h0M1792 274h0M1757 542h0M1776 513h0M1764 336h0M1774 363h0M1781 472h0M1800 373h0M1783 366h0M1779 354h0M1793 257h0M1786 372h0M1776 490h0M1778 454h0M1787 481h0M1773 301h0M1788 394h0M1758 491h0M1738 443h0M1813 419h0M1764 396h0M1837 290h0M1775 350h0M1813 447h0M1759 208h0M1761 394h0M1766 332h0M1793 376h0M1794 392h0M1771 365h0M1795 306h0M1777 453h0M1791 391h0M1736 372h0M1765 369h0M1763 432h0M1795 353h0M1734 459h0M1778 336h0M1781 348h0M1774 513h0M1774 286h0M1779 395h0M1772 400h0M1750 344h0M1779 352h0M1755 483h0M1799 314h0M1828 409h0M1787 338h0M1779 258h0M1783 464h0M1794 446h0M1791 247h0M1781 480h0M1777 445h0M1781 391h0M1761 367h0M1817 288h0M1770 329h0M1790 397h0M1755 306h0M1751 349h0M1825 339h0M1783 493h0M1732 415h0M1763 320h0M1779 479h0M1715 232h0M1787 330h0M1759 412h0M1769 312h0M1806 373h0M1807 355h0M1779 386h0M1810 439h0M1760 346h0M1785 352h0M1749 326h0M1784 347h0M1784 294h0M1772 386h0M1771 392h0M1814 302h0M1821 376h0M1780 387h0M1800 196h0M1802 333h0M1797 296h0M1777 484h0M1797 509h0M1790 403h0M1785 298h0M1745 357h0M1775 342h0M1779 346h0M1744 349h0M1781 313h0M1775 403h0M1741 472h0M1762 371h0M1795 312h0M1792 350h0M1737 386h0M1783 526h0M1767 491h0M1785 489h0M1795 412h0M1787 387h0M1787 330h0M1817 376h0M1832 320h0M1786 373h0M1744 393h0M1789 295h0M1793 423h0M1774 481h0M1788 343h0M1753 475h0M1771 486h0M1755 373h0M1781 345h0M1766 409h0M1788 359h0M1758 396h0M1765 453h0M1756 554h0M1754 465h0M1771 471h0M1781 427h0M1794 283h0M1791 347h0M1766 418h0M1754 331h0M1782 366h0M1765 390h0M1766 475h0M1778 408h0M1752 458h0M1838 350h0M1780 413h0M1767 545h0M1780 368h0M1783 491h0M1776 344h0M1737 367h0M1788 348h0M1800 259h0M1767 554h0M1762 607h0M1845 210h0M1759 475h0M1775 419h0M1770 387h0M1756 543h0M1785 371h0M1765 359h0M1796 349h0M1772 363h0M1782 298h0M1764 404h0M1766 349h0M1774 373h0M1797 299h0M1799 435h0M1790 353h0M1828 273h0M1814 381h0M1793 402h0M1807 362h0M1801 268h0M1800 296h0M1777 327h0M1762 596h0M1770 252h0M1807 343h0M1759 432h0M1788 353h0M1758 279h0M1832 240h0M1761 329h0M1753 328h0M1760 372h0M1781 342h0M1697 260h0M1768 591h0M1790 368h0M1793 335h0M1762 474h0M1793 352h0M1761 234h0M1763 287h0M1780 465h0M1795 365h0M1767 476h0M1823 256h0M1769 412h0M1788 471h0M1791 434h0M1781 303h0M1765 393h0M1780 338h0M1794 353h0M1785 351h0M1799 337h0M1758 437h0M1794 371h0M1765 343h0M1785 375h0M1760 491h0M1801 264h0M1793 392h0M1765 383h0M1747 411h0M1783 448h0M1791 517h0M1775 417h0M1744 491h0M1787 266h0M1806 445h0M1763 516h0M1786 424h0M1745 392h0M1762 515h0M1809 278h0M1759 343h0M1786 225h0M1824 296h0M1730 357h0M1788 430h0M1789 417h0M1773 268h0M1770 397h0M1814 269h0M1774 366h0M1756 350h0M1802 473h0M1764 436h0M1770 340h0M1772 363h0M1740 480h0M1788 407h0M1798 277h0M1740 396h0M1766 453h0M1801 317h0M1828 280h0M1817 334h0M1818 393h0M1776 265h0M1788 307h0M1770 362h0M1791 295h0M1788 284h0M1800 366h0M1783 246h0M1793 488h0M1800 264h0M1794 393h0M1791 286h0M1787 320h0M1773 372h0M1770 355h0M1777 446h0M1805 448h0M1750 436h0M1754 613h0M1772 352h0M1797 361h0M1750 459h0M1776 553h0M1758 340h0M1764 351h0M1776 380h0M1762 402h0M1762 370h0M1803 363h0M1769 352h0M1743 324h0M1781 512h0M1752 416h0M1738 353h0M1776 312h0M1772 540h0M1787 366h0M1791 447h0M1772 486h0M1776 305h0M1774 347h0M1759 394h0M1766 418h0M1803 350h0M1798 288h0M1770 457h0M1807 274h0M1802 268h0M1815 226h0M1800 215h0M1791 341h0M1772 434h0M1786 329h0M1783 375h0M1733 373h0M1784 448h0M1724 451h0M1827 341h0M1764 414h0M1774 360h0M1842 285h0M1799 345h0M1758 337h0M1736 259h0M1728 391h0M1736 406h0M1787 438h0M1746 380h0M1800 352h0M1789 272h0M1733 411h0M1816 263h0M1805 400h0M1784 281h0M1813 289h0M1768 186h0M1785 356h0M1765 335h0M1771 338h0M1772 462h0M1764 462h0M1790 320h0M1800 337h0M1757 479h0M1796 248h0M1763 319h0M1796 441h0M1790 401h0M1757 446h0M1803 340h0M1803 356h0M1765 395h0M1775 415h0M1794 494h0M1765 349h0M1791 218h0M1794 316h0M1776 322h0M1811 352h0M1794 393h0M1807 395h0M1781 396h0M1798 212h0M1776 330h0M1775 373h0M1738 402h0M1796 364h0M1776 323h0M1798 334h0M1775 443h0M1803 423h0M1789 411h0M1740 340h0M1802 329h0M1809 373h0M1759 279h0M1815 398h0M1763 544h0M1778 300h0M1775 345h0M1778 331h0M1781 336h0M1800 475h0M1769 345h0M1751 383h0M1775 319h0M1806 292h0M1748 548h0M1763 359h0M1810 401h0M1818 426h0M1795 417h0M1778 353h0M1794 361h0M1768 322h0M1780 391h0M1796 337h0M1773 454h0M1799 325h0M1813 229h0M1773 355h0M1755 459h0M1803 381h0M1828 333h0M1767 340h0M1811 414h0M1752 350h0M1773 416h0M1768 480h0M1797 437h0M1756 306h0M1759 436h0M1765 383h0M1733 229h0M1744 364h0M1783 306h0M1795 477h0M1789 260h0M1803 283h0M1813 339h0M1768 379h0M1752 464h0M1773 303h0M1761 297h0M1778 509h0M1782 477h0M1792 291h0M1783 317h0M1780 540h0M1787 295h0M1809 384h0M1781 363h0M1738 344h0M1755 499h0M1801 355h0M1774 375h0M1745 507h0M1774 414h0M1773 391h0M1779 371h0M1751 523h0M1794 369h0M1809 360h0M1780 364h0M1819 423h0M1769 258h0M1790 264h0M1778 418h0M1762 434h0M1758 402h0M1751 388h0M1815 338h0M1750 499h0M1751 533h0M1789 256h0M1803 376h0M1803 326h0M1799 365h0M1807 326h0M1754 432h0M1807 369h0M1782 346h0M1764 386h0M1768 358h0M1785 366h0M1774 490h0M1777 313h0M1765 362h0M1776 364h0M1790 231h0M1777 453h0M1792 383h0M1757 350h0M1823 196h0M1750 375h0M1794 323h0M1800 326h0M1833 390h0M1758 476h0M1771 361h0M1785 450h0M1799 379h0M1787 386h0M1777 402h0M1814 330h0M1825 398h0M1767 439h0M1756 401h0M1755 396h0M1794 355h0M1764 543h0M1799 410h0M1812 293h0M1787 369h0M1793 340h0M1784 419h0M1749 307h0M1750 510h0M1837 299h0M1768 266h0M1793 372h0M1795 327h0M1751 518h0M1787 340h0M1777 399h0M1775 406h0M1838 330h0M1796 285h0M1788 367h0M1775 355h0M1810 310h0M1801 278h0M1741 397h0M1787 328h0M1782 495h0M1793 344h0M1793 337h0M1776 366h0M1788 412h0M1738 411h0M1757 356h0M1774 395h0M1778 350h0M1784 350h0M1838 375h0M1823 288h0M1834 351h0M1750 341h0M1780 607h0M1781 379h0M1811 390h0M1793 382h0M1771 482h0M1799 309h0M1777 334h0M1791 459h0M1795 358h0M1809 369h0M1797 359h0M1796 288h0M1744 401h0M1762 517h0M1751 265h0M1758 422h0M1796 353h0M1763 557h0M1760 393h0M1813 387h0M1790 366h0M1782 494h0M1783 407h0M1757 354h0M1741 460h0M1747 365h0M1803 362h0M1818 370h0M1798 437h0M1763 354h0M1749 339h0M1771 397h0M1765 488h0M1772 366h0M1816 288h0M1792 327h0M1791 367h0M1795 408h0M1810 293h0M1792 353h0M1781 328h0M1796 320h0M1757 455h0M1746 540h0M1803 332h0M1798 444h0M1790 456h0M1740 462h0M1777 377h0M1783 277h0M1797 389h0M1811 429h0M1804 332h0M1813 279h0M1808 298h0M1764 367h0M1789 279h0M1811 343h0M1751 494h0M1722 440h0M1749 430h0M1750 538h0M1816 221h0M1762 368h0M1782 440h0M1772 359h0M1753 435h0M1794 220h0M1780 443h0M1832 425h0M1803 299h0M1791 356h0M1780 384h0M1757 448h0M1788 272h0M1792 379h0M1794 412h0M1768 279h0M1791 396h0M1826 363h0M1767 464h0M1787 359h0M1744 451h0M1808 121h0M1807 355h0M1786 401h0M1761 397h0M1790 342h0M1793 385h0M1794 361h0M1782 464h0M1765 360h0M1823 344h0M1760 326h0M1788 352h0M1760 437h0M1744 375h0M1794 308h0M1776 305h0M1801 233h0M1763 367h0M1778 396h0M1774 399h0M1793 386h0M1764 442h0M1748 410h0M1777 399h0M1738 361h0M1765 391h0M1801 370h0M1766 404h0M1802 273h0M1784 300h0M1728 427h0M1769 353h0M1786 413h0M1789 493h0M1786 402h0M1795 374h0M1779 437h0M1766 339h0M1743 342h0M1812 335h0M1823 414h0M1782 547h0M1784 373h0M1764 419h0M1767 343h0M1785 280h0M1785 362h0M1778 220h0M1775 399h0M1769 428h0M1690 361h0M1779 427h0M1794 451h0M1789 299h0M1788 476h0M1798 241h0M1776 441h0M1744 357h0M1782 378h0M1758 505h0M1764 317h0M1803 382h0M1814 365h0M1751 374h0M1755 437h0M1752 491h0M1785 273h0M1757 473h0M1825 294h0M1805 396h0M1769 475h0M1771 529h0M1768 353h0M1759 546h0M1806 229h0M1799 399h0M1782 380h0M1764 388h0M1790 320h0M1803 368h0M1780 414h0M1789 331h0M1754 453h0M1769 335h0M1791 388h0M1757 483h0M1799 452h0M1789 350h0M1743 388h0M1752 493h0M1785 332h0M1723 403h0M1765 488h0M1801 333h0M1794 415h0M1800 309h0M1763 397h0M1759 421h0M1767 369h0M1786 182h0M1784 390h0M1770 398h0M1815 301h0M1789 240h0M1784 398h0M1777 386h0M1802 335h0M1763 436h0M1787 261h0M1762 417h0M1789 343h0M1808 293h0M1780 458h0M1773 282h0M1780 398h0M1755 384h0M1784 436h0M1756 404h0M1750 470h0M1789 245h0M1754 470h0M1788 365h0M1786 476h0M1778 344h0M1768 397h0M1804 295h0M1827 267h0M1779 338h0M1727 366h0M1804 291h0M1784 385h0M1746 556h0M1774 320h0M1787 491h0M1776 477h0M1763 446h0M1762 444h0M1747 383h0M1740 395h0M1802 293h0M1757 416h0M1779 441h0M1799 340h0M1801 291h0M1812 246h0M1784 358h0M1753 376h0M1775 245h0M1780 297h0M1789 272h0M1756 443h0M1760 588h0M1766 349h0M1761 504h0M1792 396h0M1756 395h0M1751 364h0M1773 394h0M1771 306h0M1743 398h0M1745 378h0M1786 346h0M1765 387h0M1783 314h0M1786 452h0M1760 398h0M1801 401h0M1787 413h0M1750 337h0M1768 375h0M1779 469h0M1771 392h0M1758 353h0M1757 493h0M1757 363h0M1789 479h0M1751 408h0M1797 291h0M1746 394h0M1804 283h0M1781 530h0M1752 361h0M1798 427h0M1773 390h0M1778 328h0M1757 403h0M1777 258h0M1773 317h0M1763 349h0M1830 381h0M1751 386h0M1776 390h0M1762 427h0M1790 335h0M1807 330h0M1778 281h0M1803 442h0M1804 389h0M1793 273h0M1772 344h0M1762 403h0M1766 401h0M1800 226h0M1781 398h0M1797 388h0M1797 286h0M1781 480h0M1759 338h0M1787 378h0M1787 433h0M1795 437h0M1777 329h0M1758 520h0M1763 381h0M1805 317h0M1766 249h0M1811 386h0M1814 259h0M1751 362h0M1752 424h0M1779 331h0M1781 357h0M1771 246h0M1772 334h0M1765 583h0M1780 402h0M1818 313h0M1757 500h0M1774 389h0M1796 419h0M1767 354h0M1779 316h0M1828 385h0M1759 334h0M1824 444h0M1763 327h0M1795 363h0M1807 403h0M1817 271h0M1794 391h0M1805 351h0M1770 386h0M1771 391h0M1775 274h0M1803 343h0M1740 341h0M1792 392h0M1797 391h0M1784 463h0M1807 338h0M1780 484h0M1786 397h0M1781 500h0M1783 403h0M1771 327h0M1809 369h0M1754 411h0M1767 622h0M1795 399h0M1773 422h0M1782 409h0M1819 309h0M1773 414h0M1755 352h0M1780 304h0M1816 396h0M1802 410h0M1794 368h0M1796 449h0M1775 390h0M1791 362h0M1770 378h0M1795 264h0M1778 351h0M1778 459h0M1782 370h0M1834 379h0M1793 340h0M1784 358h0M1813 398h0M1758 472h0M1811 318h0M1783 398h0M1770 354h0M1738 237h0M1786 273h0M1831 363h0M1763 451h0M1789 220h0M1748 348h0M1808 311h0M1775 305h0M1791 356h0M1792 408h0M1767 353h0M1805 375h0M1760 441h0M1808 403h0M1796 402h0M1792 327h0M1768 420h0M1788 346h0M1744 424h0M1755 358h0M1804 337h0M1778 535h0M1751 343h0M1793 345h0M1821 329h0M1768 523h0M1788 508h0M1796 333h0M1760 510h0M1802 377h0M1790 436h0M1765 323h0M1823 188h0M1773 436h0M1792 364h0M1784 342h0M1748 329h0M1749 406h0M1781 499h0M1790 433h0M1801 181h0M1775 287h0M1772 426h0M1820 250h0M1749 403h0M1786 366h0M1784 503h0M1813 412h0M1813 332h0M1771 496h0M1738 546h0M1796 423h0M1759 389h0M1819 362h0M1763 360h0M1789 434h0M1822 422h0M1761 366h0M1766 421h0M1799 273h0M1795 440h0M1787 468h0M1763 407h0M1787 379h0M1800 324h0M1827 358h0M1755 349h0M1789 275h0M1769 396h0M1785 402h0M1809 371h0M1770 341h0M1824 373h0M1819 340h0M1753 420h0M1772 424h0M1745 533h0M1793 285h0M1845 321h0M1759 347h0M1781 436h0M1793 349h0M1776 398h0M1801 427h0M1795 348h0M1843 323h0M1780 300h0M1767 334h0M1803 430h0M1756 351h0M1774 365h0M1768 382h0M1768 403h0M1812 269h0M1799 265h0M1843 361h0M1805 307h0M1770 327h0M1776 432h0M1773 363h0M1798 242h0M1806 244h0M1767 416h0M1787 356h0M1784 378h0M1758 362h0M1780 398h0M1785 438h0M1779 330h0M1766 395h0M1770 335h0M1789 337h0M1807 408h0M1791 359h0M1780 332h0M1780 431h0M1764 499h0M1800 415h0M1777 415h0M1829 309h0M1808 316h0M1768 393h0M1772 361h0M1770 299h0M1774 415h0M1746 361h0M1803 413h0M1770 239h0M1803 253h0M1814 362h0M1772 284h0M1774 222h0M1803 443h0M1794 217h0M1802 311h0M1768 399h0M1797 360h0M1810 357h0M1748 436h0M1783 401h0M1742 308h0M1774 356h0M1777 220h0M1748 476h0M1796 366h0M1767 452h0M1782 432h0M1826 361h0M1760 389h0M1782 335h0M1786 293h0M1755 551h0M1790 400h0M1809 362h0M1818 321h0M1841 231h0M1789 384h0M1799 422h0M1763 506h0M1765 279h0M1791 324h0M1783 407h0M1789 363h0M1777 341h0M1786 439h0M1754 236h0M1746 375h0M1787 340h0M1760 543h0M1784 446h0M1765 427h0M1758 421h0M1798 292h0M1760 361h0M1755 353h0M1763 324h0M1760 508h0M1743 478h0M1781 502h0M1767 313h0M1775 291h0M1761 377h0M1789 392h0M1790 409h0M1747 399h0M1770 366h0M1773 326h0M1821 365h0M1782 393h0M1774 367h0M1772 475h0M1793 367h0M1795 461h0M1791 376h0M1773 431h0M1768 385h0M1781 373h0M1764 336h0M1794 338h0M1761 326h0M1783 266h0M1775 351h0M1800 444h0M1810 349h0M1771 500h0M1742 461h0M1804 360h0M1752 342h0M1793 478h0M1777 372h0M1778 365h0M1777 448h0M1813 255h0M1784 401h0M1776 394h0M1808 310h0M1756 405h0M1776 400h0M1772 367h0M1792 401h0M1787 372h0M1771 498h0M1751 380h0M1767 350h0M1743 429h0M1771 456h0M1754 530h0M1793 348h0M1786 383h0M1789 385h0M1785 430h0M1764 456h0M1769 402h0M1801 437h0M1773 309h0M1815 375h0M1772 357h0M1754 490h0M1773 435h0M1835 382h0M1772 390h0M1765 531h0M1763 379h0M1814 319h0M1825 337h0M1813 251h0M1763 516h0M1755 338h0M1793 387h0M1786 357h0M1789 391h0M1760 281h0M1789 337h0M1736 338h0M1808 369h0M1803 299h0M1773 276h0M1784 497h0M1808 427h0M1760 455h0M1797 385h0M1738 439h0M1752 332h0M1808 410h0M1801 326h0M1794 264h0M1764 489h0M1771 344h0M1765 428h0M1752 458h0M1767 409h0M1757 301h0M1743 404h0M1757 276h0M1777 475h0M1779 276h0M1818 373h0M1759 469h0M1779 356h0M1777 375h0M1766 412h0M1775 388h0M1738 417h0M1805 377h0M1774 551h0M1766 368h0M1794 405h0M1791 373h0M1766 274h0M1768 356h0M1786 385h0M1775 366h0M1807 385h0M1778 385h0M1771 387h0M1752 357h0M1811 296h0M1749 345h0M1757 520h0M1773 300h0M1761 350h0M1773 380h0M1772 396h0M1776 397h0M1779 375h0M1774 509h0M1819 346h0M1738 407h0M1788 256h0M1764 396h0M1759 441h0M1844 294h0M1801 321h0M1767 271h0M1747 438h0M1764 334h0M1813 278h0M1778 392h0M1759 402h0M1770 436h0M1777 363h0M1788 327h0M1787 380h0M1802 412h0M1780 372h0M1782 412h0M1766 405h0M1762 322h0M1762 375h0M1833 355h0M1756 368h0M1767 383h0M1769 375h0M1773 419h0M1778 501h0M1761 314h0M1826 231h0M1838 265h0M1767 341h0M1794 364h0M1738 409h0M1772 385h0M1769 274h0M1817 330h0M1808 431h0M1823 389h0M1808 354h0M1768 344h0M1801 434h0M1807 321h0M1759 341h0M1793 412h0M1760 329h0M1783 397h0M1794 352h0M1816 209h0M1759 327h0M1776 450h0M1750 437h0M1824 444h0M1776 354h0M1755 431h0M1783 456h0M1759 305h0M1805 275h0M1777 357h0M1756 335h0M1799 441h0M1793 359h0M1769 352h0M1767 367h0M1772 314h0M1788 391h0M1813 218h0M1793 344h0M1800 317h0M1762 389h0M1787 377h0M1780 502h0M1783 339h0M1778 462h0M1840 398h0M1801 330h0M1784 328h0M1797 432h0M1780 372h0M1778 426h0M1738 366h0M1768 465h0M1776 453h0M1772 396h0M1813 240h0M1756 541h0M1780 405h0M1807 313h0M1762 457h0M1764 398h0M1762 538h0M1815 282h0M1793 340h0M1777 431h0M1781 516h0M1782 274h0M1772 359h0M1838 411h0M1759 402h0M1820 336h0M1788 385h0M1779 429h0M1793 427h0M1751 456h0M1795 233h0M1793 415h0M1738 316h0M1751 291h0M1806 311h0M1798 248h0M1816 200h0M1795 405h0M1768 400h0M1774 420h0M1768 472h0M1822 254h0M1795 503h0M1796 356h0M1790 317h0M1788 368h0M1771 317h0M1752 477h0M1793 398h0M1775 458h0M1826 351h0M1787 371h0M1783 335h0M1787 435h0M1810 348h0M1736 453h0M1777 427h0M1792 427h0M1759 374h0M1794 444h0M1771 262h0M1771 369h0M1817 360h0M1776 444h0M1805 334h0M1759 455h0M1793 326h0M1799 341h0M1737 323h0M1786 262h0M1751 399h0M1787 359h0M1766 437h0M1806 376h0M1771 400h0M1776 337h0M1763 305h0M1796 296h0M1826 208h0M1760 371h0M1742 523h0M1800 279h0M1720 426h0M1835 352h0M1782 496h0M1802 386h0M1786 399h0M1772 280h0M1787 271h0M1769 374h0M1752 373h0M1774 375h0M1774 327h0M1802 496h0M1805 285h0M1772 176h0M1790 423h0M1809 288h0M1768 359h0M1815 276h0M1794 350h0M1794 407h0M1753 376h0M1792 421h0M1759 337h0M1794 237h0M1763 370h0M1777 354h0M1825 194h0M1746 417h0M1756 460h0M1824 299h0M1773 402h0M1822 289h0M1818 289h0M1808 398h0M1790 470h0M1730 470h0M1783 368h0M1756 367h0M1752 338h0M1807 343h0M1780 428h0M1798 333h0M1799 308h0M1762 482h0M1777 348h0M1796 375h0M1770 432h0M1779 411h0M1788 393h0M1815 340h0M1749 298h0M1797 369h0M1783 404h0M1765 447h0M1726 228h0M1785 323h0M1759 381h0M1780 362h0M1786 342h0M1822 260h0M1744 366h0M1762 370h0M1799 383h0M1801 279h0M1779 499h0M1810 465h0M1788 359h0M1769 530h0M1776 360h0M1763 292h0M1800 360h0M1762 288h0M1803 283h0M1835 366h0M1773 365h0M1780 373h0M1808 459h0M1785 311h0M1778 268h0M1734 445h0M1737 519h0M1772 295h0M1748 443h0M1785 238h0M1806 360h0M1770 368h0M1802 366h0M1782 380h0M1766 378h0M1779 385h0M1788 384h0M1791 294h0M1820 246h0M1732 348h0M1760 314h0M1776 385h0M1784 331h0M1804 242h0M1794 343h0M1779 291h0M1744 345h0M1779 358h0M1789 330h0M1783 295h0M1801 373h0M1761 390h0M1798 273h0M1797 277h0M1788 376h0M1821 360h0M1800 330h0M1745 511h0M1790 363h0M1794 417h0M1749 360h0M1807 312h0M1755 354h0M1768 375h0M1773 441h0M1779 348h0M1780 289h0M1789 454h0M1788 324h0M1824 323h0M1797 328h0M1775 353h0M1767 313h0M1775 318h0M1795 308h0M1805 208h0M1754 292h0M1779 349h0M1781 311h0M1743 393h0M1797 486h0M1756 540h0M1785 366h0M1770 405h0M1743 413h0M1800 446h0M1774 371h0M1759 417h0M1759 502h0M1752 306h0M1798 288h0M1804 286h0M1745 533h0M1758 329h0M1777 357h0M1790 294h0M1816 340h0M1773 411h0M1783 362h0M1783 370h0M1830 241h0M1787 230h0M1789 450h0M1792 332h0M1768 373h0M1758 456h0M1771 404h0M1814 366h0M1801 370h0M1826 360h0M1760 313h0M1790 426h0M1798 147h0M1784 413h0M1788 421h0M1804 337h0M1803 319h0M1780 451h0M1762 463h0M1758 350h0M1743 431h0M1778 394h0M1768 443h0M1781 427h0M1771 306h0M1786 495h0M1783 469h0M1792 274h0M1767 388h0M1762 357h0M1784 402h0M1795 418h0M1797 324h0M1690 443h0M1742 442h0M1759 439h0M1790 377h0M1793 304h0M1738 482h0M1780 466h0M1808 393h0M1792 452h0M1821 208h0M1775 359h0M1741 451h0M1760 397h0M1775 362h0M1761 377h0M1777 429h0M1798 339h0M1798 467h0M1799 395h0M1743 353h0M1745 405h0M1801 367h0M1788 285h0M1783 330h0M1768 682h0M1813 359h0M1769 320h0M1776 378h0M1761 397h0M1793 352h0M1797 172h0M1830 233h0M1795 246h0M1819 241h0M1770 403h0M1709 285h0M1755 312h0M1756 363h0M1763 446h0M1774 364h0M1778 447h0M1774 522h0M1790 341h0M1796 453h0M1745 497h0M1782 413h0M1793 390h0M1798 378h0M1784 518h0M1784 460h0M1774 349h0M1738 494h0M1789 363h0M1752 323h0M1794 417h0M1775 460h0M1763 365h0M1765 365h0M1745 426h0M1793 377h0M1776 273h0M1779 275h0M1797 230h0M1809 305h0M1769 385h0M1767 400h0M1788 462h0M1779 375h0M1798 379h0M1822 265h0M1765 488h0M1783 362h0M1790 208h0M1773 436h0M1775 347h0M1752 487h0M1769 369h0M1738 384h0M1776 354h0M1795 416h0M1764 366h0M1794 361h0M1740 486h0M1785 368h0M1816 302h0M1798 377h0M1771 396h0M1782 393h0M1788 489h0M1801 455h0M1812 296h0M1797 383h0M1797 248h0M1747 362h0M1765 403h0M1759 470h0M1745 401h0M1804 317h0M1774 351h0M1772 485h0M1773 256h0M1769 366h0M1809 332h0M1782 256h0M1766 409h0M1761 357h0M1798 451h0M1764 572h0M1826 263h0M1756 358h0M1782 342h0M1781 373h0M1744 462h0M1797 374h0M1775 479h0M1804 312h0M1803 517h0M1803 383h0M1780 463h0M1797 347h0M1774 507h0M1801 404h0M1791 357h0M1778 363h0M1763 352h0M1794 392h0M1772 401h0M1811 401h0M1773 415h0M1828 351h0M1765 395h0M1780 367h0M1775 459h0M1812 379h0M1737 308h0M1759 407h0M1750 529h0M1798 383h0M1777 459h0M1778 357h0M1784 330h0M1786 384h0M1748 477h0M1768 337h0M1778 349h0M1776 350h0M1790 347h0M1760 382h0M1790 406h0M1787 373h0M1780 367h0M1777 480h0M1789 323h0M1769 365h0M1771 513h0M1759 296h0M1777 377h0M1779 469h0M1799 303h0M1816 343h0M1789 282h0M1759 461h0M1745 475h0M1763 366h0M1771 555h0M1818 259h0M1805 313h0M1741 347h0M1799 329h0M1784 257h0M1757 346h0M1757 366h0M1789 381h0M1749 458h0M1805 375h0M1808 235h0M1785 336h0M1809 274h0M1809 229h0M1816 403h0M1784 440h0M1821 323h0M1752 500h0M1754 284h0M1745 215h0M1779 455h0M1763 391h0M1769 409h0M1763 448h0M1749 339h0M1757 396h0M1692 412h0M1798 343h0M1820 403h0M1730 422h0M1768 347h0M1787 403h0M1773 410h0M1782 443h0M1774 384h0M1744 452h0M1783 483h0M1805 262h0M1783 550h0M1767 289h0M1785 365h0M1750 381h0M1823 411h0M1743 403h0M1790 362h0M1770 473h0M1742 328h0M1806 238h0M1805 330h0M1807 356h0M1762 224h0M1792 386h0M1790 335h0M1780 317h0M1777 400h0M1783 296h0M1757 521h0M1764 297h0M1800 371h0M1810 402h0M1740 418h0M1811 335h0M1774 378h0M1747 449h0M1778 314h0M1768 288h0M1814 317h0M1807 436h0M1775 445h0M1797 422h0M1763 397h0M1784 445h0M1800 362h0M1744 368h0M1785 347h0M1780 365h0M1810 312h0M1791 511h0M1754 434h0M1763 365h0M1833 284h0M1762 386h0M1794 366h0M1776 412h0M1765 397h0M1813 296h0M1775 324h0M1797 374h0M1753 382h0M1755 516h0M1803 415h0M1786 373h0M1794 437h0M1806 285h0M1781 312h0M1789 350h0M1752 267h0M1771 461h0M1831 319h0M1825 311h0M1815 326h0M1777 331h0M1772 431h0M1784 390h0M1778 341h0M1762 352h0M1769 438h0M1826 345h0M1784 250h0M1760 353h0M1776 337h0M1811 368h0M1786 518h0M1798 402h0M1755 367h0M1757 374h0M1814 359h0M1782 389h0M1792 378h0M1793 383h0M1809 426h0M1788 490h0M1829 336h0M1777 331h0M1804 359h0M1750 462h0M1777 470h0M1738 446h0M1775 394h0M1783 335h0M1749 553h0M1772 368h0M1810 310h0M1731 373h0M1767 236h0M1827 260h0M1741 363h0M1787 383h0M1769 364h0M1786 451h0M1784 305h0M1738 427h0M1781 359h0M1814 380h0M1803 518h0M1771 427h0M1782 554h0M1787 355h0M1736 490h0M1779 404h0M1753 441h0M1749 562h0M1793 247h0M1784 437h0M1838 226h0M1832 236h0M1746 442h0M1784 426h0M1784 367h0M1774 307h0M1780 409h0M1756 693h0M1772 452h0M1773 272h0M1802 354h0M1755 419h0M1775 371h0M1763 431h0M1830 393h0M1757 362h0M1755 373h0M1780 373h0M1780 279h0M1809 341h0M1772 375h0M1809 380h0M1779 448h0M1783 418h0M1770 382h0M1786 370h0M1762 383h0M1770 358h0M1792 393h0M1757 407h0M1774 346h0M1768 365h0M1780 364h0M1771 391h0M1831 312h0M1781 305h0M1752 399h0M1761 424h0M1816 445h0M1791 337h0M1737 354h0M1753 383h0M1779 363h0M1770 511h0M1780 402h0M1772 338h0M1795 345h0M1778 391h0M1771 374h0M1794 372h0M1772 325h0M1761 395h0M1745 377h0M1769 467h0M1791 441h0M1760 428h0M1797 296h0M1748 429h0M1792 453h0M1803 369h0M1784 392h0M1809 334h0M1734 506h0M1788 321h0M1811 228h0M1780 433h0M1790 355h0M1777 357h0M1796 244h0M1800 440h0M1759 388h0M1777 371h0M1792 294h0M1773 366h0M1797 364h0M1791 330h0M1743 449h0M1766 485h0M1778 381h0M1810 416h0M1787 368h0M1805 330h0M1801 403h0M1800 260h0M1782 402h0M1761 455h0M1784 246h0M1773 468h0M1742 415h0M1755 530h0M1759 350h0M1773 367h0M1792 393h0M1817 379h0M1767 329h0M1758 421h0M1811 367h0M1770 462h0M1794 388h0M1706 315h0M1780 426h0M1798 381h0M1783 395h0M1802 236h0M1791 386h0M1754 436h0M1763 381h0M1779 298h0M1760 453h0M1789 387h0M1770 407h0M1767 413h0M1808 452h0M1775 425h0M1780 449h0M1755 364h0M1767 465h0M1812 299h0M1743 442h0M1790 434h0M1786 343h0M1785 406h0M1810 351h0M1786 302h0M1842 204h0M1789 377h0M1796 245h0M1773 449h0M1799 351h0M1812 289h0M1774 242h0M1749 421h0M1835 359h0M1753 506h0M1770 293h0M1787 363h0M1767 352h0M1799 406h0M1799 455h0M1767 390h0M1758 337h0M1796 229h0M1773 348h0M1748 645h0M1738 350h0M1777 482h0M1833 235h0M1826 379h0M1793 218h0M1762 399h0M1781 400h0M1774 354h0M1804 220h0M1795 242h0M1754 415h0M1781 353h0M1762 386h0M1825 436h0M1763 415h0M1782 352h0M1779 388h0M1777 312h0M1828 419h0M1794 343h0M1745 364h0M1812 311h0M1775 443h0M1788 372h0M1793 249h0M1774 319h0M1793 411h0M1771 392h0M1807 332h0M1760 411h0M1792 266h0M1789 421h0M1788 421h0M1767 480h0M1761 501h0M1790 452h0M1775 266h0M1763 364h0M1766 524h0" stroke="#6c9fd0" stroke-width="8.2" stroke-linecap="round" fill="none"/><path d="M1768 361h0M1840 278h0M1797 386h0M1763 460h0M1761 506h0M1779 295h0M1802 359h0M1774 471h0M1818 378h0M1784 409h0M1791 347h0M1818 303h0M1783 376h0M1833 375h0M1789 371h0M1745 417h0M1802 496h0M1749 361h0M1776 465h0M1745 408h0M1784 434h0M1761 353h0M1786 366h0M1786 376h0M1782 303h0M1810 358h0M1775 501h0M1756 642h0M1784 417h0M1822 272h0M1769 422h0M1799 398h0M1776 332h0M1832 328h0M1763 345h0M1802 362h0M1799 427h0M1801 414h0M1782 386h0M1756 339h0M1759 629h0M1807 306h0M1743 408h0M1763 341h0M1811 288h0M1786 295h0M1751 548h0M1806 146h0M1744 371h0M1738 471h0M1801 374h0M1787 373h0M1818 340h0M1758 435h0M1702 338h0M1798 378h0M1742 624h0M1784 356h0M1782 349h0M1770 239h0M1770 402h0M1773 382h0M1778 321h0M1759 362h0M1766 416h0M1786 357h0M1789 374h0M1733 460h0M1819 345h0M1804 337h0M1831 385h0M1788 281h0M1769 443h0M1749 431h0M1771 333h0M1769 367h0M1776 469h0M1802 318h0M1790 321h0M1768 373h0M1833 316h0M1759 268h0M1744 469h0M1763 404h0M1764 464h0M1753 472h0M1769 370h0M1806 405h0M1787 282h0M1813 325h0M1766 395h0M1800 382h0M1759 317h0M1795 361h0M1808 427h0M1780 390h0M1787 313h0M1796 356h0M1756 309h0M1790 273h0M1764 449h0M1798 335h0M1761 330h0M1770 386h0M1785 442h0M1798 349h0M1804 381h0M1785 445h0M1765 495h0M1797 334h0M1782 219h0M1767 306h0M1752 481h0M1749 407h0M1829 303h0M1765 391h0M1759 335h0M1792 274h0M1757 542h0M1776 513h0M1764 336h0M1774 363h0M1781 472h0M1800 373h0M1783 366h0M1779 354h0M1793 257h0M1786 372h0M1776 490h0M1778 454h0M1787 481h0M1773 301h0M1788 394h0M1758 491h0M1738 443h0M1813 419h0M1764 396h0M1837 290h0M1775 350h0M1813 447h0M1759 208h0M1761 394h0M1766 332h0M1793 376h0M1794 392h0M1771 365h0M1795 306h0M1777 453h0M1791 391h0M1736 372h0M1765 369h0M1763 432h0M1795 353h0M1734 459h0M1778 336h0M1781 348h0M1774 513h0M1774 286h0M1779 395h0M1772 400h0M1750 344h0M1779 352h0M1755 483h0M1799 314h0M1828 409h0M1787 338h0M1779 258h0M1783 464h0M1794 446h0M1791 247h0M1781 480h0M1777 445h0M1781 391h0M1761 367h0M1817 288h0M1770 329h0M1790 397h0M1755 306h0M1751 349h0M1825 339h0M1783 493h0M1732 415h0M1763 320h0M1779 479h0M1715 232h0M1787 330h0M1759 412h0M1769 312h0M1806 373h0M1807 355h0M1779 386h0M1810 439h0M1760 346h0M1785 352h0M1749 326h0M1784 347h0M1784 294h0M1772 386h0M1771 392h0M1814 302h0M1821 376h0M1780 387h0M1800 196h0M1802 333h0M1797 296h0M1777 484h0M1797 509h0M1790 403h0M1785 298h0M1745 357h0M1775 342h0M1779 346h0M1744 349h0M1781 313h0M1775 403h0M1741 472h0M1762 371h0M1795 312h0M1792 350h0M1737 386h0M1783 526h0M1767 491h0M1785 489h0M1795 412h0M1787 387h0M1787 330h0M1817 376h0M1832 320h0M1786 373h0M1744 393h0M1789 295h0M1793 423h0M1774 481h0M1788 343h0M1753 475h0M1771 486h0M1755 373h0M1781 345h0M1766 409h0M1788 359h0M1758 396h0M1765 453h0M1756 554h0M1754 465h0M1771 471h0M1781 427h0M1794 283h0M1791 347h0M1766 418h0M1754 331h0M1782 366h0M1765 390h0M1766 475h0M1778 408h0M1752 458h0M1838 350h0M1780 413h0M1767 545h0M1780 368h0M1783 491h0M1776 344h0M1737 367h0M1788 348h0M1800 259h0M1767 554h0M1762 607h0M1845 210h0M1759 475h0M1775 419h0M1770 387h0M1756 543h0M1785 371h0M1765 359h0M1796 349h0M1772 363h0M1782 298h0M1764 404h0M1766 349h0M1774 373h0M1797 299h0M1799 435h0M1790 353h0M1828 273h0M1814 381h0M1793 402h0M1807 362h0M1801 268h0M1800 296h0M1777 327h0M1762 596h0M1770 252h0M1807 343h0M1759 432h0M1788 353h0M1758 279h0M1832 240h0M1761 329h0M1753 328h0M1760 372h0M1781 342h0M1697 260h0M1768 591h0M1790 368h0M1793 335h0M1762 474h0M1793 352h0M1761 234h0M1763 287h0M1780 465h0M1795 365h0M1767 476h0M1823 256h0M1769 412h0M1788 471h0M1791 434h0M1781 303h0M1765 393h0M1780 338h0M1794 353h0M1785 351h0M1799 337h0M1758 437h0M1794 371h0M1765 343h0M1785 375h0M1760 491h0M1801 264h0M1793 392h0M1765 383h0M1747 411h0M1783 448h0M1791 517h0M1775 417h0M1744 491h0M1787 266h0M1806 445h0M1763 516h0M1786 424h0M1745 392h0M1762 515h0M1809 278h0M1759 343h0M1786 225h0M1824 296h0M1730 357h0M1788 430h0M1789 417h0M1773 268h0M1770 397h0M1814 269h0M1774 366h0M1756 350h0M1802 473h0M1764 436h0M1770 340h0M1772 363h0M1740 480h0M1788 407h0M1798 277h0M1740 396h0M1766 453h0M1801 317h0M1828 280h0M1817 334h0M1818 393h0M1776 265h0M1788 307h0M1770 362h0M1791 295h0M1788 284h0M1800 366h0M1783 246h0M1793 488h0M1800 264h0M1794 393h0M1791 286h0M1787 320h0M1773 372h0M1770 355h0M1777 446h0M1805 448h0M1750 436h0M1754 613h0M1772 352h0M1797 361h0M1750 459h0M1776 553h0M1758 340h0M1764 351h0M1776 380h0M1762 402h0M1762 370h0M1803 363h0M1769 352h0M1743 324h0M1781 512h0M1752 416h0M1738 353h0M1776 312h0M1772 540h0M1787 366h0M1791 447h0M1772 486h0M1776 305h0M1774 347h0M1759 394h0M1766 418h0M1803 350h0M1798 288h0M1770 457h0M1807 274h0M1802 268h0M1815 226h0M1800 215h0M1791 341h0M1772 434h0M1786 329h0M1783 375h0M1733 373h0M1784 448h0M1724 451h0M1827 341h0M1764 414h0M1774 360h0M1842 285h0M1799 345h0M1758 337h0M1736 259h0M1728 391h0M1736 406h0M1787 438h0M1746 380h0M1800 352h0M1789 272h0M1733 411h0M1816 263h0M1805 400h0M1784 281h0M1813 289h0M1768 186h0M1785 356h0M1765 335h0M1771 338h0M1772 462h0M1764 462h0M1790 320h0M1800 337h0M1757 479h0M1796 248h0M1763 319h0M1796 441h0M1790 401h0M1757 446h0M1803 340h0M1803 356h0M1765 395h0M1775 415h0M1794 494h0M1765 349h0M1791 218h0M1794 316h0M1776 322h0M1811 352h0M1794 393h0M1807 395h0M1781 396h0M1798 212h0M1776 330h0M1775 373h0M1738 402h0M1796 364h0M1776 323h0M1798 334h0M1775 443h0M1803 423h0M1789 411h0M1740 340h0M1802 329h0M1809 373h0M1759 279h0M1815 398h0M1763 544h0M1778 300h0M1775 345h0M1778 331h0M1781 336h0M1800 475h0M1769 345h0M1751 383h0M1775 319h0M1806 292h0M1748 548h0M1763 359h0M1810 401h0M1818 426h0M1795 417h0M1778 353h0M1794 361h0M1768 322h0M1780 391h0M1796 337h0M1773 454h0M1799 325h0M1813 229h0M1773 355h0M1755 459h0M1803 381h0M1828 333h0M1767 340h0M1811 414h0M1752 350h0M1773 416h0M1768 480h0M1797 437h0M1756 306h0M1759 436h0M1765 383h0M1733 229h0M1744 364h0M1783 306h0M1795 477h0M1789 260h0M1803 283h0M1813 339h0M1768 379h0M1752 464h0M1773 303h0M1761 297h0M1778 509h0M1782 477h0M1792 291h0M1783 317h0M1780 540h0M1787 295h0M1809 384h0M1781 363h0M1738 344h0M1755 499h0M1801 355h0M1774 375h0M1745 507h0M1774 414h0M1773 391h0M1779 371h0M1751 523h0M1794 369h0M1809 360h0M1780 364h0M1819 423h0M1769 258h0M1790 264h0M1778 418h0M1762 434h0M1758 402h0M1751 388h0M1815 338h0M1750 499h0M1751 533h0M1789 256h0M1803 376h0M1803 326h0M1799 365h0M1807 326h0M1754 432h0M1807 369h0M1782 346h0M1764 386h0M1768 358h0M1785 366h0M1774 490h0M1777 313h0M1765 362h0M1776 364h0M1790 231h0M1777 453h0M1792 383h0M1757 350h0M1823 196h0M1750 375h0M1794 323h0M1800 326h0M1833 390h0M1758 476h0M1771 361h0M1785 450h0M1799 379h0M1787 386h0M1777 402h0M1814 330h0M1825 398h0M1767 439h0M1756 401h0M1755 396h0M1794 355h0M1764 543h0M1799 410h0M1812 293h0M1787 369h0M1793 340h0M1784 419h0M1749 307h0M1750 510h0M1837 299h0M1768 266h0M1793 372h0M1795 327h0M1751 518h0M1787 340h0M1777 399h0M1775 406h0M1838 330h0M1796 285h0M1788 367h0M1775 355h0M1810 310h0M1801 278h0M1741 397h0M1787 328h0M1782 495h0M1793 344h0M1793 337h0M1776 366h0M1788 412h0M1738 411h0M1757 356h0M1774 395h0M1778 350h0M1784 350h0M1838 375h0M1823 288h0M1834 351h0M1750 341h0M1780 607h0M1781 379h0M1811 390h0M1793 382h0M1771 482h0M1799 309h0M1777 334h0M1791 459h0M1795 358h0M1809 369h0M1797 359h0M1796 288h0M1744 401h0M1762 517h0M1751 265h0M1758 422h0M1796 353h0M1763 557h0M1760 393h0M1813 387h0M1790 366h0M1782 494h0M1783 407h0M1757 354h0M1741 460h0M1747 365h0M1803 362h0M1818 370h0M1798 437h0M1763 354h0M1749 339h0M1771 397h0M1765 488h0M1772 366h0M1816 288h0M1792 327h0M1791 367h0M1795 408h0M1810 293h0M1792 353h0M1781 328h0M1796 320h0M1757 455h0M1746 540h0M1803 332h0M1798 444h0M1790 456h0M1740 462h0M1777 377h0M1783 277h0M1797 389h0M1811 429h0M1804 332h0M1813 279h0M1808 298h0M1764 367h0M1789 279h0M1811 343h0M1751 494h0M1722 440h0M1749 430h0M1750 538h0M1816 221h0M1762 368h0M1782 440h0M1772 359h0M1753 435h0M1794 220h0M1780 443h0M1832 425h0M1803 299h0M1791 356h0M1780 384h0M1757 448h0M1788 272h0M1792 379h0M1794 412h0M1768 279h0M1791 396h0M1826 363h0M1767 464h0M1787 359h0M1744 451h0M1808 121h0M1807 355h0M1786 401h0M1761 397h0M1790 342h0M1793 385h0M1794 361h0M1782 464h0M1765 360h0M1823 344h0M1760 326h0M1788 352h0M1760 437h0M1744 375h0M1794 308h0M1776 305h0M1801 233h0M1763 367h0M1778 396h0M1774 399h0M1793 386h0M1764 442h0M1748 410h0M1777 399h0M1738 361h0M1765 391h0M1801 370h0M1766 404h0M1802 273h0M1784 300h0M1728 427h0M1769 353h0M1786 413h0M1789 493h0M1786 402h0M1795 374h0M1779 437h0M1766 339h0M1743 342h0M1812 335h0M1823 414h0M1782 547h0M1784 373h0M1764 419h0M1767 343h0M1785 280h0M1785 362h0M1778 220h0M1775 399h0M1769 428h0M1690 361h0M1779 427h0M1794 451h0M1789 299h0M1788 476h0M1798 241h0M1776 441h0M1744 357h0M1782 378h0M1758 505h0M1764 317h0M1803 382h0M1814 365h0M1751 374h0M1755 437h0M1752 491h0M1785 273h0M1757 473h0M1825 294h0M1805 396h0M1769 475h0M1771 529h0M1768 353h0M1759 546h0M1806 229h0M1799 399h0M1782 380h0M1764 388h0M1790 320h0M1803 368h0M1780 414h0M1789 331h0M1754 453h0M1769 335h0M1791 388h0M1757 483h0M1799 452h0M1789 350h0M1743 388h0M1752 493h0M1785 332h0M1723 403h0M1765 488h0M1801 333h0M1794 415h0M1800 309h0M1763 397h0M1759 421h0M1767 369h0M1786 182h0M1784 390h0M1770 398h0M1815 301h0M1789 240h0M1784 398h0M1777 386h0M1802 335h0M1763 436h0M1787 261h0M1762 417h0M1789 343h0M1808 293h0M1780 458h0M1773 282h0M1780 398h0M1755 384h0M1784 436h0M1756 404h0M1750 470h0M1789 245h0M1754 470h0M1788 365h0M1786 476h0M1778 344h0M1768 397h0M1804 295h0M1827 267h0M1779 338h0M1727 366h0M1804 291h0M1784 385h0M1746 556h0M1774 320h0M1787 491h0M1776 477h0M1763 446h0M1762 444h0M1747 383h0M1740 395h0M1802 293h0M1757 416h0M1779 441h0M1799 340h0M1801 291h0M1812 246h0M1784 358h0M1753 376h0M1775 245h0M1780 297h0M1789 272h0M1756 443h0M1760 588h0M1766 349h0M1761 504h0M1792 396h0M1756 395h0M1751 364h0M1773 394h0M1771 306h0M1743 398h0M1745 378h0M1786 346h0M1765 387h0M1783 314h0M1786 452h0M1760 398h0M1801 401h0M1787 413h0M1750 337h0M1768 375h0M1779 469h0M1771 392h0M1758 353h0M1757 493h0M1757 363h0M1789 479h0M1751 408h0M1797 291h0M1746 394h0M1804 283h0M1781 530h0M1752 361h0M1798 427h0M1773 390h0M1778 328h0M1757 403h0M1777 258h0M1773 317h0M1763 349h0M1830 381h0M1751 386h0M1776 390h0M1762 427h0M1790 335h0M1807 330h0M1778 281h0M1803 442h0M1804 389h0M1793 273h0M1772 344h0M1762 403h0M1766 401h0M1800 226h0M1781 398h0M1797 388h0M1797 286h0M1781 480h0M1759 338h0M1787 378h0M1787 433h0M1795 437h0M1777 329h0M1758 520h0M1763 381h0M1805 317h0M1766 249h0M1811 386h0M1814 259h0M1751 362h0M1752 424h0M1779 331h0M1781 357h0M1771 246h0M1772 334h0M1765 583h0M1780 402h0M1818 313h0M1757 500h0M1774 389h0M1796 419h0M1767 354h0M1779 316h0M1828 385h0M1759 334h0M1824 444h0M1763 327h0M1795 363h0M1807 403h0M1817 271h0M1794 391h0M1805 351h0M1770 386h0M1771 391h0M1775 274h0M1803 343h0M1740 341h0M1792 392h0M1797 391h0M1784 463h0M1807 338h0M1780 484h0M1786 397h0M1781 500h0M1783 403h0M1771 327h0M1809 369h0M1754 411h0M1767 622h0M1795 399h0M1773 422h0M1782 409h0M1819 309h0M1773 414h0M1755 352h0M1780 304h0M1816 396h0M1802 410h0M1794 368h0M1796 449h0M1775 390h0M1791 362h0M1770 378h0M1795 264h0M1778 351h0M1778 459h0M1782 370h0M1834 379h0M1793 340h0M1784 358h0M1813 398h0M1758 472h0M1811 318h0M1783 398h0M1770 354h0M1738 237h0M1786 273h0M1831 363h0M1763 451h0M1789 220h0M1748 348h0M1808 311h0M1775 305h0M1791 356h0M1792 408h0M1767 353h0M1805 375h0M1760 441h0M1808 403h0M1796 402h0M1792 327h0M1768 420h0M1788 346h0M1744 424h0M1755 358h0M1804 337h0M1778 535h0M1751 343h0M1793 345h0M1821 329h0M1768 523h0M1788 508h0M1796 333h0M1760 510h0M1802 377h0M1790 436h0M1765 323h0M1823 188h0M1773 436h0M1792 364h0M1784 342h0M1748 329h0M1749 406h0M1781 499h0M1790 433h0M1801 181h0M1775 287h0M1772 426h0M1820 250h0M1749 403h0M1786 366h0M1784 503h0M1813 412h0M1813 332h0M1771 496h0M1738 546h0M1796 423h0M1759 389h0M1819 362h0M1763 360h0M1789 434h0M1822 422h0M1761 366h0M1766 421h0M1799 273h0M1795 440h0M1787 468h0M1763 407h0M1787 379h0M1800 324h0M1827 358h0M1755 349h0M1789 275h0M1769 396h0M1785 402h0M1809 371h0M1770 341h0M1824 373h0M1819 340h0M1753 420h0M1772 424h0M1745 533h0M1793 285h0M1845 321h0M1759 347h0M1781 436h0M1793 349h0M1776 398h0M1801 427h0M1795 348h0M1843 323h0M1780 300h0M1767 334h0M1803 430h0M1756 351h0M1774 365h0M1768 382h0M1768 403h0M1812 269h0M1799 265h0M1843 361h0M1805 307h0M1770 327h0M1776 432h0M1773 363h0M1798 242h0M1806 244h0M1767 416h0M1787 356h0M1784 378h0M1758 362h0M1780 398h0M1785 438h0M1779 330h0M1766 395h0M1770 335h0M1789 337h0M1807 408h0M1791 359h0M1780 332h0M1780 431h0M1764 499h0M1800 415h0M1777 415h0M1829 309h0M1808 316h0M1768 393h0M1772 361h0M1770 299h0M1774 415h0M1746 361h0M1803 413h0M1770 239h0M1803 253h0M1814 362h0M1772 284h0M1774 222h0M1803 443h0M1794 217h0M1802 311h0M1768 399h0M1797 360h0M1810 357h0M1748 436h0M1783 401h0M1742 308h0M1774 356h0M1777 220h0M1748 476h0M1796 366h0M1767 452h0M1782 432h0M1826 361h0M1760 389h0M1782 335h0M1786 293h0M1755 551h0M1790 400h0M1809 362h0M1818 321h0M1841 231h0M1789 384h0M1799 422h0M1763 506h0M1765 279h0M1791 324h0M1783 407h0M1789 363h0M1777 341h0M1786 439h0M1754 236h0M1746 375h0M1787 340h0M1760 543h0M1784 446h0M1765 427h0M1758 421h0M1798 292h0M1760 361h0M1755 353h0M1763 324h0M1760 508h0M1743 478h0M1781 502h0M1767 313h0M1775 291h0M1761 377h0M1789 392h0M1790 409h0M1747 399h0M1770 366h0M1773 326h0M1821 365h0M1782 393h0M1774 367h0M1772 475h0M1793 367h0M1795 461h0M1791 376h0M1773 431h0M1768 385h0M1781 373h0M1764 336h0M1794 338h0M1761 326h0M1783 266h0M1775 351h0M1800 444h0M1810 349h0M1771 500h0M1742 461h0M1804 360h0M1752 342h0M1793 478h0M1777 372h0M1778 365h0M1777 448h0M1813 255h0M1784 401h0M1776 394h0M1808 310h0M1756 405h0M1776 400h0M1772 367h0M1792 401h0M1787 372h0M1771 498h0M1751 380h0M1767 350h0M1743 429h0M1771 456h0M1754 530h0M1793 348h0M1786 383h0M1789 385h0M1785 430h0M1764 456h0M1769 402h0M1801 437h0M1773 309h0M1815 375h0M1772 357h0M1754 490h0M1773 435h0M1835 382h0M1772 390h0M1765 531h0M1763 379h0M1814 319h0M1825 337h0M1813 251h0M1763 516h0M1755 338h0M1793 387h0M1786 357h0M1789 391h0M1760 281h0M1789 337h0M1736 338h0M1808 369h0M1803 299h0M1773 276h0M1784 497h0M1808 427h0M1760 455h0M1797 385h0M1738 439h0M1752 332h0M1808 410h0M1801 326h0M1794 264h0M1764 489h0M1771 344h0M1765 428h0M1752 458h0M1767 409h0M1757 301h0M1743 404h0M1757 276h0M1777 475h0M1779 276h0M1818 373h0M1759 469h0M1779 356h0M1777 375h0M1766 412h0M1775 388h0M1738 417h0M1805 377h0M1774 551h0M1766 368h0M1794 405h0M1791 373h0M1766 274h0M1768 356h0M1786 385h0M1775 366h0M1807 385h0M1778 385h0M1771 387h0M1752 357h0M1811 296h0M1749 345h0M1757 520h0M1773 300h0M1761 350h0M1773 380h0M1772 396h0M1776 397h0M1779 375h0M1774 509h0M1819 346h0M1738 407h0M1788 256h0M1764 396h0M1759 441h0M1844 294h0M1801 321h0M1767 271h0M1747 438h0M1764 334h0M1813 278h0M1778 392h0M1759 402h0M1770 436h0M1777 363h0M1788 327h0M1787 380h0M1802 412h0M1780 372h0M1782 412h0M1766 405h0M1762 322h0M1762 375h0M1833 355h0M1756 368h0M1767 383h0M1769 375h0M1773 419h0M1778 501h0M1761 314h0M1826 231h0M1838 265h0M1767 341h0M1794 364h0M1738 409h0M1772 385h0M1769 274h0M1817 330h0M1808 431h0M1823 389h0M1808 354h0M1768 344h0M1801 434h0M1807 321h0M1759 341h0M1793 412h0M1760 329h0M1783 397h0M1794 352h0M1816 209h0M1759 327h0M1776 450h0M1750 437h0M1824 444h0M1776 354h0M1755 431h0M1783 456h0M1759 305h0M1805 275h0M1777 357h0M1756 335h0M1799 441h0M1793 359h0M1769 352h0M1767 367h0M1772 314h0M1788 391h0M1813 218h0M1793 344h0M1800 317h0M1762 389h0M1787 377h0M1780 502h0M1783 339h0M1778 462h0M1840 398h0M1801 330h0M1784 328h0M1797 432h0M1780 372h0M1778 426h0M1738 366h0M1768 465h0M1776 453h0M1772 396h0M1813 240h0M1756 541h0M1780 405h0M1807 313h0M1762 457h0M1764 398h0M1762 538h0M1815 282h0M1793 340h0M1777 431h0M1781 516h0M1782 274h0M1772 359h0M1838 411h0M1759 402h0M1820 336h0M1788 385h0M1779 429h0M1793 427h0M1751 456h0M1795 233h0M1793 415h0M1738 316h0M1751 291h0M1806 311h0M1798 248h0M1816 200h0M1795 405h0M1768 400h0M1774 420h0M1768 472h0M1822 254h0M1795 503h0M1796 356h0M1790 317h0M1788 368h0M1771 317h0M1752 477h0M1793 398h0M1775 458h0M1826 351h0M1787 371h0M1783 335h0M1787 435h0M1810 348h0M1736 453h0M1777 427h0M1792 427h0M1759 374h0M1794 444h0M1771 262h0M1771 369h0M1817 360h0M1776 444h0M1805 334h0M1759 455h0M1793 326h0M1799 341h0M1737 323h0M1786 262h0M1751 399h0M1787 359h0M1766 437h0M1806 376h0M1771 400h0M1776 337h0M1763 305h0M1796 296h0M1826 208h0M1760 371h0M1742 523h0M1800 279h0M1720 426h0M1835 352h0M1782 496h0M1802 386h0M1786 399h0M1772 280h0M1787 271h0M1769 374h0M1752 373h0M1774 375h0M1774 327h0M1802 496h0M1805 285h0M1772 176h0M1790 423h0M1809 288h0M1768 359h0M1815 276h0M1794 350h0M1794 407h0M1753 376h0M1792 421h0M1759 337h0M1794 237h0M1763 370h0M1777 354h0M1825 194h0M1746 417h0M1756 460h0M1824 299h0M1773 402h0M1822 289h0M1818 289h0M1808 398h0M1790 470h0M1730 470h0M1783 368h0M1756 367h0M1752 338h0M1807 343h0M1780 428h0M1798 333h0M1799 308h0M1762 482h0M1777 348h0M1796 375h0M1770 432h0M1779 411h0M1788 393h0M1815 340h0M1749 298h0M1797 369h0M1783 404h0M1765 447h0M1726 228h0M1785 323h0M1759 381h0M1780 362h0M1786 342h0M1822 260h0M1744 366h0M1762 370h0M1799 383h0M1801 279h0M1779 499h0M1810 465h0M1788 359h0M1769 530h0M1776 360h0M1763 292h0M1800 360h0M1762 288h0M1803 283h0M1835 366h0M1773 365h0M1780 373h0M1808 459h0M1785 311h0M1778 268h0M1734 445h0M1737 519h0M1772 295h0M1748 443h0M1785 238h0M1806 360h0M1770 368h0M1802 366h0M1782 380h0M1766 378h0M1779 385h0M1788 384h0M1791 294h0M1820 246h0M1732 348h0M1760 314h0M1776 385h0M1784 331h0M1804 242h0M1794 343h0M1779 291h0M1744 345h0M1779 358h0M1789 330h0M1783 295h0M1801 373h0M1761 390h0M1798 273h0M1797 277h0M1788 376h0M1821 360h0M1800 330h0M1745 511h0M1790 363h0M1794 417h0M1749 360h0M1807 312h0M1755 354h0M1768 375h0M1773 441h0M1779 348h0M1780 289h0M1789 454h0M1788 324h0M1824 323h0M1797 328h0M1775 353h0M1767 313h0M1775 318h0M1795 308h0M1805 208h0M1754 292h0M1779 349h0M1781 311h0M1743 393h0M1797 486h0M1756 540h0M1785 366h0M1770 405h0M1743 413h0M1800 446h0M1774 371h0M1759 417h0M1759 502h0M1752 306h0M1798 288h0M1804 286h0M1745 533h0M1758 329h0M1777 357h0M1790 294h0M1816 340h0M1773 411h0M1783 362h0M1783 370h0M1830 241h0M1787 230h0M1789 450h0M1792 332h0M1768 373h0M1758 456h0M1771 404h0M1814 366h0M1801 370h0M1826 360h0M1760 313h0M1790 426h0M1798 147h0M1784 413h0M1788 421h0M1804 337h0M1803 319h0M1780 451h0M1762 463h0M1758 350h0M1743 431h0M1778 394h0M1768 443h0M1781 427h0M1771 306h0M1786 495h0M1783 469h0M1792 274h0M1767 388h0M1762 357h0M1784 402h0M1795 418h0M1797 324h0M1690 443h0M1742 442h0M1759 439h0M1790 377h0M1793 304h0M1738 482h0M1780 466h0M1808 393h0M1792 452h0M1821 208h0M1775 359h0M1741 451h0M1760 397h0M1775 362h0M1761 377h0M1777 429h0M1798 339h0M1798 467h0M1799 395h0M1743 353h0M1745 405h0M1801 367h0M1788 285h0M1783 330h0M1768 682h0M1813 359h0M1769 320h0M1776 378h0M1761 397h0M1793 352h0M1797 172h0M1830 233h0M1795 246h0M1819 241h0M1770 403h0M1709 285h0M1755 312h0M1756 363h0M1763 446h0M1774 364h0M1778 447h0M1774 522h0M1790 341h0M1796 453h0M1745 497h0M1782 413h0M1793 390h0M1798 378h0M1784 518h0M1784 460h0M1774 349h0M1738 494h0M1789 363h0M1752 323h0M1794 417h0M1775 460h0M1763 365h0M1765 365h0M1745 426h0M1793 377h0M1776 273h0M1779 275h0M1797 230h0M1809 305h0M1769 385h0M1767 400h0M1788 462h0M1779 375h0M1798 379h0M1822 265h0M1765 488h0M1783 362h0M1790 208h0M1773 436h0M1775 347h0M1752 487h0M1769 369h0M1738 384h0M1776 354h0M1795 416h0M1764 366h0M1794 361h0M1740 486h0M1785 368h0M1816 302h0M1798 377h0M1771 396h0M1782 393h0M1788 489h0M1801 455h0M1812 296h0M1797 383h0M1797 248h0M1747 362h0M1765 403h0M1759 470h0M1745 401h0M1804 317h0M1774 351h0M1772 485h0M1773 256h0M1769 366h0M1809 332h0M1782 256h0M1766 409h0M1761 357h0M1798 451h0M1764 572h0M1826 263h0M1756 358h0M1782 342h0M1781 373h0M1744 462h0M1797 374h0M1775 479h0M1804 312h0M1803 517h0M1803 383h0M1780 463h0M1797 347h0M1774 507h0M1801 404h0M1791 357h0M1778 363h0M1763 352h0M1794 392h0M1772 401h0M1811 401h0M1773 415h0M1828 351h0M1765 395h0M1780 367h0M1775 459h0M1812 379h0M1737 308h0M1759 407h0M1750 529h0M1798 383h0M1777 459h0M1778 357h0M1784 330h0M1786 384h0M1748 477h0M1768 337h0M1778 349h0M1776 350h0M1790 347h0M1760 382h0M1790 406h0M1787 373h0M1780 367h0M1777 480h0M1789 323h0M1769 365h0M1771 513h0M1759 296h0M1777 377h0M1779 469h0M1799 303h0M1816 343h0M1789 282h0M1759 461h0M1745 475h0M1763 366h0M1771 555h0M1818 259h0M1805 313h0M1741 347h0M1799 329h0M1784 257h0M1757 346h0M1757 366h0M1789 381h0M1749 458h0M1805 375h0M1808 235h0M1785 336h0M1809 274h0M1809 229h0M1816 403h0M1784 440h0M1821 323h0M1752 500h0M1754 284h0M1745 215h0M1779 455h0M1763 391h0M1769 409h0M1763 448h0M1749 339h0M1757 396h0M1692 412h0M1798 343h0M1820 403h0M1730 422h0M1768 347h0M1787 403h0M1773 410h0M1782 443h0M1774 384h0M1744 452h0M1783 483h0M1805 262h0M1783 550h0M1767 289h0M1785 365h0M1750 381h0M1823 411h0M1743 403h0M1790 362h0M1770 473h0M1742 328h0M1806 238h0M1805 330h0M1807 356h0M1762 224h0M1792 386h0M1790 335h0M1780 317h0M1777 400h0M1783 296h0M1757 521h0M1764 297h0M1800 371h0M1810 402h0M1740 418h0M1811 335h0M1774 378h0M1747 449h0M1778 314h0M1768 288h0M1814 317h0M1807 436h0M1775 445h0M1797 422h0M1763 397h0M1784 445h0M1800 362h0M1744 368h0M1785 347h0M1780 365h0M1810 312h0M1791 511h0M1754 434h0M1763 365h0M1833 284h0M1762 386h0M1794 366h0M1776 412h0M1765 397h0M1813 296h0M1775 324h0M1797 374h0M1753 382h0M1755 516h0M1803 415h0M1786 373h0M1794 437h0M1806 285h0M1781 312h0M1789 350h0M1752 267h0M1771 461h0M1831 319h0M1825 311h0M1815 326h0M1777 331h0M1772 431h0M1784 390h0M1778 341h0M1762 352h0M1769 438h0M1826 345h0M1784 250h0M1760 353h0M1776 337h0M1811 368h0M1786 518h0M1798 402h0M1755 367h0M1757 374h0M1814 359h0M1782 389h0M1792 378h0M1793 383h0M1809 426h0M1788 490h0M1829 336h0M1777 331h0M1804 359h0M1750 462h0M1777 470h0M1738 446h0M1775 394h0M1783 335h0M1749 553h0M1772 368h0M1810 310h0M1731 373h0M1767 236h0M1827 260h0M1741 363h0M1787 383h0M1769 364h0M1786 451h0M1784 305h0M1738 427h0M1781 359h0M1814 380h0M1803 518h0M1771 427h0M1782 554h0M1787 355h0M1736 490h0M1779 404h0M1753 441h0M1749 562h0M1793 247h0M1784 437h0M1838 226h0M1832 236h0M1746 442h0M1784 426h0M1784 367h0M1774 307h0M1780 409h0M1756 693h0M1772 452h0M1773 272h0M1802 354h0M1755 419h0M1775 371h0M1763 431h0M1830 393h0M1757 362h0M1755 373h0M1780 373h0M1780 279h0M1809 341h0M1772 375h0M1809 380h0M1779 448h0M1783 418h0M1770 382h0M1786 370h0M1762 383h0M1770 358h0M1792 393h0M1757 407h0M1774 346h0M1768 365h0M1780 364h0M1771 391h0M1831 312h0M1781 305h0M1752 399h0M1761 424h0M1816 445h0M1791 337h0M1737 354h0M1753 383h0M1779 363h0M1770 511h0M1780 402h0M1772 338h0M1795 345h0M1778 391h0M1771 374h0M1794 372h0M1772 325h0M1761 395h0M1745 377h0M1769 467h0M1791 441h0M1760 428h0M1797 296h0M1748 429h0M1792 453h0M1803 369h0M1784 392h0M1809 334h0M1734 506h0M1788 321h0M1811 228h0M1780 433h0M1790 355h0M1777 357h0M1796 244h0M1800 440h0M1759 388h0M1777 371h0M1792 294h0M1773 366h0M1797 364h0M1791 330h0M1743 449h0M1766 485h0M1778 381h0M1810 416h0M1787 368h0M1805 330h0M1801 403h0M1800 260h0M1782 402h0M1761 455h0M1784 246h0M1773 468h0M1742 415h0M1755 530h0M1759 350h0M1773 367h0M1792 393h0M1817 379h0M1767 329h0M1758 421h0M1811 367h0M1770 462h0M1794 388h0M1706 315h0M1780 426h0M1798 381h0M1783 395h0M1802 236h0M1791 386h0M1754 436h0M1763 381h0M1779 298h0M1760 453h0M1789 387h0M1770 407h0M1767 413h0M1808 452h0M1775 425h0M1780 449h0M1755 364h0M1767 465h0M1812 299h0M1743 442h0M1790 434h0M1786 343h0M1785 406h0M1810 351h0M1786 302h0M1842 204h0M1789 377h0M1796 245h0M1773 449h0M1799 351h0M1812 289h0M1774 242h0M1749 421h0M1835 359h0M1753 506h0M1770 293h0M1787 363h0M1767 352h0M1799 406h0M1799 455h0M1767 390h0M1758 337h0M1796 229h0M1773 348h0M1748 645h0M1738 350h0M1777 482h0M1833 235h0M1826 379h0M1793 218h0M1762 399h0M1781 400h0M1774 354h0M1804 220h0M1795 242h0M1754 415h0M1781 353h0M1762 386h0M1825 436h0M1763 415h0M1782 352h0M1779 388h0M1777 312h0M1828 419h0M1794 343h0M1745 364h0M1812 311h0M1775 443h0M1788 372h0M1793 249h0M1774 319h0M1793 411h0M1771 392h0M1807 332h0M1760 411h0M1792 266h0M1789 421h0M1788 421h0M1767 480h0M1761 501h0M1790 452h0M1775 266h0M1763 364h0M1766 524h0" stroke="#4585bf" stroke-width="7" stroke-linecap="round" fill="none"/><path d="M1840 278h0M1833 375h0M1802 496h0M1756 642h0M1822 272h0M1832 328h0M1759 629h0M1751 548h0M1806 146h0M1738 471h0M1702 338h0M1742 624h0M1770 239h0M1733 460h0M1833 316h0M1759 268h0M1782 219h0M1829 303h0M1793 257h0M1813 419h0M1837 290h0M1813 447h0M1759 208h0M1734 459h0M1828 409h0M1732 415h0M1715 232h0M1810 439h0M1800 196h0M1797 509h0M1737 386h0M1783 526h0M1832 320h0M1756 554h0M1838 350h0M1767 545h0M1767 554h0M1762 607h0M1845 210h0M1828 273h0M1762 596h0M1832 240h0M1697 260h0M1768 591h0M1761 234h0M1791 517h0M1744 491h0M1786 225h0M1824 296h0M1730 357h0M1814 269h0M1802 473h0M1740 480h0M1828 280h0M1818 393h0M1783 246h0M1754 613h0M1776 553h0M1743 324h0M1772 540h0M1800 215h0M1733 373h0M1724 451h0M1842 285h0M1736 259h0M1728 391h0M1768 186h0M1794 494h0M1798 212h0M1800 475h0M1748 548h0M1818 426h0M1813 229h0M1733 229h0M1795 477h0M1780 540h0M1745 507h0M1819 423h0M1769 258h0M1790 231h0M1823 196h0M1833 390h0M1825 398h0M1749 307h0M1750 510h0M1837 299h0M1768 266h0M1838 330h0M1838 375h0M1780 607h0M1751 265h0M1763 557h0M1741 460h0M1746 540h0M1722 440h0M1816 221h0M1832 425h0M1808 121h0M1728 427h0M1823 414h0M1782 547h0M1778 220h0M1690 361h0M1771 529h0M1723 403h0M1786 182h0M1827 267h0M1727 366h0M1746 556h0M1812 246h0M1775 245h0M1760 588h0M1781 530h0M1777 258h0M1800 226h0M1766 249h0M1814 259h0M1765 583h0M1818 313h0M1824 444h0M1767 622h0M1819 309h0M1816 396h0M1738 237h0M1778 535h0M1768 523h0M1788 508h0M1823 188h0M1801 181h0M1820 250h0M1813 412h0M1738 546h0M1822 422h0M1745 533h0M1845 321h0M1843 323h0M1812 269h0M1843 361h0M1806 244h0M1829 309h0M1770 239h0M1803 253h0M1774 222h0M1742 308h0M1777 220h0M1841 231h0M1754 236h0M1795 461h0M1771 500h0M1742 461h0M1813 255h0M1754 530h0M1835 382h0M1765 531h0M1813 251h0M1736 338h0M1738 439h0M1757 276h0M1774 551h0M1844 294h0M1826 231h0M1838 265h0M1823 389h0M1816 209h0M1824 444h0M1813 218h0M1840 398h0M1813 240h0M1838 411h0M1738 316h0M1751 291h0M1816 200h0M1795 503h0M1826 351h0M1736 453h0M1737 323h0M1763 305h0M1826 208h0M1742 523h0M1720 426h0M1835 352h0M1802 496h0M1772 176h0M1825 194h0M1824 299h0M1790 470h0M1730 470h0M1749 298h0M1726 228h0M1810 465h0M1769 530h0M1835 366h0M1808 459h0M1734 445h0M1737 519h0M1785 238h0M1820 246h0M1732 348h0M1745 511h0M1824 323h0M1805 208h0M1754 292h0M1797 486h0M1745 533h0M1830 241h0M1787 230h0M1798 147h0M1690 443h0M1738 482h0M1821 208h0M1798 467h0M1768 682h0M1797 172h0M1830 233h0M1819 241h0M1709 285h0M1774 522h0M1745 497h0M1784 518h0M1738 494h0M1752 323h0M1790 208h0M1738 384h0M1764 572h0M1803 517h0M1737 308h0M1771 555h0M1754 284h0M1745 215h0M1692 412h0M1820 403h0M1730 422h0M1783 550h0M1823 411h0M1742 328h0M1762 224h0M1791 511h0M1833 284h0M1752 267h0M1831 319h0M1825 311h0M1784 250h0M1786 518h0M1731 373h0M1767 236h0M1827 260h0M1738 427h0M1803 518h0M1782 554h0M1736 490h0M1749 562h0M1838 226h0M1756 693h0M1830 393h0M1831 312h0M1816 445h0M1737 354h0M1734 506h0M1784 246h0M1755 530h0M1706 315h0M1808 452h0M1842 204h0M1835 359h0M1753 506h0M1748 645h0M1804 220h0M1825 436h0M1828 419h0M1766 524h0" stroke="#6c9fd0" stroke-width="8.2" stroke-linecap="round" fill="none"/><path d="M1840 278h0M1833 375h0M1802 496h0M1756 642h0M1822 272h0M1832 328h0M1759 629h0M1751 548h0M1806 146h0M1738 471h0M1702 338h0M1742 624h0M1770 239h0M1733 460h0M1833 316h0M1759 268h0M1782 219h0M1829 303h0M1793 257h0M1813 419h0M1837 290h0M1813 447h0M1759 208h0M1734 459h0M1828 409h0M1732 415h0M1715 232h0M1810 439h0M1800 196h0M1797 509h0M1737 386h0M1783 526h0M1832 320h0M1756 554h0M1838 350h0M1767 545h0M1767 554h0M1762 607h0M1845 210h0M1828 273h0M1762 596h0M1832 240h0M1697 260h0M1768 591h0M1761 234h0M1791 517h0M1744 491h0M1786 225h0M1824 296h0M1730 357h0M1814 269h0M1802 473h0M1740 480h0M1828 280h0M1818 393h0M1783 246h0M1754 613h0M1776 553h0M1743 324h0M1772 540h0M1800 215h0M1733 373h0M1724 451h0M1842 285h0M1736 259h0M1728 391h0M1768 186h0M1794 494h0M1798 212h0M1800 475h0M1748 548h0M1818 426h0M1813 229h0M1733 229h0M1795 477h0M1780 540h0M1745 507h0M1819 423h0M1769 258h0M1790 231h0M1823 196h0M1833 390h0M1825 398h0M1749 307h0M1750 510h0M1837 299h0M1768 266h0M1838 330h0M1838 375h0M1780 607h0M1751 265h0M1763 557h0M1741 460h0M1746 540h0M1722 440h0M1816 221h0M1832 425h0M1808 121h0M1728 427h0M1823 414h0M1782 547h0M1778 220h0M1690 361h0M1771 529h0M1723 403h0M1786 182h0M1827 267h0M1727 366h0M1746 556h0M1812 246h0M1775 245h0M1760 588h0M1781 530h0M1777 258h0M1800 226h0M1766 249h0M1814 259h0M1765 583h0M1818 313h0M1824 444h0M1767 622h0M1819 309h0M1816 396h0M1738 237h0M1778 535h0M1768 523h0M1788 508h0M1823 188h0M1801 181h0M1820 250h0M1813 412h0M1738 546h0M1822 422h0M1745 533h0M1845 321h0M1843 323h0M1812 269h0M1843 361h0M1806 244h0M1829 309h0M1770 239h0M1803 253h0M1774 222h0M1742 308h0M1777 220h0M1841 231h0M1754 236h0M1795 461h0M1771 500h0M1742 461h0M1813 255h0M1754 530h0M1835 382h0M1765 531h0M1813 251h0M1736 338h0M1738 439h0M1757 276h0M1774 551h0M1844 294h0M1826 231h0M1838 265h0M1823 389h0M1816 209h0M1824 444h0M1813 218h0M1840 398h0M1813 240h0M1838 411h0M1738 316h0M1751 291h0M1816 200h0M1795 503h0M1826 351h0M1736 453h0M1737 323h0M1763 305h0M1826 208h0M1742 523h0M1720 426h0M1835 352h0M1802 496h0M1772 176h0M1825 194h0M1824 299h0M1790 470h0M1730 470h0M1749 298h0M1726 228h0M1810 465h0M1769 530h0M1835 366h0M1808 459h0M1734 445h0M1737 519h0M1785 238h0M1820 246h0M1732 348h0M1745 511h0M1824 323h0M1805 208h0M1754 292h0M1797 486h0M1745 533h0M1830 241h0M1787 230h0M1798 147h0M1690 443h0M1738 482h0M1821 208h0M1798 467h0M1768 682h0M1797 172h0M1830 233h0M1819 241h0M1709 285h0M1774 522h0M1745 497h0M1784 518h0M1738 494h0M1752 323h0M1790 208h0M1738 384h0M1764 572h0M1803 517h0M1737 308h0M1771 555h0M1754 284h0M1745 215h0M1692 412h0M1820 403h0M1730 422h0M1783 550h0M1823 411h0M1742 328h0M1762 224h0M1791 511h0M1833 284h0M1752 267h0M1831 319h0M1825 311h0M1784 250h0M1786 518h0M1731 373h0M1767 236h0M1827 260h0M1738 427h0M1803 518h0M1782 554h0M1736 490h0M1749 562h0M1838 226h0M1756 693h0M1830 393h0M1831 312h0M1816 445h0M1737 354h0M1734 506h0M1784 246h0M1755 530h0M1706 315h0M1808 452h0M1842 204h0M1835 359h0M1753 506h0M1748 645h0M1804 220h0M1825 436h0M1828 419h0M1766 524h0" stroke="#4585bf" stroke-width="7" stroke-linecap="round" fill="none"/><path d="M1838.9 276.8h0M1816.9 301.8h0M1831.9 373.8h0M1800.9 494.8h0M1754.9 640.8h0M1820.9 270.8h0M1830.9 326.8h0M1757.9 627.8h0M1749.9 546.8h0M1804.9 144.8h0M1736.9 469.8h0M1700.9 336.8h0M1740.9 622.8h0M1768.9 237.8h0M1731.9 458.8h0M1829.9 383.8h0M1831.9 314.8h0M1757.9 266.8h0M1742.9 467.8h0M1780.9 217.8h0M1827.9 301.8h0M1791.9 255.8h0M1774.9 488.8h0M1736.9 441.8h0M1811.9 417.8h0M1835.9 288.8h0M1811.9 445.8h0M1757.9 206.8h0M1734.9 370.8h0M1732.9 457.8h0M1753.9 481.8h0M1826.9 407.8h0M1777.9 256.8h0M1730.9 413.8h0M1713.9 230.8h0M1808.9 437.8h0M1747.9 324.8h0M1798.9 194.8h0M1795.9 507.8h0M1739.9 470.8h0M1735.9 384.8h0M1781.9 524.8h0M1830.9 318.8h0M1754.9 552.8h0M1836.9 348.8h0M1765.9 543.8h0M1735.9 365.8h0M1765.9 552.8h0M1760.9 605.8h0M1843.9 208.8h0M1754.9 541.8h0M1826.9 271.8h0M1760.9 594.8h0M1768.9 250.8h0M1756.9 277.8h0M1830.9 238.8h0M1695.9 258.8h0M1766.9 589.8h0M1759.9 232.8h0M1761.9 285.8h0M1821.9 254.8h0M1786.9 469.8h0M1789.9 515.8h0M1742.9 489.8h0M1804.9 443.8h0M1761.9 514.8h0M1760.9 513.8h0M1784.9 223.8h0M1822.9 294.8h0M1728.9 355.8h0M1812.9 267.8h0M1800.9 471.8h0M1738.9 478.8h0M1826.9 278.8h0M1816.9 391.8h0M1774.9 263.8h0M1781.9 244.8h0M1752.9 611.8h0M1774.9 551.8h0M1741.9 322.8h0M1779.9 510.8h0M1736.9 351.8h0M1770.9 538.8h0M1805.9 272.8h0M1813.9 224.8h0M1798.9 213.8h0M1731.9 371.8h0M1722.9 449.8h0M1825.9 339.8h0M1840.9 283.8h0M1734.9 257.8h0M1726.9 389.8h0M1734.9 404.8h0M1731.9 409.8h0M1814.9 261.8h0M1766.9 184.8h0M1792.9 492.8h0M1789.9 216.8h0M1796.9 210.8h0M1738.9 338.8h0M1757.9 277.8h0M1798.9 473.8h0M1746.9 546.8h0M1816.9 424.8h0M1811.9 227.8h0M1826.9 331.8h0M1809.9 412.8h0M1731.9 227.8h0M1793.9 475.8h0M1759.9 295.8h0M1776.9 507.8h0M1778.9 538.8h0M1743.9 505.8h0M1749.9 521.8h0M1817.9 421.8h0M1767.9 256.8h0M1748.9 497.8h0M1788.9 229.8h0M1821.9 194.8h0M1831.9 388.8h0M1823.9 396.8h0M1762.9 541.8h0M1747.9 305.8h0M1748.9 508.8h0M1835.9 297.8h0M1766.9 264.8h0M1749.9 516.8h0M1836.9 328.8h0M1836.9 373.8h0M1821.9 286.8h0M1832.9 349.8h0M1778.9 605.8h0M1789.9 457.8h0M1749.9 263.8h0M1761.9 555.8h0M1811.9 385.8h0M1739.9 458.8h0M1744.9 538.8h0M1738.9 460.8h0M1809.9 427.8h0M1811.9 277.8h0M1720.9 438.8h0M1748.9 536.8h0M1814.9 219.8h0M1792.9 218.8h0M1830.9 423.8h0M1742.9 449.8h0M1806.9 119.8h0M1799.9 231.8h0M1736.9 359.8h0M1726.9 425.8h0M1821.9 412.8h0M1780.9 545.8h0M1776.9 218.8h0M1688.9 359.8h0M1823.9 292.8h0M1769.9 527.8h0M1804.9 227.8h0M1755.9 481.8h0M1721.9 401.8h0M1784.9 180.8h0M1787.9 238.8h0M1825.9 265.8h0M1725.9 364.8h0M1744.9 554.8h0M1810.9 244.8h0M1773.9 243.8h0M1758.9 586.8h0M1787.9 477.8h0M1779.9 528.8h0M1775.9 256.8h0M1802.9 387.8h0M1798.9 224.8h0M1764.9 247.8h0M1812.9 257.8h0M1769.9 244.8h0M1763.9 581.8h0M1816.9 311.8h0M1826.9 383.8h0M1822.9 442.8h0M1815.9 269.8h0M1765.9 620.8h0M1817.9 307.8h0M1814.9 394.8h0M1832.9 377.8h0M1736.9 235.8h0M1787.9 218.8h0M1742.9 422.8h0M1776.9 533.8h0M1819.9 327.8h0M1766.9 521.8h0M1786.9 506.8h0M1821.9 186.8h0M1746.9 327.8h0M1799.9 179.8h0M1818.9 248.8h0M1811.9 410.8h0M1736.9 544.8h0M1820.9 420.8h0M1822.9 371.8h0M1743.9 531.8h0M1843.9 319.8h0M1841.9 321.8h0M1810.9 267.8h0M1841.9 359.8h0M1804.9 242.8h0M1762.9 497.8h0M1827.9 307.8h0M1768.9 237.8h0M1801.9 251.8h0M1772.9 220.8h0M1740.9 306.8h0M1775.9 218.8h0M1753.9 549.8h0M1839.9 229.8h0M1763.9 277.8h0M1752.9 234.8h0M1793.9 459.8h0M1781.9 264.8h0M1769.9 498.8h0M1740.9 459.8h0M1791.9 476.8h0M1811.9 253.8h0M1769.9 496.8h0M1752.9 528.8h0M1833.9 380.8h0M1763.9 529.8h0M1812.9 317.8h0M1811.9 249.8h0M1761.9 514.8h0M1734.9 336.8h0M1736.9 437.8h0M1755.9 299.8h0M1755.9 274.8h0M1736.9 415.8h0M1772.9 549.8h0M1764.9 272.8h0M1842.9 292.8h0M1765.9 269.8h0M1811.9 276.8h0M1831.9 353.8h0M1824.9 229.8h0M1836.9 263.8h0M1821.9 387.8h0M1814.9 207.8h0M1822.9 442.8h0M1757.9 303.8h0M1811.9 216.8h0M1838.9 396.8h0M1811.9 238.8h0M1813.9 280.8h0M1779.9 514.8h0M1836.9 409.8h0M1793.9 231.8h0M1736.9 314.8h0M1749.9 289.8h0M1814.9 198.8h0M1820.9 252.8h0M1793.9 501.8h0M1824.9 349.8h0M1734.9 451.8h0M1735.9 321.8h0M1761.9 303.8h0M1824.9 206.8h0M1740.9 521.8h0M1718.9 424.8h0M1833.9 350.8h0M1800.9 494.8h0M1770.9 174.8h0M1792.9 235.8h0M1823.9 192.8h0M1822.9 297.8h0M1820.9 287.8h0M1788.9 468.8h0M1728.9 468.8h0M1747.9 296.8h0M1724.9 226.8h0M1808.9 463.8h0M1767.9 528.8h0M1760.9 286.8h0M1833.9 364.8h0M1806.9 457.8h0M1732.9 443.8h0M1735.9 517.8h0M1770.9 293.8h0M1783.9 236.8h0M1818.9 244.8h0M1730.9 346.8h0M1802.9 240.8h0M1743.9 509.8h0M1822.9 321.8h0M1803.9 206.8h0M1752.9 290.8h0M1795.9 484.8h0M1750.9 304.8h0M1743.9 531.8h0M1828.9 239.8h0M1785.9 228.8h0M1824.9 358.8h0M1796.9 145.8h0M1688.9 441.8h0M1736.9 480.8h0M1806.9 391.8h0M1819.9 206.8h0M1796.9 465.8h0M1766.9 680.8h0M1795.9 170.8h0M1828.9 231.8h0M1817.9 239.8h0M1707.9 283.8h0M1772.9 520.8h0M1743.9 495.8h0M1782.9 516.8h0M1736.9 492.8h0M1750.9 321.8h0M1795.9 228.8h0M1820.9 263.8h0M1788.9 206.8h0M1736.9 382.8h0M1738.9 484.8h0M1814.9 300.8h0M1799.9 453.8h0M1771.9 254.8h0M1780.9 254.8h0M1762.9 570.8h0M1824.9 261.8h0M1801.9 515.8h0M1826.9 349.8h0M1735.9 306.8h0M1769.9 511.8h0M1757.9 294.8h0M1743.9 473.8h0M1769.9 553.8h0M1806.9 233.8h0M1807.9 227.8h0M1819.9 321.8h0M1750.9 498.8h0M1752.9 282.8h0M1743.9 213.8h0M1690.9 410.8h0M1818.9 401.8h0M1728.9 420.8h0M1742.9 450.8h0M1781.9 548.8h0M1765.9 287.8h0M1821.9 409.8h0M1740.9 326.8h0M1804.9 236.8h0M1760.9 222.8h0M1762.9 295.8h0M1738.9 416.8h0M1745.9 447.8h0M1805.9 434.8h0M1789.9 509.8h0M1831.9 282.8h0M1753.9 514.8h0M1750.9 265.8h0M1829.9 317.8h0M1823.9 309.8h0M1824.9 343.8h0M1782.9 248.8h0M1784.9 516.8h0M1807.9 424.8h0M1827.9 334.8h0M1747.9 551.8h0M1729.9 371.8h0M1765.9 234.8h0M1825.9 258.8h0M1736.9 425.8h0M1801.9 516.8h0M1780.9 552.8h0M1734.9 488.8h0M1747.9 560.8h0M1836.9 224.8h0M1830.9 234.8h0M1754.9 691.8h0M1828.9 391.8h0M1829.9 310.8h0M1814.9 443.8h0M1735.9 352.8h0M1768.9 509.8h0M1732.9 504.8h0M1809.9 226.8h0M1741.9 447.8h0M1808.9 414.8h0M1782.9 244.8h0M1753.9 528.8h0M1704.9 313.8h0M1800.9 234.8h0M1806.9 450.8h0M1840.9 202.8h0M1772.9 240.8h0M1833.9 357.8h0M1751.9 504.8h0M1768.9 291.8h0M1794.9 227.8h0M1746.9 643.8h0M1831.9 233.8h0M1824.9 377.8h0M1791.9 216.8h0M1802.9 218.8h0M1823.9 434.8h0M1826.9 417.8h0M1773.9 264.8h0M1764.9 522.8h0" stroke="#d7e6f4" stroke-width="2.5" stroke-linecap="round" fill="none" opacity=".9"/><path d="M1749.4 431.9L1827.1 315.9" stroke="#000" stroke-width="5.2" fill="none"/><path d="M1321.2 76.5L1344 740.7L1699 858.2L1890.9 664.1" stroke="#000" stroke-width="2.2" fill="none" stroke-linejoin="round"/><path d="M1326.2 222.6h-5M1335.5 493.6h-5M1344 740.7h-5M1321.2 76.5h-4M1330.9 358.8h-3M1339.9 621.1h-3M1398.3 758.7l-1 4M1634.4 836.8l-1 4M1755.3 803.4l-3.4 -2.6M1806.1 752l-3.4 -2.6M1852.4 705.2l-3.4 -2.6M1890.9 664.1l5 -1.5M1699 858.2l4.5 -2" stroke="#000" stroke-width="1.6" fill="none"/><g font-size="25" fill="#000" text-anchor="end"><text x="1305.5" y="237.5">4.0</text><text x="1305.5" y="503.2">3.6</text><text x="1305.5" y="752.3">3.2</text></g><text transform="translate(1246 475.5) rotate(-90)" font-size="31" text-anchor="middle" fill="#000">W-O-W bond length (nm)</text><text x="1389.5" y="520.3" font-size="30.4" fill="#000">r = 0.07</text><text x="1654.8" y="613.4" font-size="30.4" fill="#000">r = 0.10</text><text transform="translate(1381 786.5) rotate(14)" font-size="26.5" font-style="italic" text-anchor="middle" fill="#000" dy="9">{200}</text><text transform="translate(1618 861.5) rotate(14)" font-size="26.5" font-style="italic" text-anchor="middle" fill="#000" dy="9">{020}</text><text transform="translate(1722.3 876.6) rotate(-40)" font-size="26.5" text-anchor="middle" fill="#000" dy="9.3">0</text><text transform="translate(1824.1 770.7) rotate(-40)" font-size="26.5" text-anchor="middle" fill="#000" dy="9.3">0.05</text><text transform="translate(1910 678.4) rotate(-40)" font-size="26.5" text-anchor="middle" fill="#000" dy="9.3">0.1</text><text transform="translate(1745.5 940) rotate(-45.6)" font-size="30.2" fill="#000">Intensity of intercalation</text><text transform="translate(1878.2 842.3) rotate(-45.6)" font-size="30.2" text-anchor="middle" fill="#000" dy="10">sites</text>
<polygon points="576.4,1035 751,989 933,1041 930,1114 762,1194 588,1104.5" fill="#0b0a58" stroke="#0b0a58" stroke-width="2" stroke-linejoin="round"/><polygon points="576.4,1035 751,989 933,1041 761,1108" fill="#0c0b60"/><polygon points="576.4,1035 761,1108 762,1194 588,1104.5" fill="url(#hs)" opacity=".9"/><polygon points="761,1108 933,1041 930,1114 762,1194" fill="url(#hs)" opacity=".9"/><polygon points="790,1110 912,1063 911,1114 791,1163" fill="#4f9fe3" stroke="#4f9fe3" stroke-width="2" stroke-linejoin="round"/><path d="M790.1 1116.6L911.9 1069.4M790.2 1123.2L911.8 1075.8M790.4 1129.9L911.6 1082.1M790.5 1136.5L911.5 1088.5M790.6 1143.1L911.4 1094.9M790.8 1149.8L911.2 1101.2M790.9 1156.4L911.1 1107.6" stroke="#2f78c4" stroke-width="2.2" fill="none" opacity=".8"/><path d="M790 1110L912 1063" stroke="#7cc0f4" stroke-width="2.5" fill="none"/><polygon points="827,1111 889,1089 889,1116 828,1141" fill="#f3c255" stroke="#f3c255" stroke-width="2" stroke-linejoin="round"/><path d="M827.2 1117L889 1094.4M827.4 1123L889 1099.8M827.6 1129L889 1105.2M827.8 1135L889 1110.6" stroke="#c9962f" stroke-width="1.8" fill="none" opacity=".8"/><path d="M864 1064V1112" stroke="#f2281e" stroke-width="2.4" stroke-dasharray="10 4" fill="none"/><path d="M858.5 1111L864 1124.5L869.5 1111L864 1114Z" fill="#f2281e"/><text x="723" y="1064" font-size="40" fill="#fff">(002)</text><text x="630" y="1131" font-size="40" fill="#fff">(020)</text><polygon points="852.6,1171.1 984.7,1105.8 1039.4,1124 1034.8,1181.7 910.3,1267.5 853.4,1237.9" fill="#0b0a58" stroke="#0b0a58" stroke-width="2" stroke-linejoin="round"/><polygon points="852.6,1171.1 984.7,1105.8 1039.4,1124 906.5,1200" fill="#0d0c62"/><path d="M990.2 1107.6L858 1174L859.1 1240.9M995.6 1109.4L863.4 1176.9L864.8 1243.8M1001.1 1111.3L868.8 1179.8L870.5 1246.8M1006.6 1113.1L874.2 1182.7L876.2 1249.7M1012.1 1114.9L879.5 1185.5L881.8 1252.7M1017.5 1116.7L884.9 1188.4L887.5 1255.7M1023 1118.5L890.3 1191.3L893.2 1258.6M1028.5 1120.4L895.7 1194.2L898.9 1261.6M1033.9 1122.2L901.1 1197.1L904.6 1264.5" stroke="#07063f" stroke-width="1.6" fill="none" opacity=".85"/><polygon points="906.5,1200 1039.4,1124 1034.8,1181.7 910.3,1267.5" fill="#0a0954"/><path d="M974.1 1250.8C1002.2 1254.6 1035.6 1247 1057.1 1227.7L1050.8 1222.7L1086.4 1213.6L1072 1252.3L1066.2 1244.4C1044.7 1260.7 1006.7 1263.7 974.1 1250.8Z" fill="#7f7f7f"/><circle cx="635.5" cy="1305" r="13" fill="url(#lW)"/><circle cx="711.8" cy="1305" r="9.4" fill="url(#lO)"/><circle cx="779" cy="1305" r="11.2" fill="url(#lK)"/><g font-size="26" fill="#000"><text x="657.3" y="1314">W</text><text x="732.3" y="1314">O</text><text x="802.3" y="1314">K</text></g><text x="1082.8" y="984.8" font-size="35.3" fill="#000">[001]</text><path d="M1122.1 998.7v26.6M1122.1 1045.1v26.6M1122.1 1091.5v26.6M1122.1 1137.9v26.6M1122.1 1184.3v26.6M1122.1 1230.7v26.6M1122.1 1277.1v26.6M1122.1 1323.5V1346" stroke="#fb1d12" stroke-width="6.4" fill="none"/><path d="M1112.2 1342.5L1122.1 1362L1132 1342.5L1122.1 1346.5Z" fill="#fb1d12"/><g filter="url(#gb)" fill="#0b0a5a"><rect x="1148.5" y="1006" width="821.5" height="46.5" rx="22"/><rect x="1196.1" y="960" width="46.4" height="137.5" rx="22"/><circle cx="1195.8" cy="1005.7" r="5"/><circle cx="1195.8" cy="1052.7" r="5"/><circle cx="1242.8" cy="1005.7" r="5"/><circle cx="1242.8" cy="1052.7" r="5"/><rect x="1286.8" y="960" width="46.4" height="137.5" rx="22"/><circle cx="1286.5" cy="1005.7" r="5"/><circle cx="1286.5" cy="1052.7" r="5"/><circle cx="1333.5" cy="1005.7" r="5"/><circle cx="1333.5" cy="1052.7" r="5"/><rect x="1377.4" y="960" width="46.4" height="137.5" rx="22"/><circle cx="1377.1" cy="1005.7" r="5"/><circle cx="1377.1" cy="1052.7" r="5"/><circle cx="1424.1" cy="1005.7" r="5"/><circle cx="1424.1" cy="1052.7" r="5"/><rect x="1468" y="960" width="46.4" height="137.5" rx="22"/><circle cx="1467.8" cy="1005.7" r="5"/><circle cx="1467.8" cy="1052.7" r="5"/><circle cx="1514.8" cy="1005.7" r="5"/><circle cx="1514.8" cy="1052.7" r="5"/><rect x="1558.7" y="960" width="46.4" height="137.5" rx="22"/><circle cx="1558.4" cy="1005.7" r="5"/><circle cx="1558.4" cy="1052.7" r="5"/><circle cx="1605.4" cy="1005.7" r="5"/><circle cx="1605.4" cy="1052.7" r="5"/><rect x="1649.3" y="960" width="46.4" height="137.5" rx="22"/><circle cx="1649" cy="1005.7" r="5"/><circle cx="1649" cy="1052.7" r="5"/><circle cx="1696" cy="1005.7" r="5"/><circle cx="1696" cy="1052.7" r="5"/><rect x="1740" y="960" width="46.4" height="137.5" rx="22"/><circle cx="1739.7" cy="1005.7" r="5"/><circle cx="1739.7" cy="1052.7" r="5"/><circle cx="1786.7" cy="1005.7" r="5"/><circle cx="1786.7" cy="1052.7" r="5"/><rect x="1830.6" y="960" width="46.4" height="137.5" rx="22"/><circle cx="1830.3" cy="1005.7" r="5"/><circle cx="1830.3" cy="1052.7" r="5"/><circle cx="1877.3" cy="1005.7" r="5"/><circle cx="1877.3" cy="1052.7" r="5"/><rect x="1921.3" y="960" width="46.4" height="137.5" rx="22"/><circle cx="1921" cy="1005.7" r="5"/><circle cx="1921" cy="1052.7" r="5"/></g><g filter="url(#gb2)"><circle cx="1217" cy="1122.3" r="25.5" fill="url(#bg1)"/><circle cx="1307.2" cy="1131" r="25.5" fill="url(#bg1)"/><circle cx="1397.4" cy="1122.3" r="25.5" fill="url(#bg1)"/><circle cx="1487.6" cy="1131" r="25.5" fill="url(#bg1)"/><circle cx="1577.8" cy="1122.3" r="25.5" fill="url(#bg1)"/><circle cx="1668" cy="1131" r="25.5" fill="url(#bg1)"/><circle cx="1758.2" cy="1122.3" r="25.5" fill="url(#bg1)"/><circle cx="1848.4" cy="1131" r="25.5" fill="url(#bg1)"/><circle cx="1938.6" cy="1122.3" r="25.5" fill="url(#bg1)"/><circle cx="1170.8" cy="1124.8" r="20.5" fill="url(#bg1)"/><circle cx="1261" cy="1124.8" r="20.5" fill="url(#bg1)"/><circle cx="1351.2" cy="1124.8" r="20.5" fill="url(#bg1)"/><circle cx="1441.4" cy="1124.8" r="20.5" fill="url(#bg1)"/><circle cx="1531.6" cy="1124.8" r="20.5" fill="url(#bg1)"/><circle cx="1621.8" cy="1124.8" r="20.5" fill="url(#bg1)"/><circle cx="1712" cy="1124.8" r="20.5" fill="url(#bg1)"/><circle cx="1802.2" cy="1124.8" r="20.5" fill="url(#bg1)"/><circle cx="1892.4" cy="1124.8" r="20.5" fill="url(#bg1)"/><circle cx="1975.4" cy="1124.8" r="8.5" fill="url(#bg1)" opacity=".7"/><circle cx="1215.9" cy="1171" r="21.5" fill="url(#bg1)"/><circle cx="1304.6" cy="1171" r="21.5" fill="url(#bg1)"/><circle cx="1396.3" cy="1171" r="21.5" fill="url(#bg1)"/><circle cx="1485.4" cy="1171" r="21.5" fill="url(#bg1)"/><circle cx="1576.7" cy="1171" r="21.5" fill="url(#bg1)"/><circle cx="1665.6" cy="1171" r="21.5" fill="url(#bg1)"/><circle cx="1756.9" cy="1171" r="21.5" fill="url(#bg1)"/><circle cx="1846" cy="1171" r="21.5" fill="url(#bg1)"/><circle cx="1937.3" cy="1171" r="21.5" fill="url(#bg1)"/></g><g fill="#fff3d6" stroke="#f2a324" stroke-width="2.1" stroke-linejoin="round"><polygon points="1235.6,1222.3 1231.3,1231.3 1229.9,1230.7 1221.9,1235.1 1221.6,1236.6 1211.7,1235.3 1211.9,1233.5 1205.4,1227.3 1203.5,1227.8 1201.7,1217.8 1202.9,1217.4 1207,1208.9 1206.3,1207.5 1215.4,1202.6 1216.2,1204.1 1225.4,1205.3 1226.4,1204.5 1233.7,1211.4 1232.8,1212.5 1234.4,1221.6"/><polygon points="1321.4,1235.2 1316.9,1244.2 1315.3,1243.4 1307.3,1247.5 1307,1249.2 1297.1,1247.6 1297.1,1246.5 1290.5,1239.8 1288.9,1240 1287.3,1229.8 1288.9,1229.5 1293.2,1221.2 1292.5,1219.7 1301.7,1215 1302.5,1217 1311.5,1218.4 1312.7,1217.2 1319.8,1224.3 1318.8,1225.4 1320.3,1234.5"/><polygon points="1406.3,1227.6 1399.1,1235.1 1397.9,1234 1388.7,1235.7 1388,1236.6 1379,1232.3 1379.5,1231.1 1375,1222.9 1373.3,1222.7 1374.6,1212.6 1376.4,1212.8 1382.8,1206.1 1382.6,1204.7 1392.4,1202.9 1392.8,1204.3 1401.1,1208.2 1402.4,1207.7 1407.1,1216.4 1406.3,1217.1 1405.1,1226.5"/><polygon points="1491.2,1241.3 1483.6,1248.1 1482.4,1246.6 1473.3,1247.5 1472.3,1249.5 1463.4,1244.2 1464.4,1242.6 1460.7,1234.1 1458.8,1233.8 1461,1223.7 1462.7,1224 1469.7,1217.8 1469.6,1216.4 1479.8,1215.3 1479.9,1217.1 1487.8,1221.7 1489.5,1220.9 1493.6,1230.3 1491.9,1231 1490,1240"/><polygon points="1579.3,1221.5 1575.3,1230.8 1574.1,1230.4 1566.1,1235.3 1565.8,1236.4 1555.9,1235.5 1556,1233.8 1549.2,1227.9 1547.2,1228.6 1544.8,1218.6 1546.8,1218.2 1550.3,1209.8 1549.3,1208.2 1558,1203 1558.9,1204.5 1568.1,1205.3 1569.1,1204.1 1576.8,1210.7 1576.1,1211.7 1578.3,1220.9"/><polygon points="1665.2,1234.4 1661,1243.7 1659.4,1242.9 1651.5,1247.4 1651.4,1249.4 1641.2,1248.3 1641.5,1246.4 1634.7,1240.2 1633,1240.6 1630.9,1230.7 1632.3,1230.4 1636.1,1221.8 1635.5,1220.6 1644.3,1215.6 1645.1,1216.8 1654.3,1217.8 1655.5,1216.3 1663.2,1223.3 1661.5,1224.9 1663.4,1233.7"/><polygon points="1751,1220.5 1747.6,1229.9 1746.4,1229.6 1738.7,1235 1738.6,1236.5 1728.4,1236.3 1728.5,1234.3 1721.3,1228.8 1719.6,1229.3 1716.7,1219.7 1718.5,1219.2 1721.5,1210.6 1720.3,1209.1 1728.7,1203.3 1729.7,1205 1738.7,1205.3 1739.9,1203.4 1748.1,1209.6 1747.2,1210.9 1749.9,1219.9"/><polygon points="1834.2,1242.2 1826.1,1248.6 1825.1,1247.4 1815.7,1247.9 1815,1248.5 1806.7,1243 1807.4,1241.8 1804.2,1233.2 1802.1,1232.8 1804.9,1222.8 1806.6,1223.3 1813.9,1217.5 1814,1216.1 1824.1,1215.6 1824.3,1216.9 1832.2,1222.1 1833.5,1221.7 1837.1,1231.3 1835.7,1231.8 1833.2,1240.9"/><polygon points="1922.4,1222.9 1917.7,1231.8 1916.4,1231.2 1908.1,1235.3 1907.8,1236.7 1897.9,1235 1898.1,1233.5 1891.7,1226.9 1889.6,1227.4 1888.1,1217.1 1890.3,1216.9 1894.5,1208.8 1894,1207.5 1902.9,1203.1 1903.6,1204.6 1912.5,1206.1 1913.7,1204.8 1920.7,1212 1920,1213 1921.3,1222.2"/><polygon points="1235.5,1310.2 1230.4,1318.9 1228.9,1317.9 1220.6,1321.6 1220.3,1323.9 1210.2,1321.7 1210.7,1319.7 1204.6,1312.8 1203.1,1313 1202.1,1303 1203.8,1302.8 1208.4,1295 1207.7,1293.5 1216.8,1289.5 1217.5,1290.9 1226.3,1292.8 1227.8,1291.4 1234.6,1299 1233,1300.3 1233.9,1309.3"/><polygon points="1321.9,1318.6 1318.7,1328.3 1317,1327.6 1309.5,1332.9 1309.7,1335.2 1299.3,1335.1 1299.5,1332.7 1292.2,1327.3 1290.4,1328 1287.3,1318.3 1288.7,1317.8 1291.7,1308.9 1291,1307.7 1299.2,1301.8 1300.1,1302.8 1309.5,1302.9 1310.4,1301.9 1318.6,1308 1317.4,1309.4 1320.1,1318.1"/><polygon points="1406.9,1310.6 1401.6,1319.1 1400.4,1318.4 1391.9,1321.9 1391.5,1323.4 1381.7,1321 1381.8,1319.8 1375.8,1312.6 1374.1,1312.7 1373.4,1302.4 1375.3,1302.3 1380.2,1294.5 1379.8,1293.2 1389,1289.4 1389.6,1290.8 1398.5,1293 1399.8,1291.9 1406.2,1299.6 1404.9,1300.7 1405.6,1309.8"/><polygon points="1493.8,1320.8 1489.3,1330.1 1487.4,1329 1479.4,1333.3 1479.2,1334.9 1469.3,1333.6 1469.2,1332.6 1462.4,1326.1 1461,1326.3 1459.1,1316.2 1460.4,1315.9 1464.5,1307.3 1464,1306.2 1472.9,1301.3 1473.7,1302.4 1483,1303.6 1484.1,1302.6 1491.5,1309.6 1490.5,1310.8 1492.2,1320"/><polygon points="1577.6,1314.1 1570.6,1321.4 1569.2,1320 1560.3,1321.6 1559.6,1323.2 1550.6,1318.8 1550.9,1317.7 1546.5,1309.3 1544.8,1309.1 1546.2,1298.9 1547.9,1299.1 1554.4,1292.3 1554.4,1291 1564.3,1289.3 1564.6,1290.7 1573,1294.7 1574.6,1293.9 1579.4,1303 1577.8,1303.8 1576.5,1313"/><polygon points="1663.2,1326.7 1655.8,1333.7 1654.7,1332.6 1645.4,1333.8 1644.6,1335.3 1635.6,1330.4 1636.6,1328.7 1632.7,1320.5 1630.5,1320.2 1632.4,1310 1634,1310.3 1640.9,1303.8 1641,1302.8 1650.9,1301.5 1651.2,1302.4 1659.5,1306.9 1661,1306.2 1665.5,1315.6 1663.8,1316.4 1662.1,1325.5"/><polygon points="1751.5,1306.8 1748.2,1316.6 1746.1,1315.7 1738.7,1320.9 1738.9,1323.3 1728.5,1323.1 1728.6,1321.2 1721.1,1315.7 1719.9,1315.9 1717,1306.4 1718.5,1305.9 1721.4,1297.3 1720.1,1295.7 1728.5,1289.8 1729.5,1291.2 1738.7,1291.3 1739.8,1289.8 1748,1296 1747.1,1297.2 1749.9,1306.2"/><polygon points="1836.5,1320.5 1832.3,1329.5 1831.3,1329.3 1823.1,1333.9 1822.7,1334.8 1812.9,1333.6 1812.8,1332.6 1805.9,1326.2 1804.8,1326.2 1802.9,1316.4 1804,1316 1807.9,1307.5 1807.1,1306.1 1816.1,1301.1 1816.9,1302.4 1826.3,1303.6 1827.3,1302.6 1834.8,1309.5 1833.9,1310.7 1835.7,1319.9"/><polygon points="1922.9,1308.5 1918.7,1317.8 1916.9,1317 1909,1321.5 1908.9,1323.6 1898.6,1322.5 1898.8,1320.7 1891.9,1314.4 1890.5,1314.6 1888.4,1304.7 1890,1304.3 1893.8,1295.9 1893.3,1294.7 1901.9,1289.8 1902.7,1291.2 1911.7,1292.2 1913,1290.6 1920.6,1297.5 1919.4,1298.8 1921.2,1307.8"/><polygon points="1184.4,1238.2 1179.7,1242.4 1178.6,1240.7 1173.5,1241.2 1172.8,1242.9 1167.4,1239.8 1168.2,1238.7 1165.9,1233.7 1164.5,1233.5 1165.9,1227.3 1167.7,1228.1 1171.6,1224.7 1170.9,1222.5 1177.4,1221.8 1177.3,1223.5 1182.1,1226.3 1183,1225.8 1185.5,1231.4 1184.3,1231.8 1183.2,1237.1"/><polygon points="1271.7,1219 1268.4,1224.5 1266.8,1223.2 1262,1225.3 1261.8,1226.9 1255.8,1225.5 1256.3,1224.1 1252.8,1220.1 1250.8,1220.6 1250.2,1214.1 1252.5,1214.3 1255.2,1209.9 1254.3,1208.5 1259.9,1206.1 1260.4,1207.2 1265.6,1208.4 1266.8,1207 1271.1,1211.9 1269.5,1212.9 1270,1218.3"/><polygon points="1357.5,1235.6 1354,1241 1352.7,1239.9 1347.6,1241.9 1347.3,1242.9 1341.4,1241.4 1341.7,1240.4 1338.2,1236.2 1337.1,1236.2 1336.7,1230.1 1338.3,1230.2 1341.1,1225.8 1340.1,1224 1346.1,1221.7 1346.5,1223.6 1351.7,1224.9 1353,1223.5 1357,1228.5 1355.2,1229.5 1355.5,1234.7"/><polygon points="1441.7,1221.9 1437.1,1225.9 1436.1,1224.5 1431,1225 1430.3,1226.8 1424.8,1223.6 1425.9,1222.2 1423.8,1217.4 1422,1217.2 1423.4,1211.1 1424.7,1211.5 1428.9,1207.8 1428.6,1206.4 1434.9,1205.8 1434.8,1207.9 1439.2,1210.5 1440.8,1209.5 1443.2,1215.2 1441.9,1215.7 1440.7,1220.9"/><polygon points="1529,1235.9 1525.3,1241.1 1524,1239.9 1519,1241.7 1518.7,1243 1512.8,1241.2 1513.4,1239.8 1510.3,1235.7 1508.2,1236.1 1508,1229.6 1510,1229.9 1513,1225.5 1512.1,1223.8 1518.2,1221.7 1518.5,1223.1 1523.9,1224.7 1524.9,1223.8 1528.7,1228.9 1527.4,1229.7 1527.5,1235.1"/><polygon points="1614.2,1220.3 1610.3,1225.2 1609.5,1224.4 1604.1,1225.8 1603.7,1227 1597.9,1224.8 1598.4,1223.6 1595.4,1219 1594.2,1219 1594.6,1212.8 1595.7,1212.9 1599.2,1208.6 1598.6,1207.1 1604.9,1205.5 1605.1,1207.2 1610.1,1209.2 1611.3,1208.2 1614.7,1213.5 1613,1214.3 1612.7,1219.4"/><polygon points="1699.7,1237.5 1695.3,1241.9 1694.4,1240.9 1689,1241.7 1688.5,1242.9 1683.1,1240.1 1684,1238.7 1681.7,1234.1 1680,1234.1 1680.9,1228 1682,1228.2 1685.9,1224.4 1685.7,1223.2 1691.7,1222.3 1691.9,1223.3 1696.8,1225.8 1697.9,1225.2 1700.7,1230.8 1699.4,1231.3 1698.5,1236.6"/><polygon points="1786.7,1218.8 1783.5,1224.3 1782,1223 1777.2,1225.1 1777.1,1227 1771,1225.7 1771.3,1224.5 1767.6,1220.4 1766.6,1220.5 1765.9,1214.4 1767.1,1214.4 1769.8,1209.7 1769.2,1208.5 1774.8,1205.9 1775.3,1207.5 1780.5,1208.6 1781.4,1207.5 1785.5,1212 1784.2,1212.9 1784.7,1218"/><polygon points="1871.1,1238.8 1866,1242.8 1865.2,1241.4 1859.7,1241.6 1859,1243.1 1853.6,1239.6 1854.5,1238.4 1852.6,1233.2 1851.6,1232.9 1853.2,1227 1854.4,1227.5 1858.6,1224.1 1858.4,1222.5 1864.7,1222.2 1864.6,1223.8 1869.1,1226.8 1870.7,1225.8 1873,1231.9 1871.3,1232.3 1869.9,1237.6"/><polygon points="1956.4,1222.3 1951.6,1226.1 1950.9,1225.1 1945.5,1225.3 1944.7,1226.8 1939.4,1223.2 1940.4,1222 1938.6,1216.9 1937.1,1216.6 1938.8,1210.5 1940.2,1211 1944.5,1207.7 1944.4,1206.4 1950.6,1206.2 1950.6,1207.4 1955.2,1210.5 1956.3,1210 1958.5,1215.9 1957,1216.2 1955.5,1221.4"/><polygon points="1232.8,1272.8 1227.9,1277 1226.9,1275.3 1221.7,1275.7 1221,1277.2 1215.7,1273.9 1216.7,1272.7 1214.7,1267.9 1212.8,1267.7 1214.3,1261.5 1215.6,1261.9 1219.8,1258.3 1219.5,1256.8 1226,1256.2 1225.8,1258.3 1230.4,1261 1231.8,1260.2 1234.2,1266 1232.9,1266.4 1231.7,1271.7"/><polygon points="1306.4,1271.5 1303.5,1277 1301.9,1275.9 1297.4,1278.2 1297.3,1280 1291.3,1279 1291.6,1277.6 1287.8,1273.8 1286.1,1274.3 1285.2,1268 1286.9,1268 1289.3,1263.2 1288.6,1262 1294.1,1259.2 1294.6,1260.2 1300.1,1261.1 1301,1260.1 1305.5,1264.6 1303.8,1265.8 1304.6,1270.9"/><polygon points="1406.2,1267.5 1404,1273.6 1402.5,1272.9 1397.9,1276.1 1398.1,1277.6 1391.6,1277.5 1391.9,1275.6 1387.6,1272.3 1386.3,1272.8 1384.6,1266.9 1386.3,1266.6 1388.1,1261.8 1386.9,1260.5 1392,1257 1392.7,1258.4 1397.9,1258.6 1399,1256.7 1404.1,1260.6 1402.9,1261.8 1404.5,1267.1"/><polygon points="1476.7,1274.5 1472.4,1278.8 1471.4,1277.6 1466.2,1278.4 1465.7,1280 1460.2,1277.2 1460.7,1276.2 1458.2,1271.2 1457.2,1271.1 1458.1,1265 1459.3,1265.2 1463.1,1261.3 1462.7,1259.9 1469,1258.9 1469.1,1260.6 1473.9,1263 1475.5,1261.9 1478.4,1267.7 1476.3,1268.4 1475.5,1273.5"/><polygon points="1577.5,1270.4 1573.9,1275.3 1572.6,1274.2 1567.7,1275.8 1567.4,1277.3 1561.7,1275.5 1562.2,1274.2 1559.1,1269.9 1557.7,1270.1 1557.7,1263.9 1559.3,1264.2 1562.3,1260 1561.2,1257.9 1567.4,1255.9 1567.7,1258.1 1572.7,1259.7 1574.2,1258.2 1578,1263.4 1576.5,1264.3 1576.5,1269.7"/><polygon points="1649.2,1274.4 1644.8,1279 1643.9,1278 1638.4,1279 1637.9,1280.5 1632.1,1277.7 1633,1276.2 1630.4,1271.4 1628.9,1271.4 1629.7,1265.1 1631.2,1265.5 1634.9,1261.5 1634.4,1260 1640.7,1258.8 1640.8,1260.6 1645.7,1262.9 1647,1261.9 1650,1267.5 1648.2,1268.1 1647.5,1273.3"/><polygon points="1748.8,1272.8 1744.2,1277.1 1743.1,1275.4 1738,1276 1737.4,1277.6 1732,1274.6 1732.6,1273.6 1730.3,1268.6 1729.1,1268.4 1730.4,1262.4 1731.8,1262.8 1735.7,1259.3 1735.3,1257.5 1741.6,1256.7 1741.6,1258.2 1746.4,1260.9 1747.5,1260.4 1750.1,1266 1748.6,1266.5 1747.5,1271.7"/><polygon points="1821.6,1272.3 1818.3,1277.4 1817.5,1276.9 1812.3,1279 1812.1,1279.9 1806.2,1278.4 1806.4,1277.5 1802.9,1273.2 1801.9,1273.3 1801.5,1267.2 1803.1,1267.3 1805.9,1262.9 1804.7,1261 1810.7,1258.7 1811.1,1260.3 1816.5,1261.6 1817.3,1260.8 1821.3,1265.6 1820.1,1266.4 1820.5,1271.7"/><polygon points="1922,1269.9 1918.4,1275.2 1916.9,1273.8 1912,1275.5 1911.8,1277.7 1905.6,1275.9 1906.1,1274.5 1902.7,1270 1901.3,1270.2 1901.1,1263.8 1902.6,1263.9 1905.7,1259.3 1905,1257.9 1911.1,1255.7 1911.5,1257.7 1916.6,1259.2 1917.9,1257.7 1921.9,1262.8 1920.5,1263.7 1920.6,1269.2"/><polygon points="1184.9,1310 1181.1,1314.8 1180.2,1314 1175,1315.5 1174.6,1317.3 1168.5,1315.1 1169.6,1313.2 1166.6,1308.9 1164.7,1309.1 1165,1302.7 1166.4,1302.9 1169.8,1298.6 1169.4,1297.2 1175.5,1295.5 1175.7,1297.6 1180.5,1299.4 1182,1297.9 1185.6,1303.2 1183.8,1304 1183.6,1309.2"/><polygon points="1270.3,1323.2 1265.6,1327.4 1264.6,1325.8 1259.3,1326.4 1258.6,1328.3 1253,1325.1 1254.1,1323.6 1251.9,1318.7 1250.5,1318.5 1251.8,1312.5 1253,1312.8 1257.1,1309.1 1256.7,1307.5 1263.2,1306.8 1263.1,1308.4 1267.9,1311.2 1269.3,1310.4 1272,1316.3 1270.2,1316.8 1269.1,1322.1"/><polygon points="1356.7,1310.9 1352.4,1315.6 1351.3,1314.3 1346,1315.4 1345.5,1317.3 1339.6,1314.6 1340.8,1312.9 1338.1,1308.3 1336.7,1308.3 1337.4,1302.2 1338.5,1302.4 1342.2,1298.3 1341.7,1296.9 1347.9,1295.6 1348,1297.2 1352.9,1299.4 1354.3,1298.4 1357.4,1303.9 1355.6,1304.6 1355.1,1309.8"/><polygon points="1443,1318.9 1440.5,1324.5 1439.5,1324 1434.8,1326.7 1434.8,1328.4 1428.4,1327.7 1428.8,1326 1424.8,1322.3 1423.6,1322.6 1422.4,1316.6 1423.3,1316.4 1425.6,1311.3 1424.8,1310.1 1430.4,1306.9 1431,1308.7 1436.4,1309.2 1437.1,1308.3 1441.6,1312.4 1441,1313.1 1442.1,1318.5"/><polygon points="1528.6,1310.4 1524.5,1315.3 1523.2,1313.7 1518.2,1315 1517.8,1317.2 1511.8,1314.8 1512.9,1312.9 1510.2,1308.6 1508.2,1308.8 1508.6,1302.5 1510.5,1302.9 1513.8,1298.9 1513.1,1297.3 1519.1,1295.7 1519.3,1296.9 1524.5,1298.9 1525.7,1298 1529.1,1303.4 1527.7,1304.1 1527.4,1309.6"/><polygon points="1614.9,1319.6 1612,1325.1 1610.7,1324.3 1605.9,1326.7 1605.8,1327.8 1599.8,1326.8 1600.1,1325.5 1596.4,1321.7 1594.4,1322.3 1593.5,1315.9 1595.3,1315.9 1597.9,1311 1596.9,1309.6 1602.7,1306.7 1603.3,1308.7 1608.5,1309.6 1609.7,1308.1 1614.1,1312.7 1612.9,1313.6 1613.7,1319"/><polygon points="1699.9,1310.9 1695.7,1315.5 1694.5,1314.1 1689.4,1315.1 1689,1316.5 1683.5,1314 1683.8,1313.1 1681.1,1308.3 1679.4,1308.3 1680.2,1301.9 1682.2,1302.5 1685.8,1298.6 1685.1,1296.7 1691.4,1295.4 1691.5,1297.3 1696.3,1299.5 1697.7,1298.4 1700.8,1304 1699.5,1304.6 1698.9,1310"/><polygon points="1786.7,1319.8 1783.7,1325.3 1782.2,1324.2 1777.4,1326.4 1777.4,1328.2 1771.2,1327.1 1771.8,1325.2 1768.3,1321.5 1766.6,1321.9 1765.8,1315.8 1767.4,1315.8 1769.9,1311.2 1768.7,1309.5 1774.6,1306.7 1775.2,1308.8 1780.3,1309.8 1781.5,1308.1 1785.9,1312.8 1784.1,1314 1784.8,1319.1"/><polygon points="1870.5,1312.4 1865.6,1316.1 1864.8,1314.6 1859.6,1314.7 1858.9,1316.3 1853.8,1312.8 1854.4,1311.9 1852.6,1306.7 1851.2,1306.4 1853,1300.3 1854.3,1300.8 1858.7,1297.5 1858.6,1296.2 1864.9,1296 1864.6,1297.9 1868.9,1300.9 1870.5,1300 1872.6,1305.9 1871.1,1306.2 1869.5,1311.3"/><polygon points="1956.3,1323.7 1951.4,1327.4 1950.7,1326 1945.4,1326.2 1944.5,1328.1 1939.2,1324.4 1940.8,1322.8 1939.1,1317.9 1936.8,1317.7 1938.7,1311.4 1940.6,1312.4 1944.8,1309.2 1944.5,1307.4 1950.8,1307.3 1950.6,1308.8 1955.1,1311.9 1956.7,1311.1 1958.9,1317.2 1956.6,1317.5 1955.1,1322.5"/></g><circle cx="1219.3" cy="985.1" r="6.9" fill="url(#aO)" stroke="#e8dede" stroke-width="1"/><circle cx="1310" cy="985.1" r="6.9" fill="url(#aO)" stroke="#e8dede" stroke-width="1"/><circle cx="1400.6" cy="985.1" r="6.9" fill="url(#aO)" stroke="#e8dede" stroke-width="1"/><circle cx="1491.2" cy="985.1" r="6.9" fill="url(#aO)" stroke="#e8dede" stroke-width="1"/><circle cx="1581.9" cy="985.1" r="6.9" fill="url(#aO)" stroke="#e8dede" stroke-width="1"/><circle cx="1672.5" cy="985.1" r="6.9" fill="url(#aO)" stroke="#e8dede" stroke-width="1"/><circle cx="1763.2" cy="985.1" r="6.9" fill="url(#aO)" stroke="#e8dede" stroke-width="1"/><circle cx="1853.8" cy="985.1" r="6.9" fill="url(#aO)" stroke="#e8dede" stroke-width="1"/><circle cx="1944.5" cy="985.1" r="6.9" fill="url(#aO)" stroke="#e8dede" stroke-width="1"/><circle cx="1266.3" cy="985" r="15.4" fill="url(#aK)"/><circle cx="1356.8" cy="985" r="15.4" fill="url(#aK)"/><circle cx="1447.4" cy="985" r="15.4" fill="url(#aK)"/><circle cx="1537.9" cy="985" r="15.4" fill="url(#aK)"/><circle cx="1628.5" cy="985" r="15.4" fill="url(#aK)"/><circle cx="1719" cy="985" r="15.4" fill="url(#aK)"/><circle cx="1809.6" cy="985" r="15.4" fill="url(#aK)"/><circle cx="1900.2" cy="985" r="15.4" fill="url(#aK)"/><circle cx="1173.6" cy="1029.3" r="6.9" fill="url(#aO)" stroke="#e8dede" stroke-width="1"/><circle cx="1264.2" cy="1029.3" r="6.9" fill="url(#aO)" stroke="#e8dede" stroke-width="1"/><circle cx="1354.9" cy="1029.3" r="6.9" fill="url(#aO)" stroke="#e8dede" stroke-width="1"/><circle cx="1445.5" cy="1029.3" r="6.9" fill="url(#aO)" stroke="#e8dede" stroke-width="1"/><circle cx="1536.2" cy="1029.3" r="6.9" fill="url(#aO)" stroke="#e8dede" stroke-width="1"/><circle cx="1626.8" cy="1029.3" r="6.9" fill="url(#aO)" stroke="#e8dede" stroke-width="1"/><circle cx="1717.5" cy="1029.3" r="6.9" fill="url(#aO)" stroke="#e8dede" stroke-width="1"/><circle cx="1808.2" cy="1029.3" r="6.9" fill="url(#aO)" stroke="#e8dede" stroke-width="1"/><circle cx="1898.8" cy="1029.3" r="6.9" fill="url(#aO)" stroke="#e8dede" stroke-width="1"/><circle cx="1219.3" cy="1029.1" r="13" fill="url(#aW)" stroke="#e8e8ee" stroke-width="1"/><circle cx="1310" cy="1029.1" r="13" fill="url(#aW)" stroke="#e8e8ee" stroke-width="1"/><circle cx="1400.6" cy="1029.1" r="13" fill="url(#aW)" stroke="#e8e8ee" stroke-width="1"/><circle cx="1491.2" cy="1029.1" r="13" fill="url(#aW)" stroke="#e8e8ee" stroke-width="1"/><circle cx="1581.9" cy="1029.1" r="13" fill="url(#aW)" stroke="#e8e8ee" stroke-width="1"/><circle cx="1672.5" cy="1029.1" r="13" fill="url(#aW)" stroke="#e8e8ee" stroke-width="1"/><circle cx="1763.2" cy="1029.1" r="13" fill="url(#aW)" stroke="#e8e8ee" stroke-width="1"/><circle cx="1853.8" cy="1029.1" r="13" fill="url(#aW)" stroke="#e8e8ee" stroke-width="1"/><circle cx="1944.5" cy="1029.1" r="13" fill="url(#aW)" stroke="#e8e8ee" stroke-width="1"/><circle cx="1219.3" cy="1074.6" r="6.9" fill="url(#aO)" stroke="#e8dede" stroke-width="1"/><circle cx="1310" cy="1074.6" r="6.9" fill="url(#aO)" stroke="#e8dede" stroke-width="1"/><circle cx="1400.6" cy="1074.6" r="6.9" fill="url(#aO)" stroke="#e8dede" stroke-width="1"/><circle cx="1491.2" cy="1074.6" r="6.9" fill="url(#aO)" stroke="#e8dede" stroke-width="1"/><circle cx="1581.9" cy="1074.6" r="6.9" fill="url(#aO)" stroke="#e8dede" stroke-width="1"/><circle cx="1672.5" cy="1074.6" r="6.9" fill="url(#aO)" stroke="#e8dede" stroke-width="1"/><circle cx="1763.2" cy="1074.6" r="6.9" fill="url(#aO)" stroke="#e8dede" stroke-width="1"/><circle cx="1853.8" cy="1074.6" r="6.9" fill="url(#aO)" stroke="#e8dede" stroke-width="1"/><circle cx="1944.5" cy="1074.6" r="6.9" fill="url(#aO)" stroke="#e8dede" stroke-width="1"/><circle cx="1263" cy="1073.2" r="15.4" fill="url(#aK)"/><circle cx="1355.2" cy="1073.2" r="15.4" fill="url(#aK)"/><circle cx="1538" cy="1073.2" r="15.4" fill="url(#aK)"/><circle cx="1626.3" cy="1073.2" r="15.4" fill="url(#aK)"/><circle cx="1807.3" cy="1073.2" r="15.4" fill="url(#aK)"/><circle cx="1170.8" cy="1124.8" r="6.9" fill="url(#aO)" stroke="#d9c9c9" stroke-width="1"/><circle cx="1261" cy="1124.8" r="6.9" fill="url(#aO)" stroke="#d9c9c9" stroke-width="1"/><circle cx="1351.2" cy="1124.8" r="6.9" fill="url(#aO)" stroke="#d9c9c9" stroke-width="1"/><circle cx="1441.4" cy="1124.8" r="6.9" fill="url(#aO)" stroke="#d9c9c9" stroke-width="1"/><circle cx="1531.6" cy="1124.8" r="6.9" fill="url(#aO)" stroke="#d9c9c9" stroke-width="1"/><circle cx="1621.8" cy="1124.8" r="6.9" fill="url(#aO)" stroke="#d9c9c9" stroke-width="1"/><circle cx="1712" cy="1124.8" r="6.9" fill="url(#aO)" stroke="#d9c9c9" stroke-width="1"/><circle cx="1802.2" cy="1124.8" r="6.9" fill="url(#aO)" stroke="#d9c9c9" stroke-width="1"/><circle cx="1892.4" cy="1124.8" r="6.9" fill="url(#aO)" stroke="#d9c9c9" stroke-width="1"/><circle cx="1217" cy="1122.3" r="13" fill="url(#aW)" stroke="#d5dbe6" stroke-width="1"/><circle cx="1307.2" cy="1131" r="13" fill="url(#aW)" stroke="#d5dbe6" stroke-width="1"/><circle cx="1397.4" cy="1122.3" r="13" fill="url(#aW)" stroke="#d5dbe6" stroke-width="1"/><circle cx="1487.6" cy="1131" r="13" fill="url(#aW)" stroke="#d5dbe6" stroke-width="1"/><circle cx="1577.8" cy="1122.3" r="13" fill="url(#aW)" stroke="#d5dbe6" stroke-width="1"/><circle cx="1668" cy="1131" r="13" fill="url(#aW)" stroke="#d5dbe6" stroke-width="1"/><circle cx="1758.2" cy="1122.3" r="13" fill="url(#aW)" stroke="#d5dbe6" stroke-width="1"/><circle cx="1848.4" cy="1131" r="13" fill="url(#aW)" stroke="#d5dbe6" stroke-width="1"/><circle cx="1938.6" cy="1122.3" r="13" fill="url(#aW)" stroke="#d5dbe6" stroke-width="1"/><circle cx="1215.9" cy="1171" r="6.9" fill="url(#aO)" stroke="#d9c9c9" stroke-width="1"/><circle cx="1304.6" cy="1171" r="6.9" fill="url(#aO)" stroke="#d9c9c9" stroke-width="1"/><circle cx="1396.3" cy="1171" r="6.9" fill="url(#aO)" stroke="#d9c9c9" stroke-width="1"/><circle cx="1485.4" cy="1171" r="6.9" fill="url(#aO)" stroke="#d9c9c9" stroke-width="1"/><circle cx="1576.7" cy="1171" r="6.9" fill="url(#aO)" stroke="#d9c9c9" stroke-width="1"/><circle cx="1665.6" cy="1171" r="6.9" fill="url(#aO)" stroke="#d9c9c9" stroke-width="1"/><circle cx="1756.9" cy="1171" r="6.9" fill="url(#aO)" stroke="#d9c9c9" stroke-width="1"/><circle cx="1846" cy="1171" r="6.9" fill="url(#aO)" stroke="#d9c9c9" stroke-width="1"/><circle cx="1937.3" cy="1171" r="6.9" fill="url(#aO)" stroke="#d9c9c9" stroke-width="1"/><circle cx="1262.1" cy="1170" r="15.4" fill="url(#aK)"/><circle cx="1533.8" cy="1171" r="15.4" fill="url(#aK)"/><circle cx="1806.4" cy="1170" r="15.4" fill="url(#aK)"/><circle cx="1175.2" cy="1232.6" r="6.9" fill="url(#aO)" stroke="#e9d9c9" stroke-width="1"/><circle cx="1261" cy="1216.4" r="6.9" fill="url(#aO)" stroke="#e9d9c9" stroke-width="1"/><circle cx="1346.9" cy="1232.6" r="6.9" fill="url(#aO)" stroke="#e9d9c9" stroke-width="1"/><circle cx="1432.8" cy="1216.4" r="6.9" fill="url(#aO)" stroke="#e9d9c9" stroke-width="1"/><circle cx="1518.6" cy="1232.6" r="6.9" fill="url(#aO)" stroke="#e9d9c9" stroke-width="1"/><circle cx="1604.5" cy="1216.4" r="6.9" fill="url(#aO)" stroke="#e9d9c9" stroke-width="1"/><circle cx="1690.3" cy="1232.6" r="6.9" fill="url(#aO)" stroke="#e9d9c9" stroke-width="1"/><circle cx="1776.2" cy="1216.4" r="6.9" fill="url(#aO)" stroke="#e9d9c9" stroke-width="1"/><circle cx="1862" cy="1232.6" r="6.9" fill="url(#aO)" stroke="#e9d9c9" stroke-width="1"/><circle cx="1947.8" cy="1216.4" r="6.9" fill="url(#aO)" stroke="#e9d9c9" stroke-width="1"/><circle cx="1223.6" cy="1267" r="6.9" fill="url(#aO)" stroke="#e9d9c9" stroke-width="1"/><circle cx="1295.9" cy="1269.6" r="6.9" fill="url(#aO)" stroke="#e9d9c9" stroke-width="1"/><circle cx="1395.1" cy="1267" r="6.9" fill="url(#aO)" stroke="#e9d9c9" stroke-width="1"/><circle cx="1467.5" cy="1269.6" r="6.9" fill="url(#aO)" stroke="#e9d9c9" stroke-width="1"/><circle cx="1567.6" cy="1267" r="6.9" fill="url(#aO)" stroke="#e9d9c9" stroke-width="1"/><circle cx="1639.5" cy="1269.6" r="6.9" fill="url(#aO)" stroke="#e9d9c9" stroke-width="1"/><circle cx="1739.6" cy="1267.4" r="6.9" fill="url(#aO)" stroke="#e9d9c9" stroke-width="1"/><circle cx="1811.6" cy="1269.6" r="6.9" fill="url(#aO)" stroke="#e9d9c9" stroke-width="1"/><circle cx="1911.6" cy="1266.7" r="6.9" fill="url(#aO)" stroke="#e9d9c9" stroke-width="1"/><circle cx="1175.2" cy="1306.3" r="6.9" fill="url(#aO)" stroke="#e9d9c9" stroke-width="1"/><circle cx="1261" cy="1317.6" r="6.9" fill="url(#aO)" stroke="#e9d9c9" stroke-width="1"/><circle cx="1346.9" cy="1306.3" r="6.9" fill="url(#aO)" stroke="#e9d9c9" stroke-width="1"/><circle cx="1432.8" cy="1317.6" r="6.9" fill="url(#aO)" stroke="#e9d9c9" stroke-width="1"/><circle cx="1518.6" cy="1306.3" r="6.9" fill="url(#aO)" stroke="#e9d9c9" stroke-width="1"/><circle cx="1604.5" cy="1317.6" r="6.9" fill="url(#aO)" stroke="#e9d9c9" stroke-width="1"/><circle cx="1690.3" cy="1306.3" r="6.9" fill="url(#aO)" stroke="#e9d9c9" stroke-width="1"/><circle cx="1776.2" cy="1317.6" r="6.9" fill="url(#aO)" stroke="#e9d9c9" stroke-width="1"/><circle cx="1862" cy="1306.3" r="6.9" fill="url(#aO)" stroke="#e9d9c9" stroke-width="1"/><circle cx="1947.8" cy="1317.6" r="6.9" fill="url(#aO)" stroke="#e9d9c9" stroke-width="1"/><circle cx="1218.8" cy="1219.8" r="13" fill="url(#aW)" stroke="#cfd6e4" stroke-width="1"/><circle cx="1304.6" cy="1232.3" r="13" fill="url(#aW)" stroke="#cfd6e4" stroke-width="1"/><circle cx="1390.5" cy="1219.8" r="13" fill="url(#aW)" stroke="#cfd6e4" stroke-width="1"/><circle cx="1476.3" cy="1232.3" r="13" fill="url(#aW)" stroke="#cfd6e4" stroke-width="1"/><circle cx="1562.2" cy="1219.8" r="13" fill="url(#aW)" stroke="#cfd6e4" stroke-width="1"/><circle cx="1648" cy="1232.3" r="13" fill="url(#aW)" stroke="#cfd6e4" stroke-width="1"/><circle cx="1733.9" cy="1219.8" r="13" fill="url(#aW)" stroke="#cfd6e4" stroke-width="1"/><circle cx="1819.8" cy="1232.3" r="13" fill="url(#aW)" stroke="#cfd6e4" stroke-width="1"/><circle cx="1905.6" cy="1219.8" r="13" fill="url(#aW)" stroke="#cfd6e4" stroke-width="1"/><circle cx="1218.8" cy="1306.3" r="13" fill="url(#aW)" stroke="#cfd6e4" stroke-width="1"/><circle cx="1304.6" cy="1318.2" r="13" fill="url(#aW)" stroke="#cfd6e4" stroke-width="1"/><circle cx="1390.5" cy="1306.3" r="13" fill="url(#aW)" stroke="#cfd6e4" stroke-width="1"/><circle cx="1476.3" cy="1318.2" r="13" fill="url(#aW)" stroke="#cfd6e4" stroke-width="1"/><circle cx="1562.2" cy="1306.3" r="13" fill="url(#aW)" stroke="#cfd6e4" stroke-width="1"/><circle cx="1648" cy="1318.2" r="13" fill="url(#aW)" stroke="#cfd6e4" stroke-width="1"/><circle cx="1733.9" cy="1306.3" r="13" fill="url(#aW)" stroke="#cfd6e4" stroke-width="1"/><circle cx="1819.8" cy="1318.2" r="13" fill="url(#aW)" stroke="#cfd6e4" stroke-width="1"/><circle cx="1905.6" cy="1306.3" r="13" fill="url(#aW)" stroke="#cfd6e4" stroke-width="1"/><path d="M1219.3 1029.1H1944.5" stroke="#000" stroke-width="2.2" fill="none"/><path d="M1217 1122.3L1307.2 1131L1397.4 1122.3L1487.6 1131L1577.8 1122.3L1668 1131L1758.2 1122.3L1848.4 1131L1938.6 1122.3" stroke="#000" stroke-width="2.2" fill="none" stroke-linejoin="round"/><path d="M1218.8 1219.8L1304.6 1232.3L1390.5 1219.8L1476.3 1232.3L1562.2 1219.8L1648 1232.3L1733.9 1219.8L1819.8 1232.3L1905.6 1219.8" stroke="#000" stroke-width="2.2" fill="none" stroke-linejoin="round"/><path d="M1218.8 1306.3L1304.6 1318.2L1390.5 1306.3L1476.3 1318.2L1562.2 1306.3L1648 1318.2L1733.9 1306.3L1819.8 1318.2L1905.6 1306.3" stroke="#000" stroke-width="2.2" fill="none" stroke-linejoin="round"/>
</svg>
</body></html>
